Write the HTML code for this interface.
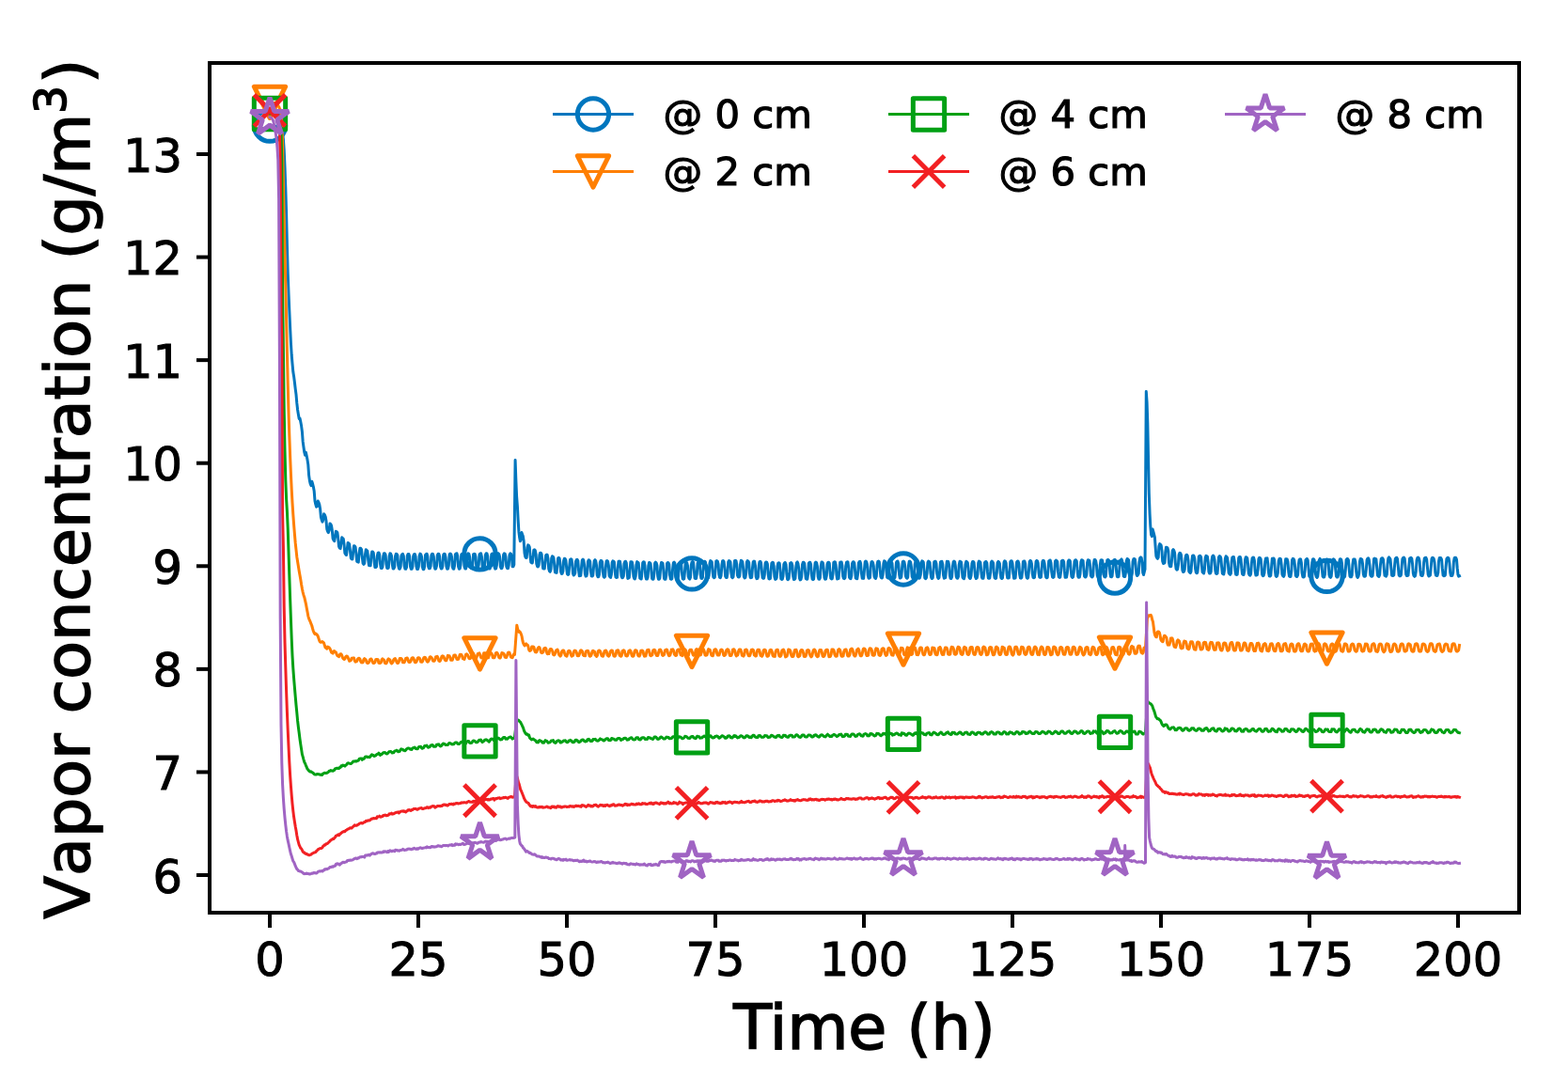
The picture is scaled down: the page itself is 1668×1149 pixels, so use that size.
<!DOCTYPE html><html><head><meta charset="utf-8"><style>html,body{margin:0;padding:0;background:#fff;}svg{display:block;}text{font-family:"DejaVu Sans","Liberation Sans",sans-serif;}</style></head><body>
<svg width="1668" height="1149" viewBox="0 0 1668 1149">
<rect width="1668" height="1149" fill="#fff"/>
<defs><clipPath id="ax"><rect x="223" y="67" width="1393" height="904"/></clipPath></defs>
<g clip-path="url(#ax)">
<path d="M287.0 133.7 L287.8 133.8 L288.6 133.6 L289.4 133.5 L290.2 133.8 L291.0 133.9 L291.8 134.3 L292.6 134.7 L293.4 134.2 L294.2 134.2 L295.0 134.6 L295.8 134.8 L296.6 135.2 L297.4 135.5 L298.2 136.2 L299.0 137.0 L299.8 137.1 L300.6 141.5 L301.4 148.1 L302.2 159.5 L303.0 177.9 L303.8 200.0 L304.6 227.1 L305.4 260.6 L306.2 290.4 L307.0 311.8 L307.8 330.2 L308.6 347.9 L309.4 364.4 L310.2 377.5 L311.0 386.9 L311.8 395.6 L312.6 400.4 L313.4 406.7 L314.2 413.6 L315.0 419.6 L315.8 428.9 L316.6 436.0 L317.4 440.9 L318.2 445.4 L319.0 445.1 L319.8 448.7 L320.6 453.1 L321.4 459.2 L322.2 469.9 L323.0 475.7 L323.8 481.2 L324.6 484.3 L325.4 481.2 L326.2 485.1 L327.0 489.1 L327.8 494.4 L328.6 505.6 L329.4 511.3 L330.2 514.9 L331.0 516.7 L331.8 512.2 L332.6 514.8 L333.4 518.1 L334.2 522.6 L335.0 532.9 L335.8 536.6 L336.6 539.2 L337.4 538.5 L338.2 533.0 L339.0 534.4 L339.8 536.7 L340.6 541.4 L341.4 550.2 L342.2 553.2 L343.0 555.2 L343.8 552.8 L344.6 546.8 L345.4 547.7 L346.2 549.7 L347.0 554.3 L347.8 563.1 L348.6 565.4 L349.4 566.6 L350.2 564.0 L351.0 557.0 L351.8 557.6 L352.5 559.1 L353.3 564.1 L354.1 572.9 L354.9 574.6 L355.7 575.7 L356.5 571.3 L357.3 565.3 L358.1 565.6 L358.9 566.7 L359.7 572.7 L360.5 581.1 L361.3 583.1 L362.1 583.6 L362.9 578.3 L363.7 571.7 L364.5 572.6 L365.3 573.4 L366.1 579.8 L366.9 588.5 L367.7 589.8 L368.5 590.5 L369.3 584.2 L370.1 577.5 L370.9 577.8 L371.7 579.1 L372.5 586.2 L373.3 593.7 L374.1 594.8 L374.9 595.0 L375.7 586.7 L376.5 580.7 L377.3 581.0 L378.1 582.1 L378.9 589.7 L379.7 597.3 L380.5 597.9 L381.3 598.1 L382.1 588.5 L382.9 583.3 L383.7 583.2 L384.5 584.5 L385.3 592.5 L386.1 599.4 L386.9 600.4 L387.7 599.3 L388.5 590.0 L389.3 584.8 L390.1 585.4 L390.9 586.3 L391.7 595.7 L392.5 601.6 L393.3 601.7 L394.1 601.8 L394.9 591.2 L395.7 586.9 L396.5 586.9 L397.3 588.3 L398.1 597.5 L398.9 603.5 L399.7 603.5 L400.5 602.8 L401.3 591.6 L402.1 588.1 L402.9 587.9 L403.7 590.0 L404.5 599.4 L405.3 604.5 L406.1 604.6 L406.9 603.3 L407.7 591.9 L408.5 588.7 L409.3 588.8 L410.1 590.3 L410.9 600.2 L411.7 604.3 L412.5 604.7 L413.3 604.0 L414.1 591.8 L414.9 588.8 L415.7 589.2 L416.5 591.2 L417.3 600.6 L418.1 604.9 L418.9 605.0 L419.7 603.2 L420.5 592.0 L421.3 589.3 L422.1 589.4 L422.9 591.0 L423.7 601.7 L424.5 605.0 L425.3 605.3 L426.1 603.3 L426.9 591.4 L427.7 589.8 L428.5 589.4 L429.3 591.6 L430.1 602.0 L430.9 605.2 L431.7 605.3 L432.5 603.6 L433.3 591.4 L434.1 589.4 L434.9 589.5 L435.7 592.0 L436.5 602.5 L437.3 605.4 L438.1 605.2 L438.9 602.8 L439.7 591.5 L440.5 589.7 L441.3 589.5 L442.1 592.0 L442.9 602.7 L443.7 605.5 L444.5 605.6 L445.3 602.8 L446.1 591.5 L446.9 589.1 L447.7 589.7 L448.5 592.2 L449.3 602.9 L450.1 605.7 L450.9 605.7 L451.7 602.4 L452.5 590.5 L453.3 589.6 L454.1 589.2 L454.9 592.2 L455.7 603.0 L456.5 604.8 L457.3 604.7 L458.1 602.5 L458.9 590.8 L459.7 589.3 L460.5 589.5 L461.3 592.1 L462.1 602.5 L462.9 605.2 L463.7 605.0 L464.5 601.8 L465.3 590.8 L466.1 589.3 L466.9 589.5 L467.7 592.2 L468.5 602.8 L469.3 604.9 L470.1 604.9 L470.9 602.0 L471.7 590.3 L472.5 589.3 L473.3 589.5 L474.1 593.0 L474.9 602.7 L475.7 605.3 L476.5 605.1 L477.3 601.7 L478.1 590.0 L478.9 589.0 L479.7 589.5 L480.5 592.5 L481.3 603.1 L482.0 605.0 L482.8 605.3 L483.6 601.5 L484.4 589.7 L485.2 588.9 L486.0 588.8 L486.8 591.7 L487.6 602.9 L488.4 605.3 L489.2 604.9 L490.0 601.0 L490.8 589.9 L491.6 589.3 L492.4 589.2 L493.2 592.6 L494.0 603.0 L494.8 604.9 L495.6 605.0 L496.4 601.3 L497.2 590.1 L498.0 588.7 L498.8 589.2 L499.6 592.4 L500.4 603.3 L501.2 604.5 L502.0 604.7 L502.8 601.0 L503.6 589.6 L504.4 589.3 L505.2 589.4 L506.0 592.4 L506.8 603.1 L507.6 604.9 L508.4 604.1 L509.2 601.1 L510.0 589.9 L510.8 588.9 L511.6 588.8 L512.4 592.4 L513.2 602.9 L514.0 605.1 L514.8 604.8 L515.6 601.0 L516.4 590.3 L517.2 588.7 L518.0 589.0 L518.8 592.0 L519.6 603.3 L520.4 605.0 L521.2 605.0 L522.0 601.3 L522.8 590.0 L523.6 588.9 L524.4 589.0 L525.2 592.4 L526.0 602.9 L526.8 605.2 L527.6 604.9 L528.4 601.2 L529.2 589.9 L530.0 588.7 L530.8 589.5 L531.6 592.5 L532.4 602.9 L533.2 604.7 L534.0 604.5 L534.8 601.3 L535.6 590.3 L536.4 588.8 L537.2 589.1 L538.0 592.3 L538.8 602.9 L539.6 604.5 L540.4 604.8 L541.2 601.3 L542.0 590.4 L542.8 588.8 L543.6 589.3 L544.4 592.7 L545.2 602.8 L546.0 602.7 L546.8 600.7 L548.1 489.6 L548.9 512.1 L549.6 528.1 L550.4 538.7 L551.1 552.5 L551.9 565.7 L552.6 571.4 L553.4 575.7 L554.2 573.3 L554.9 566.4 L555.7 568.7 L556.4 570.6 L557.2 576.0 L558.0 588.2 L558.7 592.1 L559.5 593.4 L560.2 593.4 L561.0 582.5 L561.7 579.9 L562.5 580.3 L563.3 582.2 L564.0 590.7 L564.8 598.1 L565.5 598.8 L566.3 599.0 L567.0 593.3 L567.8 585.1 L568.6 584.8 L569.3 585.5 L570.1 589.3 L570.8 599.8 L571.6 602.5 L572.3 603.0 L573.1 601.6 L573.9 590.4 L574.6 588.3 L575.4 588.2 L576.1 589.4 L576.9 597.6 L577.7 604.8 L578.4 605.0 L579.2 605.0 L579.9 598.7 L580.7 590.6 L581.4 590.1 L582.2 590.3 L583.0 594.6 L583.7 605.1 L584.5 607.6 L585.2 608.3 L586.0 605.9 L586.7 594.0 L587.5 591.7 L588.3 592.2 L589.0 593.6 L589.8 602.4 L590.5 608.8 L591.3 609.2 L592.1 609.4 L592.8 601.7 L593.6 594.1 L594.3 593.3 L595.1 594.0 L595.8 598.2 L596.6 608.5 L597.4 610.4 L598.1 610.3 L598.9 607.9 L599.6 596.5 L600.4 594.2 L601.1 594.4 L601.9 596.0 L602.7 604.7 L603.4 610.7 L604.2 611.4 L604.9 611.0 L605.7 602.4 L606.5 595.4 L607.2 594.8 L608.0 594.9 L608.7 599.5 L609.5 610.3 L610.2 612.0 L611.0 611.4 L611.8 609.6 L612.5 597.4 L613.3 595.6 L614.0 595.2 L614.8 596.7 L615.5 606.2 L616.3 612.7 L617.1 612.4 L617.8 612.4 L618.6 602.9 L619.3 596.0 L620.1 595.1 L620.8 595.9 L621.6 601.1 L622.4 610.8 L623.1 613.1 L623.9 612.9 L624.6 609.8 L625.4 597.7 L626.2 595.8 L626.9 595.9 L627.7 597.4 L628.4 607.2 L629.2 612.8 L629.9 613.1 L630.7 612.4 L631.5 603.6 L632.2 596.7 L633.0 595.7 L633.7 596.6 L634.5 601.3 L635.2 611.7 L636.0 613.8 L636.8 613.5 L637.5 611.1 L638.3 598.2 L639.0 596.5 L639.8 596.4 L640.6 597.8 L641.3 608.2 L642.1 613.5 L642.8 614.2 L643.6 613.4 L644.3 604.0 L645.1 596.9 L645.9 596.5 L646.6 597.2 L647.4 601.7 L648.1 612.5 L648.9 613.8 L649.6 614.4 L650.4 611.2 L651.2 598.4 L651.9 596.8 L652.7 597.1 L653.4 598.0 L654.2 608.2 L655.0 614.0 L655.7 614.4 L656.5 614.3 L657.2 605.0 L658.0 597.3 L658.7 597.1 L659.5 597.3 L660.3 602.3 L661.0 612.8 L661.8 614.7 L662.5 614.5 L663.3 612.9 L664.0 599.6 L664.8 597.4 L665.6 597.3 L666.3 598.8 L667.1 608.6 L667.8 615.4 L668.6 615.1 L669.3 614.6 L670.1 606.3 L670.9 597.7 L671.6 597.7 L672.4 598.1 L673.1 601.9 L673.9 613.0 L674.7 615.5 L675.4 616.0 L676.2 612.8 L676.9 600.8 L677.7 597.6 L678.4 598.1 L679.2 598.8 L680.0 608.2 L680.7 615.0 L681.5 615.7 L682.2 616.0 L683.0 608.5 L683.7 598.7 L684.5 597.8 L685.3 597.9 L686.0 601.8 L686.8 613.4 L687.5 616.0 L688.3 616.1 L689.1 614.2 L689.8 602.0 L690.6 598.4 L691.3 598.6 L692.1 599.8 L692.8 607.4 L693.6 615.4 L694.4 616.3 L695.1 616.0 L695.9 610.1 L696.6 599.4 L697.4 598.2 L698.1 598.8 L698.9 601.4 L699.7 612.9 L700.4 616.2 L701.2 616.3 L701.9 615.1 L702.7 603.5 L703.5 598.6 L704.2 598.6 L705.0 599.2 L705.7 605.6 L706.5 615.4 L707.2 616.2 L708.0 616.2 L708.8 612.0 L709.5 599.5 L710.3 598.6 L711.0 598.7 L711.8 600.6 L712.5 611.4 L713.3 616.1 L714.1 616.2 L714.8 615.7 L715.6 605.4 L716.3 598.9 L717.1 598.1 L717.8 599.0 L718.6 604.1 L719.4 614.6 L720.1 616.2 L720.9 616.4 L721.6 613.0 L722.4 600.8 L723.2 598.4 L723.9 598.4 L724.7 599.8 L725.4 609.1 L726.2 615.6 L726.9 616.3 L727.7 615.8 L728.5 607.9 L729.2 598.4 L730.0 598.2 L730.7 598.6 L731.5 602.1 L732.2 613.2 L733.0 615.4 L733.8 616.1 L734.5 614.2 L735.3 601.1 L736.0 598.0 L736.8 597.4 L737.6 598.3 L738.3 606.1 L739.1 615.1 L739.8 615.5 L740.6 615.4 L741.3 610.7 L742.1 599.1 L742.9 597.5 L743.6 597.5 L744.4 599.5 L745.1 610.7 L745.9 615.2 L746.6 615.4 L747.4 614.5 L748.2 604.1 L748.9 597.4 L749.7 597.2 L750.4 597.8 L751.2 603.1 L751.9 613.7 L752.7 615.1 L753.5 614.8 L754.2 612.2 L755.0 599.1 L755.7 596.6 L756.5 597.1 L757.3 598.2 L758.0 607.7 L758.8 613.8 L759.5 614.7 L760.3 614.2 L761.0 606.9 L761.8 596.9 L762.6 596.6 L763.3 597.1 L764.1 600.2 L764.8 611.2 L765.6 614.4 L766.3 614.7 L767.1 612.5 L767.9 601.2 L768.6 596.8 L769.4 596.6 L770.1 597.6 L770.9 604.1 L771.7 613.3 L772.4 614.4 L773.2 614.4 L773.9 610.2 L774.7 598.0 L775.4 596.6 L776.2 596.9 L777.0 598.1 L777.7 608.4 L778.5 614.0 L779.2 614.7 L780.0 613.8 L780.7 605.5 L781.5 596.7 L782.3 596.3 L783.0 596.6 L783.8 600.8 L784.5 612.1 L785.3 613.9 L786.1 614.1 L786.8 612.8 L787.6 600.2 L788.3 596.3 L789.1 596.8 L789.8 597.5 L790.6 604.9 L791.4 613.5 L792.1 614.9 L792.9 614.4 L793.6 610.3 L794.4 597.9 L795.1 596.6 L795.9 597.0 L796.7 598.7 L797.4 609.7 L798.2 614.6 L798.9 614.7 L799.7 614.4 L800.4 605.2 L801.2 597.8 L802.0 597.0 L802.7 597.4 L803.5 602.0 L804.2 613.4 L805.0 615.7 L805.8 615.3 L806.5 613.7 L807.3 601.6 L808.0 597.6 L808.8 597.3 L809.5 598.5 L810.3 606.0 L811.1 614.5 L811.8 615.3 L812.6 615.2 L813.3 611.4 L814.1 599.1 L814.8 597.9 L815.6 598.1 L816.4 600.1 L817.1 610.4 L817.9 615.8 L818.6 615.9 L819.4 615.5 L820.2 606.6 L820.9 599.0 L821.7 598.2 L822.4 598.4 L823.2 602.3 L823.9 613.6 L824.7 616.4 L825.5 616.0 L826.2 614.6 L827.0 602.6 L827.7 599.3 L828.5 598.7 L829.2 599.2 L830.0 606.2 L830.8 615.9 L831.5 616.4 L832.3 616.3 L833.0 613.0 L833.8 600.5 L834.6 598.8 L835.3 598.5 L836.1 600.6 L836.8 610.5 L837.6 616.2 L838.3 616.7 L839.1 615.6 L839.9 608.7 L840.6 599.2 L841.4 598.6 L842.1 598.9 L842.9 601.7 L843.6 612.7 L844.4 616.4 L845.2 616.3 L845.9 615.3 L846.7 603.9 L847.4 598.7 L848.2 597.9 L848.9 599.3 L849.7 604.6 L850.5 615.1 L851.2 616.9 L852.0 616.4 L852.7 613.3 L853.5 600.8 L854.3 598.2 L855.0 598.3 L855.8 599.6 L856.5 607.6 L857.3 615.7 L858.0 616.0 L858.8 616.2 L859.6 610.6 L860.3 599.4 L861.1 598.3 L861.8 598.3 L862.6 600.5 L863.3 611.0 L864.1 616.0 L864.9 616.7 L865.6 616.1 L866.4 606.7 L867.1 598.9 L867.9 598.1 L868.7 598.9 L869.4 602.4 L870.2 613.6 L870.9 616.0 L871.7 616.2 L872.4 614.6 L873.2 602.6 L874.0 598.1 L874.7 598.1 L875.5 599.4 L876.2 605.2 L877.0 614.7 L877.7 616.2 L878.5 616.1 L879.3 612.5 L880.0 600.2 L880.8 598.4 L881.5 598.2 L882.3 599.4 L883.0 608.8 L883.8 615.2 L884.6 616.0 L885.3 615.6 L886.1 610.1 L886.8 598.5 L887.6 597.8 L888.4 598.0 L889.1 600.6 L889.9 611.4 L890.6 616.0 L891.4 615.5 L892.1 615.4 L892.9 605.7 L893.7 598.2 L894.4 598.0 L895.2 598.0 L895.9 601.6 L896.7 613.1 L897.4 615.3 L898.2 615.6 L899.0 614.5 L899.7 602.5 L900.5 598.4 L901.2 597.7 L902.0 598.0 L902.8 604.3 L903.5 614.1 L904.3 615.4 L905.0 615.7 L905.8 612.6 L906.5 599.7 L907.3 598.0 L908.1 597.7 L908.8 598.9 L909.6 607.3 L910.3 615.0 L911.1 615.6 L911.8 615.7 L912.6 610.4 L913.4 599.0 L914.1 597.7 L914.9 597.3 L915.6 599.5 L916.4 609.9 L917.2 615.2 L917.9 615.2 L918.7 615.4 L919.4 607.0 L920.2 597.8 L920.9 597.0 L921.7 597.6 L922.5 600.7 L923.2 611.8 L924.0 615.2 L924.7 615.2 L925.5 614.5 L926.2 603.4 L927.0 597.7 L927.8 597.6 L928.5 598.4 L929.3 602.3 L930.0 613.1 L930.8 615.0 L931.5 615.4 L932.3 613.1 L933.1 600.9 L933.8 597.4 L934.6 597.0 L935.3 597.8 L936.1 604.6 L936.9 613.5 L937.6 614.8 L938.4 615.0 L939.1 611.9 L939.9 599.3 L940.6 596.8 L941.4 597.1 L942.2 598.6 L942.9 607.3 L943.7 614.4 L944.4 614.9 L945.2 615.0 L945.9 609.5 L946.7 598.1 L947.5 596.9 L948.2 597.6 L949.0 599.1 L949.7 609.7 L950.5 614.5 L951.3 615.3 L952.0 614.4 L952.8 606.9 L953.5 598.4 L954.3 597.2 L955.0 597.1 L955.8 600.0 L956.6 611.2 L957.3 615.1 L958.1 614.9 L958.8 613.8 L959.6 604.1 L960.3 597.5 L961.1 597.1 L961.9 597.7 L962.6 601.5 L963.4 612.7 L964.1 614.6 L964.9 615.2 L965.7 614.2 L966.4 602.1 L967.2 597.3 L967.9 597.1 L968.7 598.1 L969.4 602.9 L970.2 613.3 L971.0 615.1 L971.7 615.2 L972.5 612.7 L973.2 600.3 L974.0 597.1 L974.7 597.1 L975.5 597.9 L976.3 604.8 L977.0 614.0 L977.8 615.2 L978.5 614.7 L979.3 611.5 L980.0 599.3 L980.8 596.9 L981.6 597.2 L982.3 598.1 L983.1 607.4 L983.8 614.9 L984.6 615.6 L985.4 614.8 L986.1 610.0 L986.9 598.5 L987.6 597.1 L988.4 597.6 L989.1 598.6 L989.9 609.2 L990.7 614.6 L991.4 615.5 L992.2 614.8 L992.9 607.7 L993.7 598.1 L994.4 597.3 L995.2 597.3 L996.0 599.8 L996.7 610.3 L997.5 614.3 L998.2 615.4 L999.0 614.7 L999.8 605.9 L1000.5 597.8 L1001.3 597.4 L1002.0 597.3 L1002.8 600.4 L1003.5 611.6 L1004.3 615.2 L1005.1 614.8 L1005.8 614.6 L1006.6 603.8 L1007.3 597.3 L1008.1 597.5 L1008.8 597.5 L1009.6 601.3 L1010.4 612.5 L1011.1 615.3 L1011.9 615.5 L1012.6 613.8 L1013.4 602.5 L1014.2 597.7 L1014.9 597.0 L1015.7 597.8 L1016.4 602.8 L1017.2 613.2 L1017.9 615.0 L1018.7 615.2 L1019.5 613.4 L1020.2 601.0 L1021.0 597.3 L1021.7 597.5 L1022.5 598.0 L1023.2 604.3 L1024.0 614.1 L1024.8 615.3 L1025.5 615.7 L1026.3 612.5 L1027.0 600.4 L1027.8 597.3 L1028.5 597.8 L1029.3 598.6 L1030.1 604.9 L1030.8 613.9 L1031.6 615.4 L1032.3 615.4 L1033.1 612.2 L1033.9 599.5 L1034.6 597.5 L1035.4 597.5 L1036.1 598.4 L1036.9 606.8 L1037.6 613.9 L1038.4 615.5 L1039.2 614.9 L1039.9 611.4 L1040.7 599.0 L1041.4 597.1 L1042.2 597.5 L1042.9 598.4 L1043.7 607.4 L1044.5 614.3 L1045.2 615.3 L1046.0 615.2 L1046.7 610.5 L1047.5 598.7 L1048.3 597.6 L1049.0 597.4 L1049.8 598.9 L1050.5 608.7 L1051.3 615.1 L1052.0 615.3 L1052.8 615.0 L1053.6 609.3 L1054.3 598.5 L1055.1 597.1 L1055.8 597.7 L1056.6 599.1 L1057.3 609.4 L1058.1 614.7 L1058.9 615.5 L1059.6 615.1 L1060.4 608.5 L1061.1 598.8 L1061.9 597.4 L1062.6 597.9 L1063.4 599.6 L1064.2 609.6 L1064.9 614.9 L1065.7 615.5 L1066.4 615.0 L1067.2 607.9 L1068.0 598.1 L1068.7 596.8 L1069.5 597.3 L1070.2 599.0 L1071.0 610.2 L1071.7 614.8 L1072.5 615.1 L1073.3 614.8 L1074.0 607.4 L1074.8 597.6 L1075.5 596.7 L1076.3 597.0 L1077.0 599.1 L1077.8 610.1 L1078.6 615.3 L1079.3 615.0 L1080.1 614.9 L1080.8 606.6 L1081.6 597.9 L1082.4 597.0 L1083.1 597.2 L1083.9 599.8 L1084.6 610.9 L1085.4 614.9 L1086.1 615.2 L1086.9 614.4 L1087.7 606.8 L1088.4 597.6 L1089.2 597.1 L1089.9 597.1 L1090.7 600.0 L1091.4 609.9 L1092.2 614.6 L1093.0 615.2 L1093.7 614.4 L1094.5 606.3 L1095.2 597.4 L1096.0 596.4 L1096.8 597.0 L1097.5 600.0 L1098.3 610.5 L1099.0 614.3 L1099.8 614.7 L1100.5 614.3 L1101.3 606.7 L1102.1 597.2 L1102.8 596.4 L1103.6 597.0 L1104.3 599.3 L1105.1 609.8 L1105.8 614.1 L1106.6 614.4 L1107.4 614.1 L1108.1 606.1 L1108.9 597.5 L1109.6 596.3 L1110.4 596.7 L1111.1 599.3 L1111.9 609.7 L1112.7 614.0 L1113.4 614.8 L1114.2 614.4 L1114.9 606.8 L1115.7 597.0 L1116.5 596.3 L1117.2 596.0 L1118.0 598.8 L1118.7 608.3 L1119.5 613.8 L1120.2 614.4 L1121.0 614.0 L1121.8 607.5 L1122.5 597.2 L1123.3 596.1 L1124.0 596.5 L1124.8 597.6 L1125.5 608.2 L1126.3 613.7 L1127.1 614.4 L1127.8 614.1 L1128.6 607.9 L1129.3 597.1 L1130.1 596.2 L1130.9 596.2 L1131.6 597.6 L1132.4 607.9 L1133.1 614.3 L1133.9 613.9 L1134.6 614.1 L1135.4 609.5 L1136.2 597.6 L1136.9 596.0 L1137.7 595.9 L1138.4 597.2 L1139.2 606.4 L1139.9 613.4 L1140.7 614.4 L1141.5 613.9 L1142.2 609.6 L1143.0 597.3 L1143.7 595.9 L1144.5 595.7 L1145.3 597.0 L1146.0 605.7 L1146.8 613.3 L1147.5 614.3 L1148.3 614.1 L1149.0 610.6 L1149.8 598.0 L1150.6 595.8 L1151.3 596.0 L1152.1 596.5 L1152.8 604.5 L1153.6 613.0 L1154.3 613.9 L1155.1 613.9 L1155.9 611.2 L1156.6 598.7 L1157.4 595.7 L1158.1 596.0 L1158.9 596.3 L1159.6 602.3 L1160.4 612.4 L1161.2 613.5 L1161.9 614.0 L1162.7 612.3 L1163.4 599.8 L1164.2 595.5 L1165.0 595.5 L1165.7 596.7 L1166.5 601.6 L1167.2 612.0 L1168.0 614.2 L1168.7 614.6 L1169.5 612.9 L1170.3 601.0 L1171.0 596.0 L1171.8 595.8 L1172.5 595.9 L1173.3 600.0 L1174.0 611.3 L1174.8 613.6 L1175.6 614.0 L1176.3 613.1 L1177.1 603.2 L1177.8 595.8 L1178.6 595.5 L1179.4 595.8 L1180.1 599.2 L1180.9 610.5 L1181.6 613.6 L1182.4 613.8 L1183.1 612.9 L1183.9 604.4 L1184.7 596.3 L1185.4 595.5 L1186.2 595.4 L1186.9 597.9 L1187.7 608.8 L1188.4 613.6 L1189.2 613.8 L1190.0 613.4 L1190.7 606.4 L1191.5 596.2 L1192.2 595.8 L1193.0 594.9 L1193.8 597.0 L1194.5 606.8 L1195.3 613.0 L1196.0 613.5 L1196.8 613.4 L1197.5 608.7 L1198.3 596.7 L1199.1 594.5 L1199.8 594.9 L1200.6 595.8 L1201.3 604.0 L1202.1 612.3 L1202.8 613.3 L1203.6 613.2 L1204.4 609.8 L1205.1 597.4 L1205.9 594.7 L1206.6 594.5 L1207.4 595.2 L1208.1 601.2 L1208.9 610.8 L1209.7 612.5 L1210.4 611.9 L1211.2 610.4 L1211.9 597.9 L1212.7 593.6 L1213.5 592.9 L1214.2 593.5 L1215.0 598.2 L1215.7 609.3 L1216.5 611.5 L1217.2 608.8 L1218.0 605.7 L1219.3 416.5 L1220.1 428.2 L1220.8 449.7 L1221.6 490.9 L1222.3 525.1 L1223.1 546.8 L1223.8 559.6 L1224.6 568.9 L1225.4 570.6 L1226.1 563.0 L1226.9 565.6 L1227.6 568.4 L1228.4 571.5 L1229.1 581.3 L1229.9 591.6 L1230.7 593.5 L1231.4 594.3 L1232.2 592.9 L1232.9 581.2 L1233.7 578.6 L1234.4 579.1 L1235.2 580.3 L1236.0 586.1 L1236.7 597.1 L1237.5 599.4 L1238.2 599.3 L1239.0 598.7 L1239.7 588.0 L1240.5 582.3 L1241.3 582.5 L1242.0 582.9 L1242.8 586.4 L1243.5 598.5 L1244.3 602.2 L1245.0 602.7 L1245.8 602.6 L1246.6 594.8 L1247.3 585.9 L1248.1 584.7 L1248.8 585.7 L1249.6 588.1 L1250.3 598.6 L1251.1 605.0 L1251.9 606.1 L1252.6 605.7 L1253.4 601.0 L1254.1 590.3 L1254.9 588.3 L1255.6 588.4 L1256.4 590.1 L1257.2 598.4 L1257.9 606.8 L1258.7 608.5 L1259.4 608.3 L1260.2 605.9 L1261.0 593.6 L1261.7 590.6 L1262.5 590.2 L1263.2 591.1 L1264.0 596.3 L1264.7 607.7 L1265.5 608.9 L1266.3 609.6 L1267.0 608.2 L1267.8 597.3 L1268.5 591.3 L1269.3 590.9 L1270.0 591.3 L1270.8 594.2 L1271.6 605.1 L1272.3 609.1 L1273.1 609.7 L1273.8 609.2 L1274.6 602.3 L1275.3 592.0 L1276.1 591.2 L1276.9 591.4 L1277.6 592.7 L1278.4 601.8 L1279.1 608.7 L1279.9 609.4 L1280.6 610.0 L1281.4 605.8 L1282.2 593.7 L1282.9 591.3 L1283.7 591.6 L1284.4 592.2 L1285.2 598.5 L1285.9 608.3 L1286.7 610.0 L1287.5 610.0 L1288.2 608.3 L1289.0 596.6 L1289.7 592.1 L1290.5 591.0 L1291.2 591.9 L1292.0 595.3 L1292.8 606.9 L1293.5 610.3 L1294.3 610.4 L1295.0 610.0 L1295.8 601.1 L1296.5 592.8 L1297.3 591.6 L1298.1 592.0 L1298.8 593.8 L1299.6 603.2 L1300.3 609.9 L1301.1 610.8 L1301.8 610.9 L1302.6 606.5 L1303.4 594.2 L1304.1 591.8 L1304.9 592.4 L1305.6 593.5 L1306.4 599.9 L1307.1 609.4 L1307.9 610.6 L1308.7 611.3 L1309.4 610.1 L1310.2 597.6 L1310.9 593.0 L1311.7 592.5 L1312.4 592.5 L1313.2 596.9 L1314.0 607.5 L1314.7 611.1 L1315.5 611.5 L1316.2 611.1 L1317.0 603.0 L1317.7 593.6 L1318.5 592.5 L1319.3 592.5 L1320.0 594.6 L1320.8 604.2 L1321.5 610.7 L1322.3 611.4 L1323.0 611.5 L1323.8 607.5 L1324.6 595.1 L1325.3 592.7 L1326.1 593.0 L1326.8 593.9 L1327.6 600.5 L1328.3 609.8 L1329.1 611.7 L1329.9 612.2 L1330.6 610.7 L1331.4 599.3 L1332.1 594.0 L1332.9 593.1 L1333.6 593.2 L1334.4 596.2 L1335.2 607.8 L1335.9 612.0 L1336.7 611.9 L1337.4 611.6 L1338.2 605.6 L1338.9 594.8 L1339.7 593.3 L1340.5 593.7 L1341.2 595.0 L1342.0 603.0 L1342.7 611.4 L1343.5 612.6 L1344.2 612.3 L1345.0 609.4 L1345.8 597.2 L1346.5 594.0 L1347.3 594.1 L1348.0 593.7 L1348.8 599.6 L1349.6 609.7 L1350.3 612.8 L1351.1 613.1 L1351.8 612.3 L1352.6 602.8 L1353.3 594.3 L1354.1 594.1 L1354.9 593.9 L1355.6 595.5 L1356.4 607.1 L1357.1 612.6 L1357.9 613.5 L1358.6 612.6 L1359.4 609.2 L1360.2 596.8 L1360.9 594.6 L1361.7 594.2 L1362.4 594.7 L1363.2 601.2 L1363.9 610.9 L1364.7 612.7 L1365.5 613.3 L1366.2 611.8 L1367.0 600.8 L1367.7 594.7 L1368.5 594.8 L1369.2 595.0 L1370.0 597.5 L1370.8 608.8 L1371.5 612.9 L1372.3 613.4 L1373.0 613.4 L1373.8 607.3 L1374.5 596.0 L1375.3 594.3 L1376.1 594.6 L1376.8 596.1 L1377.6 603.2 L1378.3 612.4 L1379.1 613.4 L1379.8 613.4 L1380.6 611.6 L1381.4 600.0 L1382.1 595.6 L1382.9 594.8 L1383.6 594.9 L1384.4 598.8 L1385.1 609.8 L1385.9 613.8 L1386.7 614.0 L1387.4 613.5 L1388.2 606.6 L1388.9 595.9 L1389.7 594.8 L1390.4 594.5 L1391.2 596.2 L1392.0 604.5 L1392.7 612.9 L1393.5 613.8 L1394.2 614.0 L1395.0 611.8 L1395.7 598.7 L1396.5 595.0 L1397.3 594.7 L1398.0 595.6 L1398.8 599.9 L1399.5 610.9 L1400.3 613.8 L1401.0 614.5 L1401.8 613.2 L1402.6 606.2 L1403.3 595.9 L1404.1 594.4 L1404.8 595.8 L1405.6 597.0 L1406.3 605.3 L1407.1 613.3 L1407.9 614.1 L1408.6 614.1 L1409.4 611.2 L1410.1 598.7 L1410.9 595.4 L1411.6 595.1 L1412.4 595.8 L1413.2 599.8 L1413.9 611.6 L1414.7 613.8 L1415.4 614.3 L1416.2 613.1 L1416.9 605.3 L1417.7 596.3 L1418.5 594.8 L1419.2 595.2 L1420.0 596.6 L1420.7 605.4 L1421.5 613.1 L1422.2 614.0 L1423.0 613.9 L1423.8 611.8 L1424.5 599.0 L1425.3 595.0 L1426.0 594.7 L1426.8 595.4 L1427.5 599.4 L1428.3 610.9 L1429.1 614.5 L1429.8 614.3 L1430.6 613.5 L1431.3 606.2 L1432.1 595.7 L1432.9 594.6 L1433.6 594.6 L1434.4 595.9 L1435.1 604.0 L1435.9 612.9 L1436.6 613.8 L1437.4 613.8 L1438.2 611.9 L1438.9 600.7 L1439.7 595.1 L1440.4 595.0 L1441.2 595.0 L1441.9 597.8 L1442.7 608.1 L1443.5 613.4 L1444.2 614.4 L1445.0 613.2 L1445.7 609.9 L1446.5 597.4 L1447.2 594.6 L1448.0 594.6 L1448.8 595.2 L1449.5 599.4 L1450.3 610.6 L1451.0 613.1 L1451.8 613.3 L1452.5 612.8 L1453.3 606.1 L1454.1 595.6 L1454.8 594.3 L1455.6 593.8 L1456.3 595.6 L1457.1 602.0 L1457.8 611.7 L1458.6 613.1 L1459.4 613.3 L1460.1 612.5 L1460.9 603.3 L1461.6 594.4 L1462.4 594.1 L1463.1 594.7 L1463.9 594.8 L1464.7 603.6 L1465.4 611.9 L1466.2 613.0 L1466.9 613.4 L1467.7 611.5 L1468.4 601.4 L1469.2 594.7 L1470.0 593.7 L1470.7 593.7 L1471.5 595.4 L1472.2 604.0 L1473.0 612.3 L1473.7 612.7 L1474.5 613.1 L1475.3 611.2 L1476.0 600.7 L1476.8 594.1 L1477.5 592.9 L1478.3 593.7 L1479.0 595.0 L1479.8 603.9 L1480.6 612.1 L1481.3 612.5 L1482.1 612.5 L1482.8 611.8 L1483.6 600.9 L1484.3 594.4 L1485.1 593.5 L1485.9 593.3 L1486.6 594.9 L1487.4 603.5 L1488.1 611.7 L1488.9 612.7 L1489.6 612.7 L1490.4 611.7 L1491.2 602.0 L1491.9 594.7 L1492.7 593.4 L1493.4 593.1 L1494.2 594.4 L1494.9 601.7 L1495.7 611.0 L1496.5 612.6 L1497.2 612.5 L1498.0 612.1 L1498.7 604.3 L1499.5 594.3 L1500.2 593.6 L1501.0 593.3 L1501.8 594.2 L1502.5 599.5 L1503.3 609.9 L1504.0 612.5 L1504.8 613.3 L1505.5 612.6 L1506.3 607.7 L1507.1 596.0 L1507.8 593.6 L1508.6 593.1 L1509.3 593.8 L1510.1 596.8 L1510.8 606.9 L1511.6 612.1 L1512.4 612.6 L1513.1 612.5 L1513.9 610.0 L1514.6 598.5 L1515.4 593.8 L1516.2 593.4 L1516.9 593.2 L1517.7 595.3 L1518.4 603.1 L1519.2 611.3 L1519.9 613.0 L1520.7 612.5 L1521.5 611.8 L1522.2 604.1 L1523.0 594.5 L1523.7 593.3 L1524.5 593.4 L1525.2 594.3 L1526.0 598.2 L1526.8 609.0 L1527.5 612.1 L1528.3 612.5 L1529.0 612.3 L1529.8 609.1 L1530.5 597.2 L1531.3 593.4 L1532.1 593.4 L1532.8 593.7 L1533.6 595.3 L1534.3 604.4 L1535.1 612.0 L1535.8 612.7 L1536.6 612.5 L1537.4 611.8 L1538.1 603.2 L1538.9 594.6 L1539.6 593.6 L1540.4 593.2 L1541.1 594.0 L1541.9 598.9 L1542.7 609.0 L1543.4 612.4 L1544.2 612.5 L1544.9 612.3 L1545.7 609.4 L1546.4 598.0 L1547.2 593.6 L1548.0 593.2 L1548.7 593.4 L1549.5 595.3 L1550.2 604.2 L1551.0 611.5 L1551.7 613.2 L1552.5 612.8" fill="none" stroke="#0076be" stroke-width="3.00" stroke-linejoin="round" stroke-linecap="square"/>
<circle cx="287.00" cy="133.70" r="16.66" fill="none" stroke="#0076be" stroke-width="5.00"/>
<circle cx="510.50" cy="589.40" r="16.66" fill="none" stroke="#0076be" stroke-width="5.00"/>
<circle cx="736.00" cy="610.40" r="16.66" fill="none" stroke="#0076be" stroke-width="5.00"/>
<circle cx="961.00" cy="605.50" r="16.66" fill="none" stroke="#0076be" stroke-width="5.00"/>
<circle cx="1186.00" cy="614.60" r="16.66" fill="none" stroke="#0076be" stroke-width="5.00"/>
<circle cx="1411.50" cy="612.90" r="16.66" fill="none" stroke="#0076be" stroke-width="5.00"/>
<path d="M287.0 109.2 L287.8 108.9 L288.6 109.1 L289.4 108.7 L290.2 109.2 L291.0 109.4 L291.8 109.5 L292.6 109.3 L293.4 110.3 L294.2 110.4 L295.0 111.2 L295.8 112.2 L296.6 113.5 L297.4 115.2 L298.2 116.7 L299.0 120.9 L299.8 133.5 L300.6 152.5 L301.4 194.1 L302.2 231.9 L303.0 267.9 L303.8 303.7 L304.6 340.1 L305.4 374.5 L306.2 407.8 L307.0 438.2 L307.8 463.0 L308.6 484.9 L309.4 503.8 L310.2 520.6 L311.0 534.8 L311.8 547.2 L312.6 558.2 L313.4 568.1 L314.2 577.5 L315.0 584.8 L315.8 592.4 L316.6 597.6 L317.4 602.6 L318.2 607.5 L319.0 611.9 L319.8 616.6 L320.6 621.8 L321.4 626.2 L322.2 630.1 L323.0 633.2 L323.8 635.4 L324.6 638.8 L325.4 642.3 L326.2 646.8 L327.0 650.9 L327.8 655.3 L328.6 658.1 L329.4 660.0 L330.2 661.6 L330.9 663.7 L331.7 665.5 L332.5 668.5 L333.3 671.2 L334.1 673.2 L334.9 674.6 L335.7 674.1 L336.5 674.6 L337.3 675.4 L338.1 676.6 L338.9 678.9 L339.7 681.5 L340.5 682.9 L341.3 683.3 L342.1 682.9 L342.9 682.6 L343.7 683.4 L344.5 683.8 L345.3 686.6 L346.1 688.9 L346.9 689.3 L347.7 690.1 L348.5 688.1 L349.3 688.5 L350.1 688.8 L350.9 690.0 L351.7 691.7 L352.5 694.1 L353.3 694.5 L354.1 695.1 L354.9 692.9 L355.7 692.6 L356.5 693.7 L357.3 693.7 L358.1 696.1 L358.9 697.7 L359.7 698.0 L360.5 698.7 L361.3 696.8 L362.1 695.8 L362.9 695.8 L363.7 697.2 L364.5 699.7 L365.3 701.0 L366.1 701.4 L366.9 700.9 L367.7 698.8 L368.5 698.0 L369.3 698.2 L370.1 699.4 L370.9 701.5 L371.7 703.3 L372.5 702.9 L373.3 702.6 L374.1 700.3 L374.9 700.1 L375.7 699.9 L376.5 700.0 L377.3 703.0 L378.1 704.2 L378.9 703.9 L379.7 703.5 L380.5 701.2 L381.3 700.5 L382.1 700.3 L382.9 701.1 L383.7 703.7 L384.5 704.8 L385.3 704.9 L386.1 704.7 L386.9 701.7 L387.7 700.7 L388.5 701.3 L389.3 702.1 L390.1 704.7 L390.9 705.6 L391.7 705.3 L392.5 704.6 L393.3 702.1 L394.1 701.2 L394.9 701.0 L395.7 702.5 L396.5 704.8 L397.3 705.6 L398.1 705.3 L398.9 704.6 L399.7 701.6 L400.5 701.4 L401.3 701.6 L402.1 701.7 L402.9 705.3 L403.7 705.4 L404.5 705.4 L405.3 705.0 L406.1 701.7 L406.9 700.9 L407.7 701.8 L408.5 702.0 L409.3 705.2 L410.1 705.7 L410.9 705.9 L411.7 704.4 L412.5 701.7 L413.3 700.9 L414.1 701.4 L414.9 701.9 L415.7 704.9 L416.5 705.9 L417.2 705.5 L418.0 704.2 L418.8 701.7 L419.6 700.9 L420.4 700.6 L421.2 702.1 L422.0 704.5 L422.8 705.5 L423.6 705.4 L424.4 703.7 L425.2 700.6 L426.0 700.6 L426.8 700.6 L427.6 701.5 L428.4 704.7 L429.2 704.4 L430.0 704.8 L430.8 703.3 L431.6 700.4 L432.4 700.3 L433.2 700.0 L434.0 701.7 L434.8 704.3 L435.6 704.5 L436.4 704.3 L437.2 702.8 L438.0 700.3 L438.8 699.7 L439.6 700.0 L440.4 701.6 L441.2 704.4 L442.0 704.8 L442.8 704.3 L443.6 702.4 L444.4 700.1 L445.2 699.7 L446.0 699.9 L446.8 701.1 L447.6 704.1 L448.4 704.3 L449.2 704.2 L450.0 702.4 L450.8 699.6 L451.6 699.3 L452.4 699.4 L453.2 701.0 L454.0 703.4 L454.8 704.2 L455.6 703.7 L456.4 702.0 L457.2 699.0 L458.0 698.8 L458.8 699.4 L459.6 700.4 L460.4 702.9 L461.2 703.3 L462.0 703.2 L462.8 701.9 L463.6 698.7 L464.4 698.7 L465.2 698.3 L466.0 700.2 L466.8 703.0 L467.6 703.5 L468.4 702.8 L469.2 701.0 L470.0 698.3 L470.8 697.8 L471.6 698.1 L472.4 699.7 L473.2 701.9 L474.0 702.8 L474.8 702.7 L475.6 700.2 L476.4 697.4 L477.2 697.9 L478.0 697.7 L478.8 699.6 L479.6 702.3 L480.4 702.0 L481.2 702.2 L482.0 699.7 L482.8 697.2 L483.6 697.0 L484.4 697.1 L485.2 699.1 L486.0 701.4 L486.8 701.6 L487.6 701.4 L488.4 699.2 L489.2 696.4 L490.0 696.3 L490.8 696.4 L491.6 698.1 L492.4 700.8 L493.2 700.9 L494.0 701.4 L494.8 698.9 L495.6 696.1 L496.4 695.8 L497.2 696.5 L498.0 697.8 L498.8 700.3 L499.6 700.7 L500.4 700.5 L501.2 698.5 L502.0 695.5 L502.8 695.9 L503.6 695.2 L504.3 697.5 L505.1 699.7 L505.9 700.7 L506.7 700.0 L507.5 697.8 L508.3 695.4 L509.1 695.3 L509.9 694.9 L510.7 696.9 L511.5 699.4 L512.3 700.1 L513.1 699.9 L513.9 697.5 L514.7 694.8 L515.5 694.8 L516.3 694.8 L517.1 697.0 L517.9 700.0 L518.7 699.4 L519.5 699.8 L520.3 697.4 L521.1 695.0 L521.9 694.5 L522.7 694.8 L523.5 696.4 L524.3 699.7 L525.1 699.8 L525.9 699.7 L526.7 697.6 L527.5 694.7 L528.3 694.2 L529.1 694.9 L529.9 696.6 L530.7 699.4 L531.5 700.0 L532.3 699.9 L533.1 697.2 L533.9 694.5 L534.7 694.9 L535.5 695.0 L536.3 696.2 L537.1 699.1 L537.9 699.5 L538.7 699.5 L539.5 697.1 L540.3 694.6 L541.1 694.1 L541.9 694.2 L542.7 696.5 L543.5 699.1 L544.3 699.6 L545.1 699.7 L545.9 697.6 L546.7 695.7 L547.5 696.5 L549.8 665.2 L550.6 668.8 L551.3 671.1 L552.1 672.5 L552.8 671.8 L553.6 672.9 L554.3 674.5 L555.1 676.9 L555.9 681.5 L556.6 684.2 L557.4 686.0 L558.1 687.0 L558.9 685.7 L559.7 684.8 L560.4 686.1 L561.2 686.1 L561.9 687.7 L562.7 691.4 L563.4 692.4 L564.2 692.3 L565.0 691.5 L565.7 688.1 L566.5 688.0 L567.2 688.1 L568.0 688.6 L568.8 692.5 L569.5 693.7 L570.3 693.9 L571.0 693.5 L571.8 690.4 L572.5 689.1 L573.3 688.5 L574.1 689.2 L574.8 691.4 L575.6 694.1 L576.3 694.7 L577.1 694.4 L577.9 693.7 L578.6 690.1 L579.4 689.6 L580.1 689.2 L580.9 690.2 L581.6 694.3 L582.4 695.8 L583.2 695.6 L583.9 695.6 L584.7 691.7 L585.4 690.4 L586.2 690.5 L586.9 691.0 L587.7 692.8 L588.5 696.4 L589.2 696.9 L590.0 696.4 L590.7 694.8 L591.5 691.9 L592.3 691.4 L593.0 691.1 L593.8 692.9 L594.5 696.3 L595.3 697.3 L596.0 698.1 L596.8 697.3 L597.6 693.4 L598.3 692.3 L599.1 691.9 L599.8 692.3 L600.6 695.0 L601.4 697.4 L602.1 697.7 L602.9 698.2 L603.6 696.1 L604.4 692.7 L605.1 692.3 L605.9 692.4 L606.7 693.6 L607.4 696.8 L608.2 698.2 L608.9 697.6 L609.7 697.3 L610.5 693.1 L611.2 692.1 L612.0 692.3 L612.7 692.8 L613.5 694.8 L614.2 697.6 L615.0 697.8 L615.8 697.6 L616.5 695.5 L617.3 692.5 L618.0 691.7 L618.8 692.3 L619.6 693.2 L620.3 696.7 L621.1 697.6 L621.8 697.5 L622.6 697.8 L623.3 693.1 L624.1 692.6 L624.9 692.3 L625.6 692.4 L626.4 694.8 L627.1 697.9 L627.9 698.3 L628.6 697.6 L629.4 695.7 L630.2 692.7 L630.9 692.2 L631.7 692.7 L632.4 693.1 L633.2 697.1 L634.0 697.6 L634.7 698.4 L635.5 697.2 L636.2 692.8 L637.0 692.1 L637.7 692.1 L638.5 692.9 L639.3 695.0 L640.0 697.7 L640.8 698.1 L641.5 698.2 L642.3 695.7 L643.1 692.6 L643.8 692.2 L644.6 692.1 L645.3 693.2 L646.1 697.0 L646.8 697.7 L647.6 698.2 L648.4 697.1 L649.1 693.6 L649.9 692.3 L650.6 692.0 L651.4 692.2 L652.2 695.0 L652.9 697.8 L653.7 698.2 L654.4 698.0 L655.2 696.0 L655.9 692.2 L656.7 692.1 L657.5 691.7 L658.2 693.3 L659.0 697.0 L659.7 697.8 L660.5 698.3 L661.2 697.7 L662.0 692.7 L662.8 692.1 L663.5 691.7 L664.3 692.6 L665.0 695.5 L665.8 697.6 L666.6 698.0 L667.3 697.8 L668.1 696.0 L668.8 692.5 L669.6 692.3 L670.3 691.8 L671.1 693.3 L671.9 696.5 L672.6 698.0 L673.4 698.2 L674.1 697.7 L674.9 693.2 L675.7 691.8 L676.4 691.8 L677.2 692.1 L677.9 694.8 L678.7 697.2 L679.4 698.0 L680.2 698.0 L681.0 696.3 L681.7 692.3 L682.5 692.1 L683.2 691.9 L684.0 692.8 L684.8 696.5 L685.5 698.2 L686.3 697.3 L687.0 697.8 L687.8 693.6 L688.5 691.7 L689.3 691.4 L690.1 691.3 L690.8 693.8 L691.6 697.1 L692.3 697.8 L693.1 697.3 L693.9 696.7 L694.6 692.1 L695.4 691.4 L696.1 691.3 L696.9 691.9 L697.6 695.5 L698.4 697.3 L699.2 697.6 L699.9 697.3 L700.7 693.6 L701.4 691.4 L702.2 691.1 L702.9 691.5 L703.7 693.7 L704.5 697.0 L705.2 697.4 L706.0 697.0 L706.7 696.1 L707.5 691.6 L708.3 691.4 L709.0 691.0 L709.8 691.7 L710.5 694.9 L711.3 697.2 L712.0 697.7 L712.8 697.0 L713.6 694.3 L714.3 691.1 L715.1 691.3 L715.8 690.9 L716.6 692.2 L717.4 696.1 L718.1 696.9 L718.9 697.4 L719.6 697.3 L720.4 692.0 L721.1 691.2 L721.9 691.0 L722.7 691.0 L723.4 694.0 L724.2 696.9 L724.9 697.1 L725.7 697.6 L726.5 694.6 L727.2 691.3 L728.0 691.0 L728.7 690.8 L729.5 691.9 L730.2 696.0 L731.0 697.2 L731.8 697.3 L732.5 697.0 L733.3 692.3 L734.0 691.3 L734.8 691.4 L735.5 691.3 L736.3 693.5 L737.1 696.4 L737.8 697.2 L738.6 697.0 L739.3 695.8 L740.1 691.7 L740.9 690.6 L741.6 690.8 L742.4 691.0 L743.1 695.0 L743.9 697.1 L744.6 697.1 L745.4 696.9 L746.2 694.4 L746.9 690.7 L747.7 690.5 L748.4 690.7 L749.2 692.7 L750.0 696.9 L750.7 697.3 L751.5 697.1 L752.2 696.5 L753.0 692.3 L753.7 690.6 L754.5 691.2 L755.3 691.5 L756.0 694.1 L756.8 697.2 L757.5 697.5 L758.3 697.7 L759.1 695.0 L759.8 691.5 L760.6 690.8 L761.3 690.7 L762.1 691.8 L762.8 695.8 L763.6 697.1 L764.4 697.0 L765.1 696.9 L765.9 693.6 L766.6 691.5 L767.4 691.1 L768.2 691.4 L768.9 692.9 L769.7 696.9 L770.4 697.5 L771.2 697.2 L771.9 696.2 L772.7 691.8 L773.5 690.9 L774.2 690.7 L775.0 691.5 L775.7 694.8 L776.5 697.6 L777.2 697.6 L778.0 697.4 L778.8 694.9 L779.5 691.2 L780.3 690.8 L781.0 691.0 L781.8 692.4 L782.6 696.6 L783.3 697.9 L784.1 697.2 L784.8 697.1 L785.6 692.8 L786.3 691.2 L787.1 690.9 L787.9 691.2 L788.6 693.8 L789.4 697.3 L790.1 697.5 L790.9 698.1 L791.7 696.7 L792.4 691.7 L793.2 691.3 L793.9 691.0 L794.7 692.0 L795.4 695.3 L796.2 697.5 L797.0 697.8 L797.7 697.5 L798.5 694.9 L799.2 691.5 L800.0 691.2 L800.8 691.1 L801.5 691.6 L802.3 696.8 L803.0 697.4 L803.8 698.0 L804.5 697.8 L805.3 693.1 L806.1 691.2 L806.8 691.2 L807.6 691.5 L808.3 693.8 L809.1 697.4 L809.8 697.8 L810.6 698.3 L811.4 696.7 L812.1 692.2 L812.9 691.2 L813.6 691.3 L814.4 691.8 L815.2 695.7 L815.9 698.2 L816.7 698.2 L817.4 697.8 L818.2 695.0 L818.9 692.0 L819.7 691.3 L820.5 691.4 L821.2 693.0 L822.0 697.2 L822.7 698.3 L823.5 698.1 L824.3 698.4 L825.0 693.5 L825.8 691.6 L826.5 691.3 L827.3 691.3 L828.0 693.6 L828.8 697.8 L829.6 698.4 L830.3 698.2 L831.1 696.9 L831.8 691.9 L832.6 691.4 L833.4 691.1 L834.1 692.2 L834.9 695.8 L835.6 698.9 L836.4 698.6 L837.1 698.1 L837.9 695.6 L838.7 690.9 L839.4 691.3 L840.2 691.5 L840.9 692.8 L841.7 697.0 L842.5 698.5 L843.2 698.5 L844.0 698.3 L844.7 694.4 L845.5 691.4 L846.2 691.4 L847.0 691.3 L847.8 694.0 L848.5 698.1 L849.3 698.7 L850.0 698.2 L850.8 697.7 L851.5 692.7 L852.3 691.6 L853.1 691.5 L853.8 692.0 L854.6 694.8 L855.3 698.4 L856.1 698.6 L856.9 698.4 L857.6 696.6 L858.4 691.9 L859.1 691.7 L859.9 691.5 L860.6 692.3 L861.4 696.2 L862.2 698.0 L862.9 698.8 L863.7 698.1 L864.4 695.2 L865.2 691.8 L866.0 691.0 L866.7 691.3 L867.5 692.8 L868.2 697.1 L869.0 698.2 L869.7 698.7 L870.5 698.0 L871.3 693.5 L872.0 691.4 L872.8 691.4 L873.5 691.4 L874.3 693.9 L875.1 698.0 L875.8 698.5 L876.6 698.3 L877.3 697.1 L878.1 692.3 L878.8 691.4 L879.6 691.2 L880.4 691.5 L881.1 695.3 L881.9 698.7 L882.6 698.3 L883.4 698.4 L884.1 696.2 L884.9 691.0 L885.7 691.2 L886.4 691.0 L887.2 692.3 L887.9 696.2 L888.7 698.0 L889.5 698.2 L890.2 698.1 L891.0 694.3 L891.7 691.2 L892.5 690.6 L893.2 691.0 L894.0 692.7 L894.8 697.5 L895.5 698.3 L896.3 698.2 L897.0 697.9 L897.8 693.1 L898.6 691.3 L899.3 691.1 L900.1 691.0 L900.8 693.4 L901.6 697.4 L902.3 698.1 L903.1 698.0 L903.9 696.7 L904.6 691.2 L905.4 690.5 L906.1 690.1 L906.9 691.0 L907.7 694.3 L908.4 697.1 L909.2 698.0 L909.9 698.0 L910.7 695.8 L911.4 691.4 L912.2 690.9 L913.0 690.1 L913.7 691.4 L914.5 695.4 L915.2 697.6 L916.0 697.9 L916.8 697.3 L917.5 694.1 L918.3 690.3 L919.0 690.0 L919.8 690.2 L920.5 691.1 L921.3 695.8 L922.1 697.6 L922.8 697.5 L923.6 697.2 L924.3 692.3 L925.1 690.0 L925.8 689.8 L926.6 690.2 L927.4 691.9 L928.1 696.7 L928.9 697.3 L929.6 697.3 L930.4 696.6 L931.2 691.7 L931.9 689.8 L932.7 690.1 L933.4 690.2 L934.2 692.8 L934.9 696.7 L935.7 697.3 L936.5 697.4 L937.2 696.1 L938.0 690.7 L938.7 689.9 L939.5 689.7 L940.3 690.4 L941.0 693.7 L941.8 696.3 L942.5 697.4 L943.3 697.0 L944.0 694.5 L944.8 690.0 L945.6 689.3 L946.3 690.0 L947.1 690.4 L947.8 694.2 L948.6 696.9 L949.4 696.9 L950.1 697.2 L950.9 693.3 L951.6 689.1 L952.4 689.3 L953.1 689.3 L953.9 690.5 L954.7 694.7 L955.4 696.9 L956.2 697.3 L956.9 696.0 L957.7 692.6 L958.5 689.3 L959.2 689.8 L960.0 689.5 L960.7 691.0 L961.5 696.0 L962.2 696.9 L963.0 696.6 L963.8 696.4 L964.5 691.1 L965.3 688.8 L966.0 689.6 L966.8 689.3 L967.5 691.6 L968.3 696.1 L969.1 696.3 L969.8 696.4 L970.6 695.6 L971.3 690.2 L972.1 689.1 L972.9 689.3 L973.6 689.3 L974.4 692.6 L975.1 696.4 L975.9 696.4 L976.6 696.7 L977.4 694.9 L978.2 690.1 L978.9 689.1 L979.7 689.0 L980.4 689.2 L981.2 693.3 L982.0 696.2 L982.7 696.8 L983.5 696.5 L984.2 694.1 L985.0 689.7 L985.7 689.1 L986.5 688.8 L987.3 690.0 L988.0 694.0 L988.8 696.3 L989.5 696.6 L990.3 696.2 L991.1 693.2 L991.8 689.1 L992.6 689.2 L993.3 689.2 L994.1 689.8 L994.8 695.0 L995.6 696.4 L996.4 696.7 L997.1 696.5 L997.9 692.4 L998.6 689.5 L999.4 688.8 L1000.1 688.5 L1000.9 690.6 L1001.7 695.0 L1002.4 696.4 L1003.2 695.8 L1003.9 696.3 L1004.7 691.6 L1005.5 689.0 L1006.2 688.9 L1007.0 689.2 L1007.7 690.7 L1008.5 695.7 L1009.2 696.2 L1010.0 696.4 L1010.8 696.1 L1011.5 690.8 L1012.3 688.3 L1013.0 688.6 L1013.8 688.7 L1014.6 691.0 L1015.3 695.8 L1016.1 696.3 L1016.8 696.0 L1017.6 695.3 L1018.3 690.5 L1019.1 688.2 L1019.9 688.5 L1020.6 689.0 L1021.4 691.9 L1022.1 695.5 L1022.9 696.3 L1023.7 696.4 L1024.4 695.4 L1025.2 689.4 L1025.9 688.2 L1026.7 688.7 L1027.4 689.1 L1028.2 692.3 L1029.0 695.8 L1029.7 696.5 L1030.5 696.4 L1031.2 694.9 L1032.0 688.9 L1032.8 688.4 L1033.5 688.4 L1034.3 688.7 L1035.0 692.8 L1035.8 696.0 L1036.5 696.3 L1037.3 696.4 L1038.1 693.9 L1038.8 689.0 L1039.6 688.5 L1040.3 688.5 L1041.1 689.3 L1041.8 692.9 L1042.6 695.7 L1043.4 696.4 L1044.1 696.3 L1044.9 694.3 L1045.6 689.0 L1046.4 688.1 L1047.2 688.6 L1047.9 688.9 L1048.7 693.2 L1049.4 696.8 L1050.2 696.4 L1050.9 696.3 L1051.7 693.4 L1052.5 689.2 L1053.2 688.4 L1054.0 688.7 L1054.7 689.0 L1055.5 693.6 L1056.3 696.5 L1057.0 696.7 L1057.8 696.2 L1058.5 693.0 L1059.3 688.7 L1060.0 688.1 L1060.8 688.8 L1061.6 689.6 L1062.3 694.3 L1063.1 696.3 L1063.8 696.6 L1064.6 696.2 L1065.4 692.8 L1066.1 688.3 L1066.9 688.4 L1067.6 689.0 L1068.4 689.4 L1069.1 694.3 L1069.9 696.4 L1070.7 696.6 L1071.4 696.2 L1072.2 691.9 L1072.9 688.7 L1073.7 688.0 L1074.4 688.2 L1075.2 689.8 L1076.0 694.4 L1076.7 696.4 L1077.5 697.1 L1078.2 696.2 L1079.0 692.3 L1079.8 688.4 L1080.5 688.2 L1081.3 688.2 L1082.0 689.6 L1082.8 694.3 L1083.5 696.1 L1084.3 696.3 L1085.1 695.8 L1085.8 691.7 L1086.6 688.3 L1087.3 688.5 L1088.1 688.5 L1088.9 690.0 L1089.6 694.9 L1090.4 696.1 L1091.1 696.5 L1091.9 695.7 L1092.6 692.6 L1093.4 688.9 L1094.2 688.3 L1094.9 688.2 L1095.7 689.9 L1096.4 694.2 L1097.2 696.1 L1098.0 696.5 L1098.7 696.1 L1099.5 692.0 L1100.2 688.9 L1101.0 688.1 L1101.7 688.5 L1102.5 689.6 L1103.3 694.4 L1104.0 696.4 L1104.8 696.1 L1105.5 696.6 L1106.3 692.1 L1107.1 689.1 L1107.8 688.1 L1108.6 688.6 L1109.3 689.4 L1110.1 694.2 L1110.8 696.3 L1111.6 696.6 L1112.4 695.8 L1113.1 692.7 L1113.9 688.5 L1114.6 688.4 L1115.4 688.6 L1116.1 689.8 L1116.9 694.0 L1117.7 696.7 L1118.4 696.5 L1119.2 696.1 L1119.9 692.4 L1120.7 688.3 L1121.5 688.1 L1122.2 688.6 L1123.0 689.4 L1123.7 693.9 L1124.5 696.1 L1125.2 696.8 L1126.0 696.1 L1126.8 692.9 L1127.5 689.2 L1128.3 688.5 L1129.0 688.5 L1129.8 689.3 L1130.6 693.6 L1131.3 696.0 L1132.1 696.3 L1132.8 696.2 L1133.6 693.5 L1134.3 689.0 L1135.1 688.5 L1135.9 688.6 L1136.6 689.0 L1137.4 693.1 L1138.1 696.1 L1138.9 696.2 L1139.7 696.2 L1140.4 693.8 L1141.2 688.7 L1141.9 688.2 L1142.7 688.5 L1143.4 689.2 L1144.2 693.1 L1145.0 696.3 L1145.7 696.4 L1146.5 696.1 L1147.2 694.4 L1148.0 689.7 L1148.7 688.3 L1149.5 688.8 L1150.3 689.4 L1151.0 693.2 L1151.8 695.9 L1152.5 697.0 L1153.3 696.4 L1154.1 694.7 L1154.8 689.4 L1155.6 688.7 L1156.3 688.5 L1157.1 688.9 L1157.8 692.6 L1158.6 695.8 L1159.4 696.2 L1160.1 696.6 L1160.9 695.4 L1161.6 690.0 L1162.4 688.3 L1163.2 688.8 L1163.9 689.0 L1164.7 692.2 L1165.4 695.6 L1166.2 696.5 L1166.9 696.4 L1167.7 695.2 L1168.5 690.0 L1169.2 688.9 L1170.0 688.4 L1170.7 688.6 L1171.5 691.3 L1172.3 695.9 L1173.0 696.7 L1173.8 696.3 L1174.5 695.9 L1175.3 691.0 L1176.0 688.5 L1176.8 688.3 L1177.6 688.9 L1178.3 690.9 L1179.1 695.0 L1179.8 695.8 L1180.6 696.1 L1181.3 695.8 L1182.1 691.5 L1182.9 688.9 L1183.6 688.5 L1184.4 688.5 L1185.1 690.1 L1185.9 694.6 L1186.7 696.4 L1187.4 696.3 L1188.2 696.9 L1188.9 692.7 L1189.7 688.6 L1190.4 688.2 L1191.2 688.4 L1192.0 689.1 L1192.7 693.9 L1193.5 696.0 L1194.2 696.5 L1195.0 696.0 L1195.8 693.1 L1196.5 688.4 L1197.3 687.9 L1198.0 688.2 L1198.8 688.8 L1199.5 693.2 L1200.3 695.5 L1201.1 696.2 L1201.8 695.8 L1202.6 693.8 L1203.3 688.1 L1204.1 687.4 L1204.9 687.9 L1205.6 688.5 L1206.4 691.6 L1207.1 695.2 L1207.9 695.3 L1208.6 695.2 L1209.4 693.9 L1210.2 688.8 L1210.9 687.3 L1211.7 687.1 L1212.4 687.3 L1213.2 690.1 L1214.0 694.3 L1214.7 694.7 L1215.5 695.2 L1216.2 694.1 L1217.0 689.2 L1217.7 688.9 L1218.5 689.7 L1220.4 658.1 L1221.2 656.3 L1221.9 654.7 L1222.7 654.8 L1223.4 655.0 L1224.2 654.3 L1224.9 655.6 L1225.7 659.3 L1226.5 661.6 L1227.2 667.0 L1228.0 673.2 L1228.7 675.8 L1229.5 677.4 L1230.3 677.8 L1231.0 672.7 L1231.8 671.9 L1232.5 671.9 L1233.3 672.9 L1234.0 675.4 L1234.8 680.3 L1235.6 681.8 L1236.3 682.5 L1237.1 682.7 L1237.8 678.6 L1238.6 676.3 L1239.4 676.5 L1240.1 677.4 L1240.9 678.5 L1241.6 683.9 L1242.4 686.2 L1243.1 685.5 L1243.9 686.1 L1244.7 683.2 L1245.4 678.9 L1246.2 679.9 L1246.9 678.9 L1247.7 681.0 L1248.5 685.7 L1249.2 688.2 L1250.0 688.3 L1250.7 688.6 L1251.5 686.3 L1252.2 681.9 L1253.0 680.9 L1253.8 681.3 L1254.5 682.2 L1255.3 685.3 L1256.0 689.2 L1256.8 689.9 L1257.6 689.6 L1258.3 689.2 L1259.1 683.7 L1259.8 682.0 L1260.6 682.4 L1261.3 682.5 L1262.1 684.9 L1262.9 689.6 L1263.6 690.3 L1264.4 690.8 L1265.1 689.9 L1265.9 685.5 L1266.7 682.8 L1267.4 682.9 L1268.2 682.7 L1268.9 684.2 L1269.7 688.8 L1270.4 690.8 L1271.2 691.1 L1272.0 691.2 L1272.7 687.7 L1273.5 683.4 L1274.2 682.9 L1275.0 683.1 L1275.8 683.8 L1276.5 688.4 L1277.3 691.0 L1278.0 690.9 L1278.8 690.8 L1279.5 689.6 L1280.3 684.1 L1281.1 683.2 L1281.8 683.5 L1282.6 683.5 L1283.3 686.6 L1284.1 690.6 L1284.8 690.8 L1285.6 691.5 L1286.4 690.2 L1287.1 685.1 L1287.9 683.3 L1288.6 683.6 L1289.4 683.6 L1290.2 685.5 L1290.9 689.8 L1291.7 691.4 L1292.4 691.2 L1293.2 691.3 L1293.9 687.4 L1294.7 683.9 L1295.5 684.1 L1296.2 683.8 L1297.0 684.8 L1297.7 689.2 L1298.5 691.4 L1299.3 692.0 L1300.0 691.9 L1300.8 689.1 L1301.5 684.7 L1302.3 684.0 L1303.0 684.1 L1303.8 684.4 L1304.6 687.3 L1305.3 691.1 L1306.1 692.3 L1306.8 691.9 L1307.6 690.6 L1308.4 685.7 L1309.1 684.0 L1309.9 683.5 L1310.6 683.6 L1311.4 685.8 L1312.1 690.9 L1312.9 692.0 L1313.7 692.0 L1314.4 691.8 L1315.2 687.9 L1315.9 683.9 L1316.7 684.1 L1317.5 684.0 L1318.2 684.9 L1319.0 689.6 L1319.7 692.0 L1320.5 692.1 L1321.2 691.7 L1322.0 689.9 L1322.8 685.5 L1323.5 684.0 L1324.3 683.9 L1325.0 684.8 L1325.8 688.1 L1326.6 691.9 L1327.3 692.0 L1328.1 692.6 L1328.8 691.3 L1329.6 686.0 L1330.3 684.4 L1331.1 684.4 L1331.9 684.8 L1332.6 686.5 L1333.4 691.1 L1334.1 692.6 L1334.9 692.5 L1335.6 692.4 L1336.4 688.3 L1337.2 684.5 L1337.9 684.7 L1338.7 684.2 L1339.4 685.3 L1340.2 689.5 L1341.0 692.2 L1341.7 692.5 L1342.5 692.9 L1343.2 690.3 L1344.0 685.8 L1344.7 685.2 L1345.5 684.6 L1346.3 685.0 L1347.0 687.8 L1347.8 692.3 L1348.5 692.3 L1349.3 692.7 L1350.1 692.1 L1350.8 687.5 L1351.6 684.9 L1352.3 684.9 L1353.1 684.7 L1353.8 686.1 L1354.6 690.6 L1355.4 692.4 L1356.1 692.7 L1356.9 692.6 L1357.6 689.7 L1358.4 685.7 L1359.2 684.8 L1359.9 684.5 L1360.7 685.6 L1361.4 688.6 L1362.2 692.5 L1362.9 692.8 L1363.7 692.8 L1364.5 691.9 L1365.2 686.4 L1366.0 685.0 L1366.7 685.4 L1367.5 684.5 L1368.3 686.8 L1369.0 691.6 L1369.8 692.5 L1370.5 692.5 L1371.3 693.1 L1372.0 689.0 L1372.8 685.8 L1373.6 685.0 L1374.3 685.0 L1375.1 685.8 L1375.8 689.9 L1376.6 692.9 L1377.4 693.0 L1378.1 692.9 L1378.9 691.5 L1379.6 686.5 L1380.4 685.2 L1381.1 684.7 L1381.9 685.1 L1382.7 687.6 L1383.4 691.8 L1384.2 692.8 L1384.9 692.7 L1385.7 692.5 L1386.5 688.5 L1387.2 685.5 L1388.0 685.0 L1388.7 685.6 L1389.5 686.0 L1390.2 691.2 L1391.0 693.0 L1391.8 693.1 L1392.5 692.8 L1393.3 690.4 L1394.0 685.9 L1394.8 685.1 L1395.5 685.5 L1396.3 685.0 L1397.1 688.4 L1397.8 692.2 L1398.6 693.1 L1399.3 692.4 L1400.1 692.5 L1400.9 687.8 L1401.6 685.4 L1402.4 685.0 L1403.1 684.8 L1403.9 686.4 L1404.6 690.9 L1405.4 693.0 L1406.2 693.3 L1406.9 693.2 L1407.7 690.8 L1408.4 685.5 L1409.2 684.7 L1410.0 685.4 L1410.7 685.6 L1411.5 688.3 L1412.2 692.2 L1413.0 693.0 L1413.7 693.0 L1414.5 692.4 L1415.3 687.5 L1416.0 685.7 L1416.8 685.1 L1417.5 685.0 L1418.3 685.9 L1419.1 690.7 L1419.8 693.0 L1420.6 693.2 L1421.3 692.8 L1422.1 690.8 L1422.8 685.7 L1423.6 684.8 L1424.4 685.4 L1425.1 685.5 L1425.9 688.9 L1426.6 692.1 L1427.4 692.9 L1428.2 693.2 L1428.9 692.4 L1429.7 687.5 L1430.4 685.0 L1431.2 685.0 L1431.9 685.2 L1432.7 686.1 L1433.5 690.8 L1434.2 693.0 L1435.0 693.1 L1435.7 692.9 L1436.5 691.3 L1437.3 686.3 L1438.0 685.3 L1438.8 685.0 L1439.5 685.4 L1440.3 687.2 L1441.0 691.5 L1441.8 692.7 L1442.6 693.2 L1443.3 692.9 L1444.1 689.9 L1444.8 685.5 L1445.6 685.2 L1446.3 685.4 L1447.1 685.8 L1447.9 688.6 L1448.6 692.4 L1449.4 693.0 L1450.1 692.7 L1450.9 692.6 L1451.7 688.2 L1452.4 685.1 L1453.2 685.5 L1453.9 685.0 L1454.7 685.9 L1455.4 689.9 L1456.2 692.5 L1457.0 693.1 L1457.7 693.0 L1458.5 692.4 L1459.2 687.1 L1460.0 685.3 L1460.8 685.0 L1461.5 684.8 L1462.3 686.3 L1463.0 690.5 L1463.8 693.0 L1464.5 693.0 L1465.3 693.4 L1466.1 691.8 L1466.8 686.6 L1467.6 685.2 L1468.3 685.1 L1469.1 685.3 L1469.9 686.8 L1470.6 690.9 L1471.4 693.0 L1472.1 693.7 L1472.9 692.9 L1473.6 691.3 L1474.4 686.1 L1475.2 684.7 L1475.9 685.3 L1476.7 685.2 L1477.4 686.7 L1478.2 691.6 L1479.0 693.5 L1479.7 692.8 L1480.5 693.2 L1481.2 691.6 L1482.0 686.4 L1482.7 685.2 L1483.5 685.0 L1484.3 685.6 L1485.0 686.6 L1485.8 691.0 L1486.5 693.1 L1487.3 693.2 L1488.1 693.1 L1488.8 691.8 L1489.6 687.1 L1490.3 685.3 L1491.1 685.0 L1491.8 684.9 L1492.6 686.1 L1493.4 690.1 L1494.1 692.8 L1494.9 693.1 L1495.6 692.5 L1496.4 692.2 L1497.2 687.5 L1497.9 685.2 L1498.7 684.8 L1499.4 685.4 L1500.2 685.6 L1500.9 689.1 L1501.7 692.3 L1502.5 693.0 L1503.2 693.2 L1504.0 692.8 L1504.7 688.6 L1505.5 685.1 L1506.2 684.9 L1507.0 684.8 L1507.8 685.4 L1508.5 687.7 L1509.3 692.1 L1510.0 693.1 L1510.8 693.0 L1511.6 692.9 L1512.3 690.1 L1513.1 685.4 L1513.8 684.9 L1514.6 685.3 L1515.3 685.5 L1516.1 686.7 L1516.9 691.5 L1517.6 692.7 L1518.4 693.4 L1519.1 693.1 L1519.9 691.8 L1520.7 687.1 L1521.4 685.0 L1522.2 684.8 L1522.9 684.7 L1523.7 685.9 L1524.4 689.3 L1525.2 692.5 L1526.0 692.9 L1526.7 693.4 L1527.5 692.6 L1528.2 689.2 L1529.0 685.8 L1529.8 685.4 L1530.5 685.1 L1531.3 684.9 L1532.0 687.0 L1532.8 691.6 L1533.5 692.9 L1534.3 693.4 L1535.1 692.6 L1535.8 691.9 L1536.6 686.6 L1537.3 685.5 L1538.1 685.0 L1538.9 685.4 L1539.6 685.7 L1540.4 689.1 L1541.1 692.2 L1541.9 692.8 L1542.6 692.7 L1543.4 693.0 L1544.2 689.7 L1544.9 685.6 L1545.7 684.8 L1546.4 685.0 L1547.2 685.1 L1548.0 687.5 L1548.7 691.6 L1549.5 693.0 L1550.2 692.9 L1551.0 692.4 L1551.7 691.5 L1552.5 686.5" fill="none" stroke="#ff7f00" stroke-width="3.00" stroke-linejoin="round" stroke-linecap="square"/>
<polygon points="270.33,92.13 303.67,92.13 287.00,125.47" fill="none" stroke="#ff7f00" stroke-width="5.00" stroke-linejoin="round"/>
<polygon points="493.83,678.74 527.16,678.74 510.50,712.06" fill="none" stroke="#ff7f00" stroke-width="5.00" stroke-linejoin="round"/>
<polygon points="719.34,676.24 752.66,676.24 736.00,709.56" fill="none" stroke="#ff7f00" stroke-width="5.00" stroke-linejoin="round"/>
<polygon points="944.34,673.94 977.66,673.94 961.00,707.26" fill="none" stroke="#ff7f00" stroke-width="5.00" stroke-linejoin="round"/>
<polygon points="1169.34,677.94 1202.66,677.94 1186.00,711.26" fill="none" stroke="#ff7f00" stroke-width="5.00" stroke-linejoin="round"/>
<polygon points="1394.84,672.94 1428.16,672.94 1411.50,706.26" fill="none" stroke="#ff7f00" stroke-width="5.00" stroke-linejoin="round"/>
<path d="M287.0 121.1 L287.8 121.1 L288.6 120.9 L289.4 121.2 L290.2 121.9 L291.0 121.5 L291.8 121.7 L292.6 122.2 L293.4 122.4 L294.2 123.0 L295.0 124.0 L295.8 125.3 L296.6 125.8 L297.4 127.8 L298.2 131.1 L299.0 139.9 L299.8 172.0 L300.6 309.4 L301.4 371.5 L302.2 434.3 L303.0 479.2 L303.8 510.8 L304.6 530.8 L305.4 544.2 L306.2 562.1 L307.0 586.9 L307.8 612.2 L308.6 636.1 L309.4 658.4 L310.2 679.5 L311.0 697.6 L311.8 710.9 L312.6 721.7 L313.4 731.3 L314.2 740.8 L315.0 750.0 L315.8 758.1 L316.6 766.9 L317.4 773.7 L318.2 779.8 L319.0 786.2 L319.8 791.9 L320.6 797.0 L321.4 802.4 L322.2 805.1 L323.0 808.1 L323.8 810.8 L324.6 812.2 L325.4 814.3 L326.2 816.2 L327.0 818.2 L327.8 818.9 L328.6 820.0 L329.4 820.8 L330.2 821.1 L330.9 820.8 L331.7 821.6 L332.5 821.9 L333.3 822.5 L334.1 823.5 L334.9 823.9 L335.7 824.0 L336.5 824.1 L337.3 823.4 L338.1 823.6 L338.9 823.7 L339.7 823.7 L340.5 824.3 L341.3 824.1 L342.1 824.6 L342.9 824.4 L343.7 822.9 L344.5 822.7 L345.3 822.2 L346.1 822.4 L346.9 822.5 L347.7 822.3 L348.5 821.9 L349.3 821.5 L350.1 820.2 L350.9 820.3 L351.7 819.6 L352.5 819.8 L353.3 820.1 L354.1 820.2 L354.9 819.6 L355.7 819.3 L356.5 817.8 L357.3 817.8 L358.1 817.2 L358.9 817.2 L359.7 817.6 L360.5 817.6 L361.3 816.5 L362.1 816.5 L362.9 814.9 L363.7 815.2 L364.5 814.1 L365.3 814.3 L366.1 814.5 L366.9 815.1 L367.7 814.1 L368.5 813.8 L369.3 812.5 L370.1 811.8 L370.9 811.9 L371.7 812.2 L372.5 812.4 L373.3 812.5 L374.1 811.9 L374.9 811.2 L375.7 810.0 L376.5 809.9 L377.3 810.0 L378.1 809.7 L378.9 810.1 L379.7 809.7 L380.5 809.4 L381.3 809.1 L382.1 807.4 L382.9 807.1 L383.7 807.0 L384.5 807.1 L385.3 808.3 L386.1 807.0 L386.9 807.4 L387.7 806.6 L388.5 805.1 L389.3 804.9 L390.1 805.0 L390.9 805.6 L391.7 805.5 L392.5 805.2 L393.3 805.6 L394.1 804.8 L394.9 803.4 L395.7 802.7 L396.5 803.5 L397.3 803.6 L398.1 804.5 L398.9 804.1 L399.7 803.8 L400.5 802.8 L401.3 802.4 L402.1 802.2 L402.9 801.2 L403.7 802.1 L404.5 803.4 L405.3 802.8 L406.1 802.4 L406.9 801.6 L407.7 800.8 L408.5 800.6 L409.3 800.4 L410.1 801.1 L410.9 801.8 L411.7 801.9 L412.5 801.4 L413.3 800.3 L414.1 799.6 L414.9 799.8 L415.7 799.5 L416.5 800.1 L417.2 800.9 L418.0 800.8 L418.8 800.7 L419.6 799.3 L420.4 798.9 L421.2 798.6 L422.0 798.2 L422.8 798.9 L423.6 799.8 L424.4 799.6 L425.2 799.3 L426.0 797.7 L426.8 796.9 L427.6 797.3 L428.4 797.3 L429.2 798.2 L430.0 798.2 L430.8 798.7 L431.6 798.1 L432.4 797.0 L433.2 796.4 L434.0 795.9 L434.8 796.0 L435.6 796.5 L436.4 797.3 L437.2 797.0 L438.0 797.4 L438.8 796.0 L439.6 795.6 L440.4 795.3 L441.2 795.1 L442.0 796.3 L442.8 796.6 L443.6 796.8 L444.4 796.5 L445.2 794.8 L446.0 794.5 L446.8 794.4 L447.6 794.3 L448.4 795.6 L449.2 796.3 L450.0 795.7 L450.8 795.5 L451.6 793.6 L452.4 793.6 L453.2 793.5 L454.0 793.1 L454.8 794.7 L455.6 795.2 L456.4 794.8 L457.2 794.7 L458.0 793.1 L458.8 793.1 L459.6 792.4 L460.4 792.8 L461.2 794.3 L462.0 794.3 L462.8 794.3 L463.6 794.0 L464.4 792.3 L465.2 792.1 L466.0 792.2 L466.8 791.9 L467.6 793.2 L468.4 793.9 L469.2 793.8 L470.0 792.9 L470.8 791.6 L471.6 791.0 L472.4 791.6 L473.2 791.6 L474.0 792.6 L474.8 792.6 L475.6 792.5 L476.4 792.6 L477.2 791.2 L478.0 790.5 L478.8 790.7 L479.6 790.9 L480.4 791.8 L481.2 791.9 L482.0 791.6 L482.8 791.8 L483.6 790.5 L484.4 790.0 L485.2 789.9 L486.0 789.9 L486.8 791.3 L487.6 791.5 L488.4 791.5 L489.2 791.0 L490.0 789.7 L490.8 789.5 L491.6 789.1 L492.4 789.2 L493.2 790.5 L494.0 791.2 L494.8 790.9 L495.6 791.0 L496.4 789.2 L497.2 788.8 L498.0 788.4 L498.8 788.7 L499.6 790.3 L500.4 790.4 L501.2 790.4 L502.0 790.2 L502.8 788.6 L503.6 788.1 L504.3 788.1 L505.1 788.4 L505.9 789.4 L506.7 789.8 L507.5 789.7 L508.3 789.2 L509.1 787.9 L509.9 787.3 L510.7 787.7 L511.5 787.0 L512.3 788.6 L513.1 789.6 L513.9 788.9 L514.7 788.4 L515.5 787.3 L516.3 787.2 L517.1 786.8 L517.9 787.1 L518.7 788.0 L519.5 788.3 L520.3 789.1 L521.1 788.1 L521.9 786.5 L522.7 786.1 L523.5 786.2 L524.3 786.3 L525.1 787.5 L525.9 787.7 L526.7 787.3 L527.5 787.5 L528.3 785.9 L529.1 785.5 L529.9 785.1 L530.7 785.4 L531.5 786.4 L532.3 787.0 L533.1 786.6 L533.9 786.7 L534.7 785.4 L535.5 784.6 L536.3 784.6 L537.1 784.6 L537.9 786.1 L538.7 785.7 L539.5 786.2 L540.3 785.6 L541.1 784.6 L541.9 784.4 L542.7 783.9 L543.5 784.2 L544.3 785.0 L545.1 786.1 L545.9 785.6 L546.7 785.3 L547.5 784.1 L549.8 764.9 L550.6 765.8 L551.3 766.2 L552.1 766.6 L552.8 767.7 L553.6 768.2 L554.3 769.6 L555.1 771.2 L555.9 773.0 L556.6 774.4 L557.4 777.2 L558.1 778.5 L558.9 780.1 L559.7 781.1 L560.4 780.8 L561.2 781.4 L561.9 782.2 L562.7 782.1 L563.4 784.7 L564.2 785.7 L565.0 786.5 L565.7 786.9 L566.5 786.3 L567.2 786.1 L568.0 786.8 L568.8 787.4 L569.5 787.6 L570.3 788.9 L571.0 789.8 L571.8 789.3 L572.5 789.8 L573.3 788.0 L574.1 787.6 L574.8 788.1 L575.6 788.5 L576.3 788.8 L577.1 790.2 L577.9 789.8 L578.6 790.2 L579.4 788.8 L580.1 787.7 L580.9 788.2 L581.6 788.3 L582.4 789.2 L583.2 790.2 L583.9 790.1 L584.7 789.9 L585.4 789.5 L586.2 788.2 L586.9 787.9 L587.7 788.0 L588.5 787.6 L589.2 789.4 L590.0 789.8 L590.7 790.5 L591.5 790.0 L592.3 788.6 L593.0 788.2 L593.8 787.7 L594.5 787.9 L595.3 788.1 L596.0 790.0 L596.8 789.9 L597.6 789.4 L598.3 789.3 L599.1 788.3 L599.8 788.0 L600.6 787.9 L601.4 787.8 L602.1 788.9 L602.9 789.6 L603.6 789.8 L604.4 789.3 L605.1 788.1 L605.9 788.0 L606.7 787.4 L607.4 787.9 L608.2 788.3 L608.9 789.5 L609.7 789.8 L610.5 789.5 L611.2 789.1 L612.0 787.4 L612.7 787.2 L613.5 787.5 L614.2 787.9 L615.0 789.0 L615.8 789.7 L616.5 789.2 L617.3 789.0 L618.0 788.1 L618.8 787.2 L619.6 787.1 L620.3 786.9 L621.1 788.0 L621.8 788.5 L622.6 789.0 L623.3 788.4 L624.1 788.6 L624.9 786.8 L625.6 787.0 L626.4 786.4 L627.1 786.9 L627.9 788.4 L628.6 788.3 L629.4 788.5 L630.2 788.3 L630.9 786.6 L631.7 786.7 L632.4 786.6 L633.2 786.3 L634.0 787.3 L634.7 788.0 L635.5 788.0 L636.2 788.2 L637.0 787.5 L637.7 787.0 L638.5 785.9 L639.3 786.4 L640.0 786.7 L640.8 787.0 L641.5 787.5 L642.3 788.1 L643.1 787.7 L643.8 786.7 L644.6 786.3 L645.3 785.8 L646.1 785.7 L646.8 785.9 L647.6 787.6 L648.4 787.5 L649.1 787.7 L649.9 787.2 L650.6 785.5 L651.4 786.1 L652.2 785.9 L652.9 786.1 L653.7 786.7 L654.4 787.3 L655.2 787.3 L655.9 787.2 L656.7 785.9 L657.5 785.6 L658.2 785.5 L659.0 785.6 L659.7 786.0 L660.5 787.4 L661.2 787.3 L662.0 786.5 L662.8 786.6 L663.5 785.4 L664.3 785.5 L665.0 785.2 L665.8 785.4 L666.6 786.4 L667.3 787.2 L668.1 786.9 L668.8 786.8 L669.6 785.6 L670.3 785.3 L671.1 784.9 L671.9 784.7 L672.6 785.8 L673.4 786.6 L674.1 786.9 L674.9 786.9 L675.7 786.7 L676.4 785.4 L677.2 784.7 L677.9 784.8 L678.7 784.7 L679.4 786.5 L680.2 786.8 L681.0 787.0 L681.7 786.5 L682.5 785.0 L683.2 785.1 L684.0 784.7 L684.8 784.7 L685.5 785.2 L686.3 786.5 L687.0 786.6 L687.8 786.1 L688.5 786.4 L689.3 784.7 L690.1 784.4 L690.8 784.9 L691.6 784.9 L692.3 785.6 L693.1 785.8 L693.9 786.3 L694.6 786.4 L695.4 785.3 L696.1 784.1 L696.9 784.1 L697.6 784.0 L698.4 784.8 L699.2 786.1 L699.9 786.4 L700.7 785.9 L701.4 785.9 L702.2 784.7 L702.9 784.1 L703.7 784.1 L704.5 784.8 L705.2 785.2 L706.0 786.1 L706.7 785.9 L707.5 785.9 L708.3 784.8 L709.0 784.1 L709.8 784.3 L710.5 784.5 L711.3 784.6 L712.0 785.7 L712.8 785.8 L713.6 785.6 L714.3 785.6 L715.1 784.5 L715.8 783.7 L716.6 784.1 L717.4 783.7 L718.1 784.2 L718.9 785.3 L719.6 785.2 L720.4 785.3 L721.1 785.4 L721.9 783.8 L722.7 783.8 L723.4 784.0 L724.2 784.2 L724.9 784.9 L725.7 785.8 L726.5 785.6 L727.2 785.4 L728.0 784.4 L728.7 783.3 L729.5 783.4 L730.2 783.6 L731.0 784.3 L731.8 785.2 L732.5 785.4 L733.3 785.6 L734.0 785.4 L734.8 783.9 L735.5 783.8 L736.3 783.4 L737.1 783.5 L737.8 784.7 L738.6 785.2 L739.3 785.2 L740.1 785.7 L740.9 784.4 L741.6 783.2 L742.4 783.5 L743.1 783.8 L743.9 783.8 L744.6 785.2 L745.4 785.1 L746.2 785.1 L746.9 784.9 L747.7 783.7 L748.4 783.7 L749.2 783.0 L750.0 783.7 L750.7 783.9 L751.5 785.0 L752.2 785.3 L753.0 785.2 L753.7 784.6 L754.5 782.9 L755.3 783.3 L756.0 782.9 L756.8 784.0 L757.5 784.5 L758.3 785.1 L759.1 784.7 L759.8 784.8 L760.6 783.5 L761.3 783.4 L762.1 783.0 L762.8 783.3 L763.6 783.5 L764.4 784.7 L765.1 785.3 L765.9 784.7 L766.6 784.2 L767.4 783.4 L768.2 782.7 L768.9 782.9 L769.7 783.4 L770.4 783.9 L771.2 785.1 L771.9 784.7 L772.7 785.2 L773.5 784.5 L774.2 782.9 L775.0 782.9 L775.7 782.8 L776.5 783.3 L777.2 784.7 L778.0 784.4 L778.8 785.0 L779.5 784.4 L780.3 783.3 L781.0 782.5 L781.8 783.4 L782.6 782.9 L783.3 783.6 L784.1 784.5 L784.8 785.0 L785.6 784.2 L786.3 784.4 L787.1 783.6 L787.9 782.7 L788.6 782.8 L789.4 783.1 L790.1 783.8 L790.9 784.7 L791.7 784.9 L792.4 784.7 L793.2 783.9 L793.9 782.7 L794.7 782.8 L795.4 782.8 L796.2 783.5 L797.0 784.5 L797.7 784.6 L798.5 784.0 L799.2 784.7 L800.0 783.4 L800.8 782.5 L801.5 782.2 L802.3 782.5 L803.0 783.7 L803.8 784.2 L804.5 784.5 L805.3 784.6 L806.1 784.5 L806.8 782.8 L807.6 782.6 L808.3 782.5 L809.1 783.2 L809.8 784.1 L810.6 784.4 L811.4 784.2 L812.1 784.3 L812.9 783.8 L813.6 782.5 L814.4 782.8 L815.2 782.7 L815.9 783.0 L816.7 784.3 L817.4 784.6 L818.2 784.2 L818.9 784.2 L819.7 783.6 L820.5 782.2 L821.2 782.4 L822.0 782.8 L822.7 783.2 L823.5 784.1 L824.3 784.1 L825.0 784.5 L825.8 784.3 L826.5 783.0 L827.3 782.5 L828.0 782.7 L828.8 782.3 L829.6 783.6 L830.3 784.1 L831.1 784.4 L831.8 784.5 L832.6 783.8 L833.4 782.2 L834.1 782.7 L834.9 782.3 L835.6 782.4 L836.4 783.8 L837.1 783.9 L837.9 784.3 L838.7 784.2 L839.4 782.9 L840.2 782.5 L840.9 782.2 L841.7 782.3 L842.5 782.5 L843.2 784.0 L844.0 784.0 L844.7 784.1 L845.5 783.9 L846.2 782.6 L847.0 781.8 L847.8 781.8 L848.5 782.2 L849.3 783.3 L850.0 784.1 L850.8 784.3 L851.5 784.4 L852.3 783.6 L853.1 782.3 L853.8 781.9 L854.6 781.9 L855.3 782.2 L856.1 783.6 L856.9 784.0 L857.6 784.0 L858.4 783.9 L859.1 783.1 L859.9 782.1 L860.6 782.1 L861.4 782.1 L862.2 782.3 L862.9 783.4 L863.7 784.0 L864.4 784.0 L865.2 783.7 L866.0 782.3 L866.7 782.5 L867.5 781.7 L868.2 781.9 L869.0 782.7 L869.7 783.4 L870.5 783.8 L871.3 784.2 L872.0 783.6 L872.8 782.2 L873.5 782.0 L874.3 781.8 L875.1 782.2 L875.8 782.9 L876.6 783.5 L877.3 783.7 L878.1 783.9 L878.8 783.0 L879.6 782.0 L880.4 781.2 L881.1 782.0 L881.9 782.5 L882.6 783.4 L883.4 783.5 L884.1 783.3 L884.9 783.5 L885.7 782.1 L886.4 781.8 L887.2 781.4 L887.9 781.8 L888.7 782.4 L889.5 782.7 L890.2 783.5 L891.0 783.2 L891.7 782.8 L892.5 781.7 L893.2 781.4 L894.0 781.6 L894.8 781.1 L895.5 782.4 L896.3 783.7 L897.0 783.4 L897.8 783.4 L898.6 782.9 L899.3 781.2 L900.1 781.4 L900.8 781.3 L901.6 781.5 L902.3 783.0 L903.1 783.3 L903.9 783.2 L904.6 783.5 L905.4 782.1 L906.1 780.9 L906.9 781.0 L907.7 780.9 L908.4 781.5 L909.2 782.4 L909.9 783.4 L910.7 783.3 L911.4 783.1 L912.2 781.8 L913.0 781.2 L913.7 781.1 L914.5 780.7 L915.2 781.4 L916.0 782.7 L916.8 782.9 L917.5 783.2 L918.3 783.0 L919.0 781.1 L919.8 780.9 L920.5 780.6 L921.3 781.0 L922.1 781.2 L922.8 782.8 L923.6 782.8 L924.3 782.9 L925.1 782.3 L925.8 780.6 L926.6 781.1 L927.4 780.6 L928.1 781.1 L928.9 781.7 L929.6 782.6 L930.4 783.0 L931.2 782.6 L931.9 782.3 L932.7 780.3 L933.4 780.7 L934.2 780.4 L934.9 780.6 L935.7 781.7 L936.5 782.4 L937.2 782.8 L938.0 781.9 L938.7 781.6 L939.5 780.3 L940.3 780.7 L941.0 780.3 L941.8 780.8 L942.5 781.7 L943.3 782.4 L944.0 782.5 L944.8 782.1 L945.6 781.1 L946.3 779.9 L947.1 780.3 L947.8 780.5 L948.6 780.5 L949.4 782.2 L950.1 781.6 L950.9 781.7 L951.6 781.6 L952.4 780.6 L953.1 780.2 L953.9 780.1 L954.7 780.2 L955.4 780.9 L956.2 781.8 L956.9 781.7 L957.7 781.7 L958.5 782.3 L959.2 779.8 L960.0 780.0 L960.7 780.4 L961.5 780.2 L962.2 780.7 L963.0 781.8 L963.8 782.2 L964.5 782.2 L965.3 781.3 L966.0 780.4 L966.8 780.0 L967.5 780.2 L968.3 780.4 L969.1 781.0 L969.8 781.4 L970.6 782.0 L971.3 782.3 L972.1 781.4 L972.9 780.0 L973.6 780.5 L974.4 779.6 L975.1 780.3 L975.9 781.0 L976.6 781.8 L977.4 781.8 L978.2 782.1 L978.9 780.6 L979.7 779.7 L980.4 779.4 L981.2 779.9 L982.0 780.0 L982.7 781.4 L983.5 781.4 L984.2 781.6 L985.0 781.9 L985.7 780.5 L986.5 779.9 L987.3 779.8 L988.0 779.6 L988.8 779.7 L989.5 781.6 L990.3 781.7 L991.1 781.9 L991.8 781.0 L992.6 779.8 L993.3 779.1 L994.1 779.4 L994.8 779.9 L995.6 780.3 L996.4 781.3 L997.1 781.6 L997.9 781.7 L998.6 781.3 L999.4 780.1 L1000.1 779.6 L1000.9 779.0 L1001.7 779.5 L1002.4 780.6 L1003.2 781.3 L1003.9 781.5 L1004.7 781.3 L1005.5 781.1 L1006.2 780.1 L1007.0 779.4 L1007.7 779.2 L1008.5 778.8 L1009.2 780.3 L1010.0 780.8 L1010.8 781.0 L1011.5 781.6 L1012.3 781.2 L1013.0 779.2 L1013.8 779.6 L1014.6 779.5 L1015.3 779.3 L1016.1 780.7 L1016.8 780.9 L1017.6 781.1 L1018.3 781.0 L1019.1 780.5 L1019.9 779.7 L1020.6 779.0 L1021.4 779.1 L1022.1 779.3 L1022.9 780.7 L1023.7 781.2 L1024.4 781.5 L1025.2 781.1 L1025.9 780.2 L1026.7 779.3 L1027.4 779.3 L1028.2 779.1 L1029.0 779.6 L1029.7 781.1 L1030.5 781.1 L1031.2 781.3 L1032.0 781.5 L1032.8 780.2 L1033.5 779.1 L1034.3 778.9 L1035.0 779.3 L1035.8 779.6 L1036.5 780.7 L1037.3 781.2 L1038.1 781.5 L1038.8 781.3 L1039.6 779.7 L1040.3 779.2 L1041.1 779.2 L1041.8 779.4 L1042.6 779.5 L1043.4 780.6 L1044.1 781.0 L1044.9 780.7 L1045.6 781.0 L1046.4 779.7 L1047.2 779.3 L1047.9 778.8 L1048.7 779.0 L1049.4 779.3 L1050.2 780.5 L1050.9 781.2 L1051.7 780.9 L1052.5 781.0 L1053.2 779.4 L1054.0 779.1 L1054.7 778.6 L1055.5 778.9 L1056.3 779.4 L1057.0 780.9 L1057.8 781.0 L1058.5 781.0 L1059.3 781.1 L1060.0 779.6 L1060.8 779.1 L1061.6 779.1 L1062.3 779.0 L1063.1 779.4 L1063.8 780.8 L1064.6 780.8 L1065.4 781.0 L1066.1 781.1 L1066.9 779.7 L1067.6 778.8 L1068.4 778.6 L1069.1 778.9 L1069.9 779.5 L1070.7 781.0 L1071.4 780.8 L1072.2 780.8 L1072.9 780.9 L1073.7 779.2 L1074.4 778.8 L1075.2 779.2 L1076.0 779.2 L1076.7 779.6 L1077.5 780.7 L1078.2 780.6 L1079.0 781.0 L1079.8 780.6 L1080.5 779.3 L1081.3 778.6 L1082.0 778.7 L1082.8 778.7 L1083.5 779.5 L1084.3 780.9 L1085.1 780.9 L1085.8 780.3 L1086.6 780.3 L1087.3 778.7 L1088.1 778.5 L1088.9 778.8 L1089.6 778.8 L1090.4 779.2 L1091.1 780.6 L1091.9 780.5 L1092.6 780.3 L1093.4 780.1 L1094.2 778.8 L1094.9 779.0 L1095.7 778.2 L1096.4 778.9 L1097.2 779.6 L1098.0 780.4 L1098.7 780.6 L1099.5 780.5 L1100.2 780.4 L1101.0 779.1 L1101.7 778.5 L1102.5 778.7 L1103.3 778.8 L1104.0 779.3 L1104.8 780.5 L1105.5 780.5 L1106.3 780.6 L1107.1 780.1 L1107.8 779.0 L1108.6 778.5 L1109.3 778.2 L1110.1 779.0 L1110.8 778.9 L1111.6 780.1 L1112.4 780.6 L1113.1 780.0 L1113.9 780.1 L1114.6 778.5 L1115.4 778.1 L1116.1 778.3 L1116.9 778.5 L1117.7 779.3 L1118.4 780.4 L1119.2 780.7 L1119.9 780.6 L1120.7 780.1 L1121.5 779.1 L1122.2 778.2 L1123.0 778.1 L1123.7 778.7 L1124.5 779.1 L1125.2 780.2 L1126.0 780.6 L1126.8 780.6 L1127.5 779.9 L1128.3 778.8 L1129.0 777.9 L1129.8 778.2 L1130.6 778.1 L1131.3 779.1 L1132.1 780.2 L1132.8 780.1 L1133.6 780.3 L1134.3 779.9 L1135.1 778.9 L1135.9 778.3 L1136.6 778.2 L1137.4 777.7 L1138.1 778.5 L1138.9 780.1 L1139.7 780.3 L1140.4 780.6 L1141.2 779.8 L1141.9 779.1 L1142.7 778.0 L1143.4 778.1 L1144.2 778.2 L1145.0 778.6 L1145.7 779.7 L1146.5 780.3 L1147.2 779.9 L1148.0 779.8 L1148.7 779.2 L1149.5 778.1 L1150.3 777.6 L1151.0 777.8 L1151.8 778.4 L1152.5 780.1 L1153.3 780.4 L1154.1 780.4 L1154.8 779.7 L1155.6 779.2 L1156.3 778.2 L1157.1 778.1 L1157.8 778.1 L1158.6 778.2 L1159.4 779.9 L1160.1 780.5 L1160.9 780.1 L1161.6 779.9 L1162.4 779.9 L1163.2 777.9 L1163.9 778.2 L1164.7 778.4 L1165.4 777.9 L1166.2 779.4 L1166.9 780.0 L1167.7 780.3 L1168.5 780.2 L1169.2 780.0 L1170.0 778.2 L1170.7 777.9 L1171.5 778.2 L1172.3 778.0 L1173.0 779.0 L1173.8 780.6 L1174.5 779.9 L1175.3 780.0 L1176.0 779.7 L1176.8 777.9 L1177.6 777.4 L1178.3 778.1 L1179.1 777.8 L1179.8 778.8 L1180.6 779.9 L1181.3 779.9 L1182.1 779.8 L1182.9 779.8 L1183.6 778.8 L1184.4 778.1 L1185.1 778.0 L1185.9 777.6 L1186.7 778.7 L1187.4 779.6 L1188.2 780.3 L1188.9 780.1 L1189.7 779.9 L1190.4 778.4 L1191.2 777.8 L1192.0 777.5 L1192.7 778.1 L1193.5 778.2 L1194.2 779.6 L1195.0 780.2 L1195.8 780.1 L1196.5 780.2 L1197.3 779.1 L1198.0 778.1 L1198.8 778.1 L1199.5 778.1 L1200.3 778.8 L1201.1 779.5 L1201.8 780.5 L1202.6 780.2 L1203.3 780.1 L1204.1 779.3 L1204.9 778.2 L1205.6 778.4 L1206.4 778.6 L1207.1 778.0 L1207.9 780.0 L1208.6 781.1 L1209.4 780.9 L1210.2 781.1 L1210.9 780.0 L1211.7 778.3 L1212.4 778.2 L1213.2 778.7 L1214.0 779.0 L1214.7 779.8 L1215.5 780.8 L1216.2 781.0 L1217.0 780.3 L1217.7 780.1 L1218.5 780.0 L1220.5 747.1 L1221.3 746.6 L1222.0 747.9 L1222.8 748.0 L1223.5 748.5 L1224.3 748.9 L1225.0 750.0 L1225.8 750.8 L1226.6 753.6 L1227.3 755.3 L1228.1 757.4 L1228.8 759.8 L1229.6 762.6 L1230.4 763.6 L1231.1 764.8 L1231.9 764.5 L1232.6 764.9 L1233.4 765.7 L1234.1 766.1 L1234.9 767.3 L1235.7 769.4 L1236.4 771.0 L1237.2 771.6 L1237.9 772.5 L1238.7 772.0 L1239.4 770.9 L1240.2 771.1 L1241.0 771.0 L1241.7 772.0 L1242.5 773.8 L1243.2 775.1 L1244.0 775.4 L1244.8 775.9 L1245.5 775.2 L1246.3 774.2 L1247.0 774.0 L1247.8 774.1 L1248.5 773.8 L1249.3 774.9 L1250.1 776.6 L1250.8 776.3 L1251.6 776.7 L1252.3 776.0 L1253.1 774.6 L1253.9 774.4 L1254.6 774.3 L1255.4 774.4 L1256.1 774.6 L1256.9 776.2 L1257.6 777.0 L1258.4 777.3 L1259.2 776.8 L1259.9 775.5 L1260.7 775.0 L1261.4 774.7 L1262.2 774.8 L1262.9 774.9 L1263.7 776.7 L1264.5 777.0 L1265.2 777.3 L1266.0 776.7 L1266.7 776.4 L1267.5 774.8 L1268.3 774.8 L1269.0 774.9 L1269.8 774.8 L1270.5 776.3 L1271.3 776.9 L1272.0 777.2 L1272.8 777.4 L1273.6 776.8 L1274.3 775.6 L1275.1 775.1 L1275.8 774.9 L1276.6 775.5 L1277.3 775.7 L1278.1 777.2 L1278.9 777.2 L1279.6 777.1 L1280.4 777.2 L1281.1 776.0 L1281.9 775.0 L1282.7 775.2 L1283.4 774.5 L1284.2 775.2 L1284.9 776.4 L1285.7 777.9 L1286.4 777.4 L1287.2 777.4 L1288.0 776.5 L1288.7 775.5 L1289.5 775.0 L1290.2 775.2 L1291.0 774.8 L1291.8 776.8 L1292.5 777.6 L1293.3 777.8 L1294.0 778.0 L1294.8 777.3 L1295.5 775.6 L1296.3 775.4 L1297.1 775.3 L1297.8 775.2 L1298.6 776.0 L1299.3 777.3 L1300.1 777.9 L1300.8 778.0 L1301.6 777.6 L1302.4 776.7 L1303.1 774.9 L1303.9 775.2 L1304.6 775.7 L1305.4 775.6 L1306.2 776.8 L1306.9 778.1 L1307.7 778.0 L1308.4 777.5 L1309.2 777.1 L1309.9 775.2 L1310.7 775.0 L1311.5 775.3 L1312.2 775.4 L1313.0 776.4 L1313.7 777.7 L1314.5 777.6 L1315.2 777.9 L1316.0 777.5 L1316.8 776.0 L1317.5 775.3 L1318.3 775.1 L1319.0 775.2 L1319.8 776.1 L1320.6 778.0 L1321.3 778.2 L1322.1 777.8 L1322.8 778.1 L1323.6 776.1 L1324.3 775.8 L1325.1 775.4 L1325.9 775.7 L1326.6 776.0 L1327.4 777.3 L1328.1 778.1 L1328.9 777.8 L1329.7 778.0 L1330.4 777.5 L1331.2 776.7 L1331.9 775.7 L1332.7 775.5 L1333.4 775.4 L1334.2 777.0 L1335.0 777.5 L1335.7 777.9 L1336.5 778.2 L1337.2 777.5 L1338.0 776.5 L1338.7 775.8 L1339.5 775.4 L1340.3 775.5 L1341.0 775.9 L1341.8 777.4 L1342.5 778.2 L1343.3 778.3 L1344.1 778.1 L1344.8 776.9 L1345.6 775.5 L1346.3 775.7 L1347.1 775.2 L1347.8 775.9 L1348.6 777.6 L1349.4 778.4 L1350.1 778.1 L1350.9 778.1 L1351.6 778.0 L1352.4 776.4 L1353.1 775.2 L1353.9 775.5 L1354.7 775.8 L1355.4 776.9 L1356.2 777.8 L1356.9 778.4 L1357.7 778.2 L1358.5 778.6 L1359.2 776.6 L1360.0 775.6 L1360.7 775.5 L1361.5 775.9 L1362.2 776.3 L1363.0 777.3 L1363.8 778.3 L1364.5 777.9 L1365.3 778.0 L1366.0 777.1 L1366.8 775.5 L1367.6 775.5 L1368.3 775.4 L1369.1 776.0 L1369.8 777.2 L1370.6 778.1 L1371.3 778.0 L1372.1 778.5 L1372.9 777.5 L1373.6 775.8 L1374.4 775.9 L1375.1 775.8 L1375.9 776.0 L1376.6 776.3 L1377.4 777.6 L1378.2 778.2 L1378.9 778.5 L1379.7 778.1 L1380.4 777.0 L1381.2 775.5 L1382.0 775.4 L1382.7 775.9 L1383.5 776.1 L1384.2 777.0 L1385.0 778.0 L1385.7 778.3 L1386.5 778.5 L1387.3 777.7 L1388.0 776.1 L1388.8 775.2 L1389.5 775.4 L1390.3 775.9 L1391.0 776.7 L1391.8 777.8 L1392.6 778.2 L1393.3 778.6 L1394.1 778.2 L1394.8 776.9 L1395.6 776.0 L1396.4 775.8 L1397.1 776.1 L1397.9 776.3 L1398.6 777.3 L1399.4 778.4 L1400.1 778.5 L1400.9 778.1 L1401.7 777.7 L1402.4 776.4 L1403.2 775.4 L1403.9 776.0 L1404.7 776.0 L1405.4 776.6 L1406.2 778.3 L1407.0 778.6 L1407.7 778.8 L1408.5 778.3 L1409.2 776.9 L1410.0 775.9 L1410.8 776.3 L1411.5 776.1 L1412.3 775.9 L1413.0 777.6 L1413.8 778.3 L1414.5 778.6 L1415.3 778.6 L1416.1 778.6 L1416.8 775.8 L1417.6 776.1 L1418.3 776.0 L1419.1 775.8 L1419.9 776.8 L1420.6 778.2 L1421.4 778.6 L1422.1 778.9 L1422.9 778.1 L1423.6 777.4 L1424.4 775.9 L1425.2 776.3 L1425.9 776.0 L1426.7 776.5 L1427.4 777.9 L1428.2 778.9 L1428.9 778.7 L1429.7 778.4 L1430.5 778.3 L1431.2 776.5 L1432.0 776.5 L1432.7 775.4 L1433.5 776.0 L1434.3 777.0 L1435.0 778.0 L1435.8 778.6 L1436.5 779.3 L1437.3 779.0 L1438.0 777.2 L1438.8 776.5 L1439.6 776.3 L1440.3 776.2 L1441.1 776.3 L1441.8 777.5 L1442.6 778.4 L1443.3 778.6 L1444.1 779.0 L1444.9 778.6 L1445.6 777.3 L1446.4 776.0 L1447.1 775.4 L1447.9 776.0 L1448.7 776.5 L1449.4 778.1 L1450.2 778.8 L1450.9 778.6 L1451.7 779.2 L1452.4 778.1 L1453.2 776.6 L1454.0 776.0 L1454.7 775.7 L1455.5 776.5 L1456.2 776.1 L1457.0 778.1 L1457.8 778.9 L1458.5 778.8 L1459.3 779.0 L1460.0 778.0 L1460.8 776.2 L1461.5 776.6 L1462.3 776.0 L1463.1 776.2 L1463.8 776.7 L1464.6 778.4 L1465.3 779.1 L1466.1 779.1 L1466.8 778.9 L1467.6 777.6 L1468.4 776.5 L1469.1 775.7 L1469.9 776.0 L1470.6 776.2 L1471.4 777.0 L1472.2 778.7 L1472.9 778.8 L1473.7 778.8 L1474.4 779.3 L1475.2 777.9 L1475.9 776.6 L1476.7 776.2 L1477.5 776.4 L1478.2 776.5 L1479.0 777.6 L1479.7 779.3 L1480.5 779.0 L1481.2 779.1 L1482.0 778.9 L1482.8 777.0 L1483.5 776.0 L1484.3 776.2 L1485.0 776.4 L1485.8 776.2 L1486.6 777.5 L1487.3 779.0 L1488.1 779.0 L1488.8 779.4 L1489.6 779.5 L1490.3 778.2 L1491.1 776.2 L1491.9 776.6 L1492.6 776.2 L1493.4 776.2 L1494.1 777.1 L1494.9 778.5 L1495.7 779.4 L1496.4 779.3 L1497.2 779.4 L1497.9 778.6 L1498.7 776.4 L1499.4 776.2 L1500.2 776.5 L1501.0 776.2 L1501.7 777.6 L1502.5 778.4 L1503.2 779.0 L1504.0 779.5 L1504.7 779.4 L1505.5 778.8 L1506.3 776.9 L1507.0 776.5 L1507.8 776.5 L1508.5 776.5 L1509.3 776.6 L1510.1 778.2 L1510.8 779.3 L1511.6 779.4 L1512.3 778.5 L1513.1 778.8 L1513.8 777.3 L1514.6 776.4 L1515.4 776.4 L1516.1 776.6 L1516.9 776.7 L1517.6 777.5 L1518.4 779.0 L1519.1 779.7 L1519.9 779.1 L1520.7 779.3 L1521.4 778.8 L1522.2 776.8 L1522.9 775.9 L1523.7 776.5 L1524.5 776.4 L1525.2 776.9 L1526.0 778.8 L1526.7 779.4 L1527.5 779.3 L1528.2 779.6 L1529.0 779.1 L1529.8 777.3 L1530.5 776.6 L1531.3 776.5 L1532.0 776.3 L1532.8 776.5 L1533.6 777.8 L1534.3 778.9 L1535.1 779.1 L1535.8 779.7 L1536.6 779.3 L1537.3 778.4 L1538.1 776.7 L1538.9 776.5 L1539.6 776.5 L1540.4 776.5 L1541.1 776.8 L1541.9 778.9 L1542.6 779.2 L1543.4 779.7 L1544.2 779.0 L1544.9 778.9 L1545.7 777.6 L1546.4 776.5 L1547.2 776.3 L1548.0 776.6 L1548.7 776.4 L1549.5 777.8 L1550.2 778.7 L1551.0 779.4 L1551.7 779.3 L1552.5 779.6" fill="none" stroke="#00a014" stroke-width="3.00" stroke-linejoin="round" stroke-linecap="square"/>
<rect x="270.33" y="104.34" width="33.33" height="33.33" fill="none" stroke="#00a014" stroke-width="5.00" stroke-linejoin="round"/>
<rect x="493.83" y="771.74" width="33.33" height="33.33" fill="none" stroke="#00a014" stroke-width="5.00" stroke-linejoin="round"/>
<rect x="719.34" y="767.74" width="33.33" height="33.33" fill="none" stroke="#00a014" stroke-width="5.00" stroke-linejoin="round"/>
<rect x="944.34" y="764.29" width="33.33" height="33.33" fill="none" stroke="#00a014" stroke-width="5.00" stroke-linejoin="round"/>
<rect x="1169.34" y="762.24" width="33.33" height="33.33" fill="none" stroke="#00a014" stroke-width="5.00" stroke-linejoin="round"/>
<rect x="1394.84" y="760.19" width="33.33" height="33.33" fill="none" stroke="#00a014" stroke-width="5.00" stroke-linejoin="round"/>
<path d="M287.0 117.7 L287.8 116.9 L288.6 117.7 L289.4 117.2 L290.2 117.3 L291.0 117.8 L291.8 119.3 L292.6 119.1 L293.4 119.1 L294.2 119.8 L295.0 121.1 L295.8 123.8 L296.6 126.4 L297.4 135.0 L298.2 174.0 L299.0 334.0 L299.8 360.5 L300.6 546.2 L301.4 582.2 L302.2 645.4 L303.0 683.1 L303.8 710.0 L304.6 735.0 L305.4 757.4 L306.2 776.6 L307.0 793.9 L307.8 810.6 L308.6 824.4 L309.4 835.8 L310.2 846.1 L311.0 855.1 L311.8 862.6 L312.6 869.1 L313.4 874.2 L314.2 879.3 L315.0 883.6 L315.8 888.7 L316.6 892.9 L317.4 896.0 L318.2 898.9 L319.0 900.5 L319.8 902.3 L320.6 902.9 L321.4 904.4 L322.2 906.2 L323.0 906.9 L323.8 907.0 L324.6 908.1 L325.4 908.4 L326.2 908.3 L327.0 909.1 L327.8 909.3 L328.6 909.8 L329.4 909.7 L330.2 909.4 L330.9 909.1 L331.7 908.3 L332.5 907.9 L333.3 907.5 L334.1 906.9 L334.9 907.0 L335.7 906.6 L336.5 905.5 L337.3 905.0 L338.1 903.8 L338.9 903.4 L339.7 902.9 L340.5 902.6 L341.3 902.4 L342.1 902.4 L342.9 901.7 L343.7 900.3 L344.5 899.7 L345.3 898.7 L346.1 898.9 L346.9 897.8 L347.7 897.7 L348.5 897.3 L349.3 896.5 L350.1 895.6 L350.9 895.0 L351.7 893.9 L352.5 893.4 L353.3 893.1 L354.1 892.3 L354.9 892.5 L355.7 891.6 L356.5 890.8 L357.3 889.2 L358.1 889.1 L358.9 888.4 L359.7 887.9 L360.5 888.7 L361.3 887.7 L362.1 887.0 L362.9 886.3 L363.7 885.6 L364.5 885.2 L365.3 884.6 L366.1 884.7 L366.9 884.7 L367.7 883.5 L368.5 883.3 L369.3 882.4 L370.1 881.9 L370.9 881.9 L371.7 881.3 L372.5 880.7 L373.3 880.9 L374.1 881.0 L374.9 880.1 L375.7 879.4 L376.5 878.8 L377.3 877.8 L378.1 878.3 L378.9 878.2 L379.7 878.2 L380.5 877.5 L381.3 877.2 L382.1 876.4 L382.9 876.0 L383.7 875.6 L384.5 875.4 L385.3 875.9 L386.1 875.8 L386.9 874.9 L387.7 874.6 L388.5 874.5 L389.3 873.3 L390.1 873.5 L390.9 873.3 L391.7 872.8 L392.5 872.9 L393.3 872.8 L394.1 872.1 L394.9 871.3 L395.7 871.0 L396.5 871.1 L397.3 870.5 L398.1 870.7 L398.9 870.7 L399.7 870.2 L400.5 870.7 L401.3 868.8 L402.1 868.9 L402.9 869.0 L403.7 868.2 L404.5 869.1 L405.3 869.3 L406.1 868.5 L406.9 868.5 L407.7 867.4 L408.5 867.5 L409.3 867.2 L410.1 867.1 L410.9 867.7 L411.7 867.5 L412.5 867.6 L413.3 867.1 L414.1 865.8 L414.9 865.9 L415.7 865.8 L416.5 865.1 L417.2 866.2 L418.0 865.9 L418.8 865.8 L419.6 865.2 L420.4 864.8 L421.2 864.5 L422.0 864.2 L422.8 864.2 L423.6 863.9 L424.4 865.0 L425.2 864.1 L426.0 863.5 L426.8 863.2 L427.6 862.9 L428.4 863.2 L429.2 862.7 L430.0 863.4 L430.8 863.1 L431.6 863.9 L432.4 863.1 L433.2 862.8 L434.0 861.7 L434.8 862.0 L435.6 861.5 L436.4 862.3 L437.2 862.4 L438.0 861.6 L438.8 861.5 L439.6 860.8 L440.4 860.4 L441.2 860.5 L442.0 860.4 L442.8 860.7 L443.6 861.2 L444.4 861.2 L445.2 860.4 L446.0 859.9 L446.8 859.9 L447.6 859.7 L448.4 859.5 L449.2 860.4 L450.0 860.5 L450.8 860.3 L451.6 859.8 L452.4 859.8 L453.2 859.5 L454.0 858.7 L454.8 858.8 L455.6 859.6 L456.4 859.0 L457.2 859.3 L458.0 859.0 L458.8 858.0 L459.6 858.0 L460.4 857.5 L461.2 857.8 L462.0 857.8 L462.8 859.1 L463.6 858.7 L464.4 858.4 L465.2 857.4 L466.0 857.5 L466.8 857.4 L467.6 857.4 L468.4 857.8 L469.2 857.2 L470.0 857.5 L470.8 857.0 L471.6 856.1 L472.4 855.9 L473.2 856.3 L474.0 856.5 L474.8 856.2 L475.6 857.1 L476.4 857.0 L477.2 856.2 L478.0 855.4 L478.8 855.4 L479.6 855.6 L480.4 855.2 L481.2 855.4 L482.0 855.9 L482.8 855.0 L483.6 855.4 L484.4 855.1 L485.2 854.6 L486.0 854.7 L486.8 854.6 L487.6 855.1 L488.4 854.9 L489.2 854.5 L490.0 854.5 L490.8 853.8 L491.6 854.1 L492.4 854.1 L493.2 853.7 L494.0 853.8 L494.8 853.8 L495.6 853.9 L496.4 854.1 L497.2 853.1 L498.0 852.8 L498.8 852.5 L499.6 853.0 L500.4 853.3 L501.2 853.2 L502.0 853.2 L502.8 853.4 L503.6 852.2 L504.3 852.6 L505.1 852.3 L505.9 852.0 L506.7 852.7 L507.5 852.4 L508.3 852.1 L509.1 852.0 L509.9 851.2 L510.7 851.4 L511.5 851.2 L512.3 851.4 L513.1 851.9 L513.9 850.8 L514.7 851.7 L515.5 850.8 L516.3 850.7 L517.1 850.3 L517.9 850.5 L518.7 850.9 L519.5 850.4 L520.3 851.0 L521.1 850.8 L521.9 850.1 L522.7 850.2 L523.5 849.8 L524.3 849.6 L525.1 849.5 L525.9 851.2 L526.7 850.1 L527.5 849.6 L528.3 849.7 L529.1 849.2 L529.9 849.0 L530.7 849.0 L531.5 848.8 L532.3 849.7 L533.1 849.4 L533.9 849.1 L534.7 849.0 L535.5 848.5 L536.3 848.7 L537.1 848.5 L537.9 848.3 L538.7 848.8 L539.5 849.0 L540.3 849.4 L541.1 848.4 L541.9 848.1 L542.7 848.0 L543.5 847.4 L544.3 847.8 L545.1 848.2 L545.9 848.0 L546.7 848.1 L547.5 848.1 L549.2 824.5 L550.0 826.5 L550.7 829.0 L551.5 832.4 L552.2 834.1 L553.0 837.2 L553.7 840.0 L554.5 841.5 L555.3 843.5 L556.0 845.2 L556.8 847.2 L557.5 849.3 L558.3 850.7 L559.1 852.2 L559.8 853.2 L560.6 853.6 L561.3 854.1 L562.1 854.4 L562.8 855.7 L563.6 856.7 L564.4 857.7 L565.1 858.0 L565.9 857.6 L566.6 858.4 L567.4 857.4 L568.1 857.6 L568.9 858.3 L569.7 857.6 L570.4 858.6 L571.2 858.9 L571.9 858.9 L572.7 858.8 L573.5 858.9 L574.2 858.3 L575.0 858.7 L575.7 858.8 L576.5 858.2 L577.2 859.0 L578.0 859.2 L578.8 858.9 L579.5 858.9 L580.3 858.7 L581.0 858.4 L581.8 858.0 L582.6 858.4 L583.3 859.1 L584.1 858.9 L584.8 858.9 L585.6 859.7 L586.3 859.2 L587.1 857.9 L587.9 857.9 L588.6 858.5 L589.4 858.1 L590.1 858.9 L590.9 858.9 L591.6 859.2 L592.4 858.2 L593.2 857.6 L593.9 857.8 L594.7 858.4 L595.4 858.1 L596.2 858.0 L597.0 859.0 L597.7 859.0 L598.5 858.7 L599.2 858.3 L600.0 858.1 L600.7 858.2 L601.5 857.9 L602.3 858.2 L603.0 858.5 L603.8 858.4 L604.5 858.2 L605.3 858.4 L606.0 857.7 L606.8 857.5 L607.6 857.9 L608.3 857.8 L609.1 858.3 L609.8 857.8 L610.6 858.4 L611.4 858.0 L612.1 857.5 L612.9 857.1 L613.6 857.7 L614.4 857.6 L615.1 857.3 L615.9 857.6 L616.7 858.0 L617.4 857.8 L618.2 858.3 L618.9 856.8 L619.7 856.6 L620.5 857.0 L621.2 857.1 L622.0 857.6 L622.7 858.0 L623.5 858.4 L624.2 857.7 L625.0 857.2 L625.8 856.4 L626.5 857.0 L627.3 857.2 L628.0 857.0 L628.8 857.9 L629.5 857.6 L630.3 858.1 L631.1 857.6 L631.8 856.6 L632.6 856.6 L633.3 856.3 L634.1 856.3 L634.9 857.3 L635.6 857.7 L636.4 858.1 L637.1 857.4 L637.9 856.9 L638.6 856.3 L639.4 856.9 L640.2 856.7 L640.9 856.6 L641.7 857.5 L642.4 857.5 L643.2 856.7 L643.9 857.4 L644.7 856.6 L645.5 856.3 L646.2 856.3 L647.0 857.0 L647.7 857.4 L648.5 857.7 L649.3 856.8 L650.0 856.9 L650.8 856.9 L651.5 855.9 L652.3 856.0 L653.0 855.7 L653.8 857.0 L654.6 857.2 L655.3 857.1 L656.1 857.0 L656.8 856.7 L657.6 856.1 L658.3 856.3 L659.1 855.9 L659.9 856.5 L660.6 856.4 L661.4 856.5 L662.1 857.2 L662.9 856.7 L663.7 856.5 L664.4 855.8 L665.2 855.2 L665.9 856.0 L666.7 855.6 L667.4 856.8 L668.2 856.1 L669.0 855.9 L669.7 856.4 L670.5 855.9 L671.2 855.6 L672.0 855.2 L672.8 855.8 L673.5 855.5 L674.3 856.1 L675.0 856.0 L675.8 856.0 L676.5 856.0 L677.3 855.1 L678.1 855.4 L678.8 855.4 L679.6 854.8 L680.3 855.4 L681.1 855.8 L681.8 855.7 L682.6 855.8 L683.4 854.5 L684.1 855.1 L684.9 855.1 L685.6 854.8 L686.4 854.8 L687.2 855.5 L687.9 855.4 L688.7 855.6 L689.4 855.1 L690.2 854.9 L690.9 854.4 L691.7 855.0 L692.5 854.0 L693.2 854.8 L694.0 855.4 L694.7 854.7 L695.5 855.3 L696.2 854.2 L697.0 854.3 L697.8 854.0 L698.5 854.2 L699.3 854.6 L700.0 854.9 L700.8 854.9 L701.6 855.6 L702.3 854.7 L703.1 853.9 L703.8 854.4 L704.6 854.3 L705.3 854.5 L706.1 855.2 L706.9 854.5 L707.6 855.1 L708.4 855.1 L709.1 854.3 L709.9 854.1 L710.7 853.1 L711.4 853.9 L712.2 854.8 L712.9 854.2 L713.7 854.6 L714.4 854.9 L715.2 854.8 L716.0 854.6 L716.7 853.5 L717.5 854.0 L718.2 854.3 L719.0 854.1 L719.7 854.8 L720.5 855.4 L721.3 855.2 L722.0 854.5 L722.8 853.2 L723.5 854.0 L724.3 854.1 L725.1 854.1 L725.8 854.7 L726.6 855.7 L727.3 854.7 L728.1 854.4 L728.8 854.2 L729.6 853.9 L730.4 853.9 L731.1 854.0 L731.9 854.7 L732.6 854.8 L733.4 854.4 L734.1 854.7 L734.9 854.6 L735.7 853.9 L736.4 854.3 L737.2 854.2 L737.9 853.8 L738.7 854.7 L739.5 855.4 L740.2 855.3 L741.0 854.7 L741.7 854.5 L742.5 853.8 L743.2 853.5 L744.0 854.2 L744.8 854.4 L745.5 854.9 L746.3 854.7 L747.0 854.8 L747.8 854.4 L748.5 854.1 L749.3 854.2 L750.1 853.9 L750.8 854.2 L751.6 853.9 L752.3 854.4 L753.1 855.1 L753.9 855.2 L754.6 854.3 L755.4 853.8 L756.1 853.4 L756.9 853.9 L757.6 854.2 L758.4 854.0 L759.2 854.7 L759.9 854.7 L760.7 854.6 L761.4 853.5 L762.2 853.9 L763.0 853.3 L763.7 854.2 L764.5 854.1 L765.2 854.1 L766.0 854.8 L766.7 854.8 L767.5 853.9 L768.3 854.3 L769.0 853.3 L769.8 853.6 L770.5 854.0 L771.3 853.4 L772.0 854.6 L772.8 854.2 L773.6 854.2 L774.3 853.4 L775.1 853.5 L775.8 853.1 L776.6 853.1 L777.4 853.5 L778.1 853.7 L778.9 854.6 L779.6 853.7 L780.4 853.7 L781.1 853.2 L781.9 853.2 L782.7 853.4 L783.4 853.5 L784.2 853.5 L784.9 853.8 L785.7 853.9 L786.4 854.1 L787.2 853.7 L788.0 852.9 L788.7 852.4 L789.5 853.6 L790.2 853.4 L791.0 853.6 L791.8 853.8 L792.5 853.5 L793.3 853.3 L794.0 853.0 L794.8 852.7 L795.5 852.6 L796.3 852.3 L797.1 852.9 L797.8 853.6 L798.6 853.3 L799.3 853.4 L800.1 852.6 L800.9 852.6 L801.6 852.5 L802.4 852.2 L803.1 852.0 L803.9 853.1 L804.6 853.0 L805.4 853.4 L806.2 853.0 L806.9 853.0 L807.7 852.3 L808.4 851.9 L809.2 852.3 L809.9 852.3 L810.7 853.1 L811.5 852.8 L812.2 852.8 L813.0 853.1 L813.7 852.7 L814.5 852.3 L815.3 852.4 L816.0 852.2 L816.8 852.5 L817.5 853.0 L818.3 852.9 L819.0 852.7 L819.8 852.6 L820.6 852.7 L821.3 851.8 L822.1 851.7 L822.8 851.7 L823.6 852.2 L824.3 852.6 L825.1 852.2 L825.9 851.9 L826.6 852.2 L827.4 851.2 L828.1 851.7 L828.9 851.6 L829.7 852.0 L830.4 852.6 L831.2 852.4 L831.9 852.1 L832.7 851.8 L833.4 851.4 L834.2 851.4 L835.0 850.7 L835.7 851.4 L836.5 851.5 L837.2 852.2 L838.0 851.9 L838.7 852.0 L839.5 851.7 L840.3 851.2 L841.0 850.6 L841.8 851.2 L842.5 851.6 L843.3 851.5 L844.1 851.9 L844.8 851.5 L845.6 852.2 L846.3 851.3 L847.1 851.2 L847.8 851.0 L848.6 850.6 L849.4 851.3 L850.1 851.4 L850.9 851.7 L851.6 851.8 L852.4 851.6 L853.2 851.0 L853.9 850.9 L854.7 850.6 L855.4 850.8 L856.2 850.7 L856.9 850.9 L857.7 851.3 L858.5 851.3 L859.2 851.4 L860.0 851.1 L860.7 850.1 L861.5 850.6 L862.2 849.9 L863.0 850.5 L863.8 851.1 L864.5 850.6 L865.3 850.7 L866.0 851.1 L866.8 850.5 L867.6 850.4 L868.3 850.2 L869.1 851.1 L869.8 850.8 L870.6 850.9 L871.3 851.6 L872.1 851.3 L872.9 850.7 L873.6 850.7 L874.4 850.3 L875.1 850.4 L875.9 850.4 L876.6 850.5 L877.4 851.2 L878.2 851.0 L878.9 850.6 L879.7 850.2 L880.4 850.4 L881.2 850.0 L882.0 850.1 L882.7 850.4 L883.5 850.7 L884.2 850.3 L885.0 851.0 L885.7 850.9 L886.5 850.3 L887.3 850.4 L888.0 850.0 L888.8 850.1 L889.5 850.7 L890.3 850.5 L891.1 851.1 L891.8 851.1 L892.6 850.6 L893.3 850.4 L894.1 850.0 L894.8 849.4 L895.6 850.1 L896.4 850.3 L897.1 850.5 L897.9 850.5 L898.6 850.8 L899.4 850.2 L900.1 849.4 L900.9 849.7 L901.7 849.8 L902.4 849.4 L903.2 850.0 L903.9 850.1 L904.7 850.1 L905.5 850.3 L906.2 850.0 L907.0 850.0 L907.7 849.7 L908.5 849.7 L909.2 849.9 L910.0 850.4 L910.8 850.0 L911.5 850.3 L912.3 850.1 L913.0 849.4 L913.8 849.1 L914.5 849.1 L915.3 849.1 L916.1 849.1 L916.8 850.0 L917.6 849.9 L918.3 849.9 L919.1 849.9 L919.9 849.4 L920.6 848.9 L921.4 849.0 L922.1 848.6 L922.9 848.8 L923.6 849.2 L924.4 850.2 L925.2 849.2 L925.9 849.7 L926.7 849.4 L927.4 848.8 L928.2 849.4 L929.0 849.5 L929.7 849.7 L930.5 850.3 L931.2 849.8 L932.0 849.4 L932.7 849.4 L933.5 848.7 L934.3 848.4 L935.0 848.4 L935.8 849.6 L936.5 849.2 L937.3 849.5 L938.0 849.3 L938.8 849.5 L939.6 848.9 L940.3 848.6 L941.1 848.3 L941.8 848.2 L942.6 848.6 L943.4 849.4 L944.1 850.0 L944.9 849.7 L945.6 849.9 L946.4 848.9 L947.1 848.6 L947.9 848.2 L948.7 848.6 L949.4 848.2 L950.2 849.2 L950.9 849.8 L951.7 849.4 L952.4 849.5 L953.2 848.5 L954.0 848.1 L954.7 848.3 L955.5 848.4 L956.2 849.2 L957.0 849.8 L957.8 849.0 L958.5 849.1 L959.3 849.0 L960.0 848.4 L960.8 848.0 L961.5 848.4 L962.3 848.6 L963.1 849.0 L963.8 848.8 L964.6 849.1 L965.3 848.6 L966.1 849.1 L966.8 848.1 L967.6 848.3 L968.4 848.2 L969.1 848.3 L969.9 848.6 L970.6 848.6 L971.4 849.6 L972.2 849.2 L972.9 848.8 L973.7 849.0 L974.4 848.3 L975.2 848.5 L975.9 848.4 L976.7 849.3 L977.5 849.2 L978.2 849.2 L979.0 848.9 L979.7 848.6 L980.5 848.6 L981.3 847.6 L982.0 848.2 L982.8 848.3 L983.5 848.8 L984.3 848.4 L985.0 849.2 L985.8 848.7 L986.6 848.3 L987.3 848.0 L988.1 847.7 L988.8 848.1 L989.6 847.9 L990.3 848.6 L991.1 848.9 L991.9 849.0 L992.6 848.9 L993.4 848.2 L994.1 848.8 L994.9 848.3 L995.7 847.8 L996.4 848.3 L997.2 848.7 L997.9 848.9 L998.7 848.7 L999.4 848.5 L1000.2 848.7 L1001.0 848.1 L1001.7 848.0 L1002.5 848.1 L1003.2 848.4 L1004.0 849.2 L1004.7 849.0 L1005.5 849.2 L1006.3 847.7 L1007.0 848.2 L1007.8 848.4 L1008.5 848.6 L1009.3 848.1 L1010.1 848.0 L1010.8 849.0 L1011.6 848.6 L1012.3 848.2 L1013.1 848.3 L1013.8 848.3 L1014.6 848.3 L1015.4 848.2 L1016.1 847.8 L1016.9 849.3 L1017.6 848.4 L1018.4 848.7 L1019.2 848.3 L1019.9 848.8 L1020.7 848.1 L1021.4 848.2 L1022.2 848.0 L1022.9 848.0 L1023.7 848.6 L1024.5 848.1 L1025.2 849.0 L1026.0 848.9 L1026.7 848.1 L1027.5 847.9 L1028.2 848.0 L1029.0 848.4 L1029.8 848.2 L1030.5 848.5 L1031.3 848.5 L1032.0 848.2 L1032.8 848.4 L1033.6 848.2 L1034.3 847.8 L1035.1 847.9 L1035.8 848.1 L1036.6 848.2 L1037.3 848.6 L1038.1 848.8 L1038.9 848.7 L1039.6 848.5 L1040.4 848.2 L1041.1 847.3 L1041.9 848.2 L1042.6 847.4 L1043.4 848.3 L1044.2 848.5 L1044.9 848.9 L1045.7 848.6 L1046.4 848.2 L1047.2 848.3 L1048.0 847.8 L1048.7 847.8 L1049.5 847.8 L1050.2 848.3 L1051.0 848.7 L1051.7 848.6 L1052.5 848.1 L1053.3 848.3 L1054.0 847.9 L1054.8 848.3 L1055.5 847.8 L1056.3 847.7 L1057.0 848.4 L1057.8 848.4 L1058.6 848.5 L1059.3 848.5 L1060.1 847.9 L1060.8 848.1 L1061.6 847.8 L1062.4 847.6 L1063.1 847.4 L1063.9 848.1 L1064.6 848.8 L1065.4 848.3 L1066.1 848.1 L1066.9 848.5 L1067.7 847.3 L1068.4 847.0 L1069.2 847.5 L1069.9 847.5 L1070.7 847.9 L1071.5 848.2 L1072.2 848.5 L1073.0 848.4 L1073.7 848.1 L1074.5 847.6 L1075.2 847.8 L1076.0 847.9 L1076.8 847.9 L1077.5 848.2 L1078.3 847.4 L1079.0 848.1 L1079.8 848.3 L1080.5 848.3 L1081.3 847.2 L1082.1 848.0 L1082.8 847.7 L1083.6 847.4 L1084.3 848.0 L1085.1 848.2 L1085.9 848.1 L1086.6 848.5 L1087.4 848.1 L1088.1 847.2 L1088.9 847.4 L1089.6 847.5 L1090.4 847.3 L1091.2 848.3 L1091.9 848.0 L1092.7 848.9 L1093.4 848.6 L1094.2 847.9 L1094.9 847.7 L1095.7 847.9 L1096.5 847.5 L1097.2 847.2 L1098.0 847.9 L1098.7 848.9 L1099.5 847.9 L1100.3 848.5 L1101.0 848.2 L1101.8 847.6 L1102.5 847.4 L1103.3 847.4 L1104.0 847.8 L1104.8 848.0 L1105.6 847.9 L1106.3 848.7 L1107.1 847.9 L1107.8 848.3 L1108.6 847.6 L1109.4 847.8 L1110.1 847.6 L1110.9 847.8 L1111.6 847.8 L1112.4 848.5 L1113.1 848.4 L1113.9 848.9 L1114.7 847.9 L1115.4 847.9 L1116.2 847.6 L1116.9 847.5 L1117.7 847.3 L1118.4 847.9 L1119.2 847.7 L1120.0 847.8 L1120.7 848.4 L1121.5 847.6 L1122.2 848.0 L1123.0 847.3 L1123.8 847.5 L1124.5 847.5 L1125.3 847.9 L1126.0 848.1 L1126.8 848.1 L1127.5 848.2 L1128.3 848.4 L1129.1 847.9 L1129.8 847.8 L1130.6 847.5 L1131.3 847.4 L1132.1 847.2 L1132.8 848.3 L1133.6 848.4 L1134.4 848.1 L1135.1 848.3 L1135.9 847.9 L1136.6 847.4 L1137.4 847.7 L1138.2 847.5 L1138.9 847.1 L1139.7 848.0 L1140.4 848.1 L1141.2 848.3 L1141.9 847.8 L1142.7 847.4 L1143.5 847.1 L1144.2 847.4 L1145.0 847.4 L1145.7 847.9 L1146.5 848.3 L1147.2 848.2 L1148.0 848.2 L1148.8 848.1 L1149.5 847.6 L1150.3 847.8 L1151.0 846.6 L1151.8 847.3 L1152.6 847.6 L1153.3 848.4 L1154.1 847.8 L1154.8 848.3 L1155.6 848.4 L1156.3 847.5 L1157.1 846.8 L1157.9 847.2 L1158.6 847.0 L1159.4 847.7 L1160.1 847.7 L1160.9 848.7 L1161.7 848.2 L1162.4 847.9 L1163.2 847.6 L1163.9 847.0 L1164.7 847.5 L1165.4 847.8 L1166.2 847.4 L1167.0 848.2 L1167.7 847.8 L1168.5 848.2 L1169.2 848.8 L1170.0 847.4 L1170.7 847.7 L1171.5 847.7 L1172.3 846.8 L1173.0 847.0 L1173.8 847.6 L1174.5 848.4 L1175.3 848.0 L1176.1 848.1 L1176.8 848.1 L1177.6 847.4 L1178.3 847.4 L1179.1 847.2 L1179.8 847.7 L1180.6 847.6 L1181.4 848.6 L1182.1 848.0 L1182.9 847.9 L1183.6 848.1 L1184.4 847.5 L1185.1 846.7 L1185.9 847.4 L1186.7 847.0 L1187.4 847.5 L1188.2 848.3 L1188.9 847.9 L1189.7 848.2 L1190.5 847.9 L1191.2 848.0 L1192.0 847.3 L1192.7 847.0 L1193.5 847.1 L1194.2 847.4 L1195.0 848.1 L1195.8 848.2 L1196.5 848.5 L1197.3 848.1 L1198.0 847.6 L1198.8 847.5 L1199.6 847.4 L1200.3 847.5 L1201.1 847.9 L1201.8 848.4 L1202.6 848.1 L1203.3 847.7 L1204.1 848.0 L1204.9 847.8 L1205.6 846.7 L1206.4 847.3 L1207.1 847.6 L1207.9 847.5 L1208.6 847.8 L1209.4 848.8 L1210.2 848.7 L1210.9 848.2 L1211.7 848.3 L1212.4 848.0 L1213.2 847.2 L1214.0 848.4 L1214.7 847.4 L1215.5 848.1 L1216.2 848.0 L1217.0 848.4 L1217.7 847.8 L1218.5 848.1 L1220.3 811.6 L1221.1 812.0 L1221.8 813.0 L1222.6 815.2 L1223.3 816.4 L1224.1 819.7 L1224.8 822.4 L1225.6 824.9 L1226.4 826.5 L1227.1 828.3 L1227.9 829.9 L1228.6 831.2 L1229.4 833.0 L1230.1 834.7 L1230.9 835.5 L1231.7 836.2 L1232.4 837.0 L1233.2 837.4 L1233.9 838.4 L1234.7 839.3 L1235.4 840.1 L1236.2 841.0 L1236.9 842.1 L1237.7 842.3 L1238.5 842.3 L1239.2 843.4 L1240.0 842.6 L1240.7 842.9 L1241.5 843.0 L1242.2 843.8 L1243.0 843.6 L1243.8 844.6 L1244.5 844.6 L1245.3 844.4 L1246.0 844.3 L1246.8 844.5 L1247.5 844.3 L1248.3 844.4 L1249.1 844.8 L1249.8 844.6 L1250.6 845.1 L1251.3 845.1 L1252.1 845.2 L1252.8 845.1 L1253.6 844.6 L1254.4 845.1 L1255.1 844.0 L1255.9 844.7 L1256.6 844.8 L1257.4 845.2 L1258.1 845.2 L1258.9 845.5 L1259.6 845.4 L1260.4 845.0 L1261.2 844.8 L1261.9 844.7 L1262.7 844.7 L1263.4 845.1 L1264.2 845.0 L1264.9 845.8 L1265.7 845.6 L1266.5 845.9 L1267.2 845.7 L1268.0 845.2 L1268.7 844.7 L1269.5 844.8 L1270.2 844.8 L1271.0 845.4 L1271.8 846.0 L1272.5 846.2 L1273.3 845.8 L1274.0 845.9 L1274.8 845.0 L1275.5 844.5 L1276.3 844.9 L1277.1 845.0 L1277.8 844.9 L1278.6 845.3 L1279.3 846.2 L1280.1 845.8 L1280.8 845.6 L1281.6 846.5 L1282.4 845.4 L1283.1 845.2 L1283.9 845.6 L1284.6 845.2 L1285.4 846.3 L1286.1 845.7 L1286.9 845.8 L1287.6 846.2 L1288.4 845.8 L1289.2 846.0 L1289.9 845.0 L1290.7 845.2 L1291.4 845.6 L1292.2 845.9 L1292.9 846.5 L1293.7 846.4 L1294.5 847.0 L1295.2 846.1 L1296.0 845.8 L1296.7 845.8 L1297.5 845.5 L1298.2 845.5 L1299.0 845.6 L1299.8 846.0 L1300.5 846.0 L1301.3 846.2 L1302.0 845.9 L1302.8 846.2 L1303.5 845.2 L1304.3 846.3 L1305.1 846.2 L1305.8 846.1 L1306.6 846.1 L1307.3 846.3 L1308.1 846.9 L1308.8 846.6 L1309.6 846.6 L1310.3 845.6 L1311.1 846.1 L1311.9 845.5 L1312.6 845.8 L1313.4 845.5 L1314.1 846.3 L1314.9 846.7 L1315.6 846.5 L1316.4 846.4 L1317.2 846.4 L1317.9 845.8 L1318.7 846.2 L1319.4 845.2 L1320.2 846.2 L1320.9 846.6 L1321.7 846.2 L1322.5 846.3 L1323.2 847.0 L1324.0 846.1 L1324.7 845.8 L1325.5 846.1 L1326.2 845.9 L1327.0 846.2 L1327.8 846.1 L1328.5 846.8 L1329.3 847.1 L1330.0 846.9 L1330.8 846.0 L1331.5 846.4 L1332.3 846.0 L1333.1 845.8 L1333.8 846.5 L1334.6 845.7 L1335.3 847.3 L1336.1 846.7 L1336.8 847.3 L1337.6 846.8 L1338.3 846.1 L1339.1 846.2 L1339.9 846.2 L1340.6 846.3 L1341.4 846.5 L1342.1 846.4 L1342.9 847.1 L1343.6 847.2 L1344.4 846.9 L1345.2 846.5 L1345.9 846.0 L1346.7 846.4 L1347.4 846.4 L1348.2 846.0 L1348.9 846.1 L1349.7 847.3 L1350.5 846.5 L1351.2 847.1 L1352.0 846.7 L1352.7 846.0 L1353.5 846.3 L1354.2 846.2 L1355.0 846.7 L1355.8 847.1 L1356.5 846.8 L1357.3 847.4 L1358.0 847.4 L1358.8 846.9 L1359.5 846.6 L1360.3 846.8 L1361.0 846.2 L1361.8 846.3 L1362.6 846.3 L1363.3 846.7 L1364.1 846.9 L1364.8 847.4 L1365.6 847.5 L1366.3 847.0 L1367.1 846.1 L1367.9 846.4 L1368.6 845.9 L1369.4 846.2 L1370.1 846.9 L1370.9 847.8 L1371.6 847.3 L1372.4 846.9 L1373.2 847.4 L1373.9 846.2 L1374.7 846.3 L1375.4 846.9 L1376.2 846.7 L1376.9 846.1 L1377.7 846.4 L1378.5 847.5 L1379.2 847.3 L1380.0 847.1 L1380.7 847.3 L1381.5 846.5 L1382.2 845.9 L1383.0 846.7 L1383.8 846.3 L1384.5 846.4 L1385.3 846.8 L1386.0 847.4 L1386.8 847.1 L1387.5 847.5 L1388.3 846.8 L1389.0 846.9 L1389.8 846.4 L1390.6 846.4 L1391.3 846.1 L1392.1 846.7 L1392.8 847.6 L1393.6 848.3 L1394.3 847.0 L1395.1 846.9 L1395.9 846.8 L1396.6 846.7 L1397.4 846.4 L1398.1 846.7 L1398.9 846.4 L1399.6 847.2 L1400.4 847.7 L1401.2 847.9 L1401.9 847.3 L1402.7 846.9 L1403.4 846.8 L1404.2 847.0 L1404.9 846.8 L1405.7 846.5 L1406.5 847.3 L1407.2 847.7 L1408.0 847.3 L1408.7 847.1 L1409.5 847.5 L1410.2 846.9 L1411.0 847.0 L1411.8 846.7 L1412.5 846.5 L1413.3 846.8 L1414.0 847.1 L1414.8 847.2 L1415.5 847.3 L1416.3 847.3 L1417.0 847.4 L1417.8 846.4 L1418.6 846.7 L1419.3 846.6 L1420.1 847.3 L1420.8 847.3 L1421.6 847.4 L1422.3 847.8 L1423.1 847.6 L1423.9 847.3 L1424.6 847.3 L1425.4 847.0 L1426.1 847.3 L1426.9 847.2 L1427.6 847.3 L1428.4 847.5 L1429.2 847.3 L1429.9 847.8 L1430.7 847.6 L1431.4 847.4 L1432.2 846.8 L1432.9 846.6 L1433.7 846.5 L1434.5 847.1 L1435.2 847.7 L1436.0 847.5 L1436.7 847.8 L1437.5 848.1 L1438.2 847.3 L1439.0 846.9 L1439.7 846.5 L1440.5 847.2 L1441.3 847.0 L1442.0 846.9 L1442.8 847.0 L1443.5 847.6 L1444.3 848.0 L1445.0 847.6 L1445.8 847.3 L1446.6 847.2 L1447.3 846.5 L1448.1 846.9 L1448.8 847.1 L1449.6 846.9 L1450.3 847.4 L1451.1 847.8 L1451.9 847.7 L1452.6 847.6 L1453.4 847.4 L1454.1 847.0 L1454.9 846.7 L1455.6 846.7 L1456.4 847.1 L1457.2 847.7 L1457.9 848.1 L1458.7 847.5 L1459.4 848.1 L1460.2 847.9 L1460.9 847.3 L1461.7 847.2 L1462.5 847.2 L1463.2 847.5 L1464.0 846.7 L1464.7 847.6 L1465.5 847.7 L1466.2 847.7 L1467.0 848.1 L1467.7 848.0 L1468.5 847.0 L1469.3 847.0 L1470.0 847.1 L1470.8 846.6 L1471.5 847.4 L1472.3 847.5 L1473.0 847.8 L1473.8 847.9 L1474.6 848.4 L1475.3 847.8 L1476.1 847.2 L1476.8 847.6 L1477.6 846.9 L1478.3 846.9 L1479.1 846.7 L1479.9 847.9 L1480.6 847.9 L1481.4 848.0 L1482.1 847.9 L1482.9 847.8 L1483.6 847.1 L1484.4 846.9 L1485.2 847.2 L1485.9 847.1 L1486.7 847.7 L1487.4 847.3 L1488.2 847.7 L1488.9 847.6 L1489.7 848.3 L1490.4 847.5 L1491.2 847.7 L1492.0 847.6 L1492.7 847.1 L1493.5 847.3 L1494.2 846.6 L1495.0 847.4 L1495.7 847.4 L1496.5 848.0 L1497.3 847.9 L1498.0 847.7 L1498.8 847.9 L1499.5 847.3 L1500.3 847.0 L1501.0 847.0 L1501.8 846.8 L1502.6 847.4 L1503.3 848.5 L1504.1 847.8 L1504.8 848.1 L1505.6 847.8 L1506.3 848.0 L1507.1 847.4 L1507.9 847.1 L1508.6 846.7 L1509.4 847.1 L1510.1 847.7 L1510.9 847.7 L1511.6 848.2 L1512.4 847.9 L1513.2 847.4 L1513.9 848.0 L1514.7 847.5 L1515.4 847.1 L1516.2 847.1 L1516.9 847.3 L1517.7 847.1 L1518.4 847.8 L1519.2 847.9 L1520.0 847.3 L1520.7 848.0 L1521.5 847.8 L1522.2 847.4 L1523.0 847.4 L1523.7 847.1 L1524.5 847.4 L1525.3 847.6 L1526.0 847.5 L1526.8 847.5 L1527.5 847.8 L1528.3 848.3 L1529.0 848.0 L1529.8 847.7 L1530.6 847.4 L1531.3 847.4 L1532.1 847.3 L1532.8 847.5 L1533.6 847.1 L1534.3 847.6 L1535.1 847.9 L1535.9 848.1 L1536.6 847.4 L1537.4 848.0 L1538.1 847.3 L1538.9 847.7 L1539.6 847.7 L1540.4 847.8 L1541.1 847.5 L1541.9 847.4 L1542.7 848.2 L1543.4 848.0 L1544.2 848.3 L1544.9 847.8 L1545.7 847.8 L1546.4 847.6 L1547.2 847.8 L1548.0 847.3 L1548.7 848.0 L1549.5 848.2 L1550.2 847.4 L1551.0 848.0 L1551.7 847.8 L1552.5 848.1" fill="none" stroke="#f22023" stroke-width="3.00" stroke-linejoin="round" stroke-linecap="square"/>
<path d="M270.33 100.84L303.67 134.16M270.33 134.16L303.67 100.84" fill="none" stroke="#f22023" stroke-width="5.00" stroke-linecap="butt"/>
<path d="M493.83 835.04L527.16 868.37M493.83 868.37L527.16 835.04" fill="none" stroke="#f22023" stroke-width="5.00" stroke-linecap="butt"/>
<path d="M719.34 837.74L752.66 871.06M719.34 871.06L752.66 837.74" fill="none" stroke="#f22023" stroke-width="5.00" stroke-linecap="butt"/>
<path d="M944.34 831.74L977.66 865.06M944.34 865.06L977.66 831.74" fill="none" stroke="#f22023" stroke-width="5.00" stroke-linecap="butt"/>
<path d="M1169.34 831.04L1202.66 864.37M1169.34 864.37L1202.66 831.04" fill="none" stroke="#f22023" stroke-width="5.00" stroke-linecap="butt"/>
<path d="M1394.84 830.44L1428.16 863.76M1394.84 863.76L1428.16 830.44" fill="none" stroke="#f22023" stroke-width="5.00" stroke-linecap="butt"/>
<path d="M287.0 124.8 L287.8 124.8 L288.6 125.6 L289.4 126.3 L290.2 127.4 L291.0 129.8 L291.8 133.5 L292.6 137.9 L293.4 142.6 L294.2 148.3 L295.0 157.3 L295.8 170.3 L296.6 211.6 L297.4 380.8 L298.2 657.5 L299.0 770.6 L299.8 811.9 L300.6 834.6 L301.4 849.2 L302.2 860.7 L303.0 869.9 L303.8 877.6 L304.6 884.4 L305.4 889.9 L306.2 894.2 L307.0 897.6 L307.8 901.5 L308.6 905.1 L309.4 908.5 L310.2 910.8 L311.0 913.5 L311.8 916.1 L312.6 917.1 L313.4 918.9 L314.2 921.2 L315.0 923.0 L315.8 924.5 L316.6 925.2 L317.4 926.6 L318.2 926.5 L319.0 927.0 L319.8 927.1 L320.6 927.6 L321.4 928.1 L322.2 928.6 L323.0 929.4 L323.8 929.7 L324.6 929.6 L325.4 929.5 L326.2 929.0 L327.0 929.6 L327.8 929.5 L328.6 929.7 L329.4 930.0 L330.2 929.8 L331.0 929.6 L331.8 929.1 L332.6 929.2 L333.4 928.6 L334.2 928.7 L335.0 928.5 L335.8 928.9 L336.6 928.9 L337.4 928.4 L338.2 927.6 L339.0 927.1 L339.8 926.8 L340.6 927.0 L341.4 926.8 L342.2 926.6 L343.0 927.0 L343.8 925.9 L344.6 926.0 L345.4 924.7 L346.2 924.9 L347.0 924.4 L347.8 924.8 L348.6 924.2 L349.4 924.1 L350.2 923.4 L351.0 922.6 L351.8 922.5 L352.6 922.5 L353.4 921.7 L354.2 922.2 L355.0 921.6 L355.8 921.2 L356.6 921.2 L357.4 919.3 L358.2 919.4 L359.0 918.7 L359.8 919.2 L360.6 919.3 L361.4 920.2 L362.2 918.9 L363.0 918.7 L363.8 918.0 L364.6 917.2 L365.4 917.2 L366.2 917.7 L367.0 917.3 L367.8 917.1 L368.6 916.9 L369.4 915.6 L370.2 915.3 L371.0 915.4 L371.8 915.3 L372.6 915.0 L373.4 915.2 L374.2 915.1 L375.0 914.8 L375.8 914.4 L376.6 913.8 L377.4 913.5 L378.2 912.9 L379.0 913.2 L379.8 913.6 L380.6 912.8 L381.4 913.1 L382.2 912.2 L383.0 911.7 L383.8 911.9 L384.6 911.4 L385.4 911.5 L386.2 911.5 L387.0 911.5 L387.8 912.1 L388.6 909.9 L389.4 910.1 L390.2 909.8 L391.0 910.0 L391.8 909.8 L392.6 909.2 L393.4 910.1 L394.2 909.1 L395.0 908.7 L395.8 907.9 L396.6 907.8 L397.4 907.9 L398.2 908.5 L399.0 908.5 L399.8 907.9 L400.6 908.0 L401.4 907.0 L402.2 906.9 L403.0 906.8 L403.8 906.9 L404.6 906.8 L405.4 907.0 L406.2 907.0 L407.0 906.8 L407.8 905.9 L408.6 906.4 L409.4 905.7 L410.2 906.0 L411.0 906.2 L411.8 906.6 L412.6 905.5 L413.4 906.5 L414.2 905.3 L415.0 904.8 L415.8 905.1 L416.6 905.8 L417.4 905.6 L418.2 905.1 L419.0 905.3 L419.8 905.7 L420.6 904.2 L421.4 904.5 L422.2 904.4 L423.0 905.1 L423.8 904.8 L424.6 905.3 L425.4 904.6 L426.2 904.4 L427.0 904.4 L427.8 904.1 L428.6 903.4 L429.4 904.1 L430.2 904.5 L431.0 904.2 L431.8 904.3 L432.6 904.1 L433.4 903.3 L434.2 903.2 L435.0 903.1 L435.8 903.2 L436.6 903.3 L437.4 903.7 L438.2 903.2 L439.0 903.4 L439.8 902.8 L440.6 902.3 L441.4 902.8 L442.2 903.2 L443.0 903.4 L443.8 902.6 L444.6 903.3 L445.4 902.7 L446.2 902.1 L447.0 901.8 L447.8 901.9 L448.6 902.4 L449.4 902.5 L450.2 902.2 L451.0 902.1 L451.8 901.9 L452.6 901.6 L453.4 901.9 L454.2 900.9 L455.0 901.3 L455.8 901.6 L456.6 901.5 L457.4 901.7 L458.2 901.5 L459.0 900.4 L459.8 900.4 L460.6 901.0 L461.4 900.8 L462.2 901.2 L463.0 900.9 L463.8 900.8 L464.6 900.8 L465.4 900.0 L466.2 899.7 L467.0 900.0 L467.8 900.3 L468.6 900.1 L469.4 900.7 L470.2 900.5 L471.0 899.7 L471.8 899.5 L472.6 899.4 L473.4 899.5 L474.2 899.7 L475.0 899.4 L475.8 899.4 L476.6 900.0 L477.4 899.4 L478.2 899.0 L479.0 898.9 L479.8 899.2 L480.6 898.5 L481.4 899.6 L482.2 899.0 L483.0 899.4 L483.8 899.2 L484.6 897.9 L485.4 898.4 L486.2 898.1 L487.0 898.2 L487.8 898.7 L488.6 898.3 L489.4 898.3 L490.2 898.4 L491.0 898.0 L491.8 897.5 L492.6 897.2 L493.4 898.5 L494.2 898.4 L495.0 898.2 L495.8 897.7 L496.6 897.5 L497.4 897.3 L498.2 896.8 L499.0 897.5 L499.8 897.2 L500.6 897.6 L501.4 897.2 L502.2 897.1 L503.0 896.8 L503.8 896.7 L504.6 896.4 L505.4 896.3 L506.2 896.7 L507.0 896.9 L507.8 897.3 L508.6 896.7 L509.4 896.1 L510.2 895.9 L511.0 896.2 L511.8 895.5 L512.6 895.9 L513.4 896.1 L514.2 896.2 L515.0 896.1 L515.8 895.4 L516.6 895.1 L517.4 895.3 L518.2 895.3 L519.0 895.4 L519.8 895.6 L520.6 895.2 L521.4 895.1 L522.2 895.1 L523.0 894.0 L523.8 894.2 L524.6 893.6 L525.4 894.1 L526.2 894.3 L527.0 894.1 L527.8 894.5 L528.6 893.7 L529.4 893.3 L530.2 893.2 L531.0 893.0 L531.8 893.8 L532.6 893.5 L533.4 893.6 L534.2 893.0 L535.0 892.9 L535.8 892.4 L536.6 892.3 L537.4 892.1 L538.2 892.4 L539.0 893.1 L539.8 892.6 L540.6 892.4 L541.4 892.0 L542.2 892.3 L543.0 891.9 L543.8 891.5 L544.6 891.6 L545.4 891.5 L546.2 891.4 L547.0 891.3 L547.8 891.0 L548.9 702.4 L549.7 785.6 L550.4 856.8 L551.2 876.6 L551.9 888.1 L552.7 894.8 L553.4 897.8 L554.2 898.7 L555.0 899.8 L555.7 900.3 L556.5 902.0 L557.2 902.5 L558.0 903.8 L558.8 904.8 L559.5 906.2 L560.3 905.7 L561.0 905.5 L561.8 906.3 L562.5 906.6 L563.3 907.5 L564.1 907.3 L564.8 907.9 L565.6 908.6 L566.3 909.1 L567.1 909.1 L567.9 909.3 L568.6 908.8 L569.4 909.3 L570.1 909.9 L570.9 910.9 L571.6 911.1 L572.4 911.1 L573.2 911.0 L573.9 911.3 L574.7 911.4 L575.4 912.1 L576.2 911.5 L577.0 912.5 L577.7 912.1 L578.5 912.4 L579.2 912.5 L580.0 912.3 L580.7 912.0 L581.5 912.2 L582.3 912.5 L583.0 912.6 L583.8 913.5 L584.5 913.4 L585.3 913.6 L586.1 914.0 L586.8 913.2 L587.6 913.2 L588.3 913.2 L589.1 913.4 L589.8 914.0 L590.6 913.9 L591.4 914.6 L592.1 914.8 L592.9 914.3 L593.6 913.7 L594.4 913.4 L595.2 913.8 L595.9 914.3 L596.7 915.0 L597.4 914.8 L598.2 914.8 L598.9 915.3 L599.7 914.2 L600.5 914.7 L601.2 914.8 L602.0 914.2 L602.7 915.2 L603.5 915.2 L604.3 915.1 L605.0 914.9 L605.8 914.6 L606.5 915.0 L607.3 914.8 L608.0 915.1 L608.8 915.0 L609.6 915.6 L610.3 915.8 L611.1 915.4 L611.8 915.3 L612.6 915.5 L613.4 915.4 L614.1 915.1 L614.9 915.5 L615.6 916.2 L616.4 916.8 L617.1 916.0 L617.9 916.5 L618.7 916.5 L619.4 915.7 L620.2 916.2 L620.9 915.1 L621.7 916.5 L622.5 916.5 L623.2 916.1 L624.0 916.9 L624.7 916.8 L625.5 916.5 L626.2 916.4 L627.0 916.1 L627.8 916.0 L628.5 916.6 L629.3 916.9 L630.0 917.1 L630.8 916.9 L631.6 916.6 L632.3 916.7 L633.1 916.6 L633.8 917.2 L634.6 917.5 L635.3 916.9 L636.1 917.2 L636.9 917.0 L637.6 916.9 L638.4 917.0 L639.1 916.6 L639.9 916.6 L640.7 917.0 L641.4 917.8 L642.2 917.6 L642.9 917.7 L643.7 918.1 L644.4 917.6 L645.2 917.4 L646.0 917.6 L646.7 917.1 L647.5 917.7 L648.2 917.9 L649.0 918.5 L649.8 918.5 L650.5 917.8 L651.3 918.1 L652.0 917.4 L652.8 918.1 L653.5 918.0 L654.3 918.1 L655.1 918.3 L655.8 918.6 L656.6 918.7 L657.3 918.1 L658.1 918.3 L658.9 917.7 L659.6 918.2 L660.4 918.5 L661.1 918.4 L661.9 919.1 L662.6 918.7 L663.4 918.2 L664.2 918.4 L664.9 918.5 L665.7 918.9 L666.4 918.6 L667.2 919.6 L668.0 919.8 L668.7 919.8 L669.5 919.9 L670.2 919.2 L671.0 918.7 L671.7 919.1 L672.5 919.3 L673.3 919.3 L674.0 919.6 L674.8 919.3 L675.5 920.0 L676.3 919.8 L677.1 918.9 L677.8 919.3 L678.6 919.5 L679.3 919.4 L680.1 920.1 L680.8 920.3 L681.6 919.7 L682.4 920.0 L683.1 919.9 L683.9 919.8 L684.6 920.0 L685.4 919.0 L686.2 919.8 L686.9 920.5 L687.7 920.7 L688.4 920.9 L689.2 920.0 L689.9 919.7 L690.7 919.4 L691.5 920.0 L692.2 919.4 L693.0 920.6 L693.7 920.7 L694.5 920.6 L695.3 919.8 L696.0 920.0 L696.8 920.1 L697.5 919.4 L698.3 919.8 L699.0 920.0 L699.8 920.7 L700.6 920.6 L701.3 918.9 L702.1 917.1 L702.8 916.7 L703.6 916.5 L704.4 916.7 L705.1 916.5 L705.9 917.1 L706.6 916.6 L707.4 917.4 L708.1 917.0 L708.9 917.1 L709.7 916.4 L710.4 916.5 L711.2 916.7 L711.9 916.2 L712.7 916.8 L713.5 916.8 L714.2 917.0 L715.0 916.3 L715.7 916.3 L716.5 916.1 L717.2 915.9 L718.0 916.1 L718.8 916.0 L719.5 917.2 L720.3 916.9 L721.0 917.4 L721.8 916.3 L722.6 915.8 L723.3 916.2 L724.1 915.6 L724.8 916.2 L725.6 916.4 L726.3 916.7 L727.1 916.8 L727.9 916.7 L728.6 916.8 L729.4 916.2 L730.1 915.6 L730.9 916.3 L731.7 915.9 L732.4 916.7 L733.2 916.3 L733.9 916.4 L734.7 916.9 L735.4 915.9 L736.2 915.7 L737.0 915.8 L737.7 915.9 L738.5 916.8 L739.2 916.2 L740.0 916.2 L740.8 916.7 L741.5 915.7 L742.3 915.7 L743.0 916.1 L743.8 915.8 L744.5 915.8 L745.3 916.1 L746.1 916.2 L746.8 916.2 L747.6 916.4 L748.3 916.2 L749.1 916.0 L749.9 915.5 L750.6 915.5 L751.4 916.2 L752.1 915.7 L752.9 916.2 L753.6 916.2 L754.4 915.7 L755.2 915.3 L755.9 915.6 L756.7 915.0 L757.4 915.3 L758.2 915.8 L759.0 916.2 L759.7 915.7 L760.5 916.4 L761.2 915.6 L762.0 915.3 L762.7 915.3 L763.5 915.2 L764.3 915.3 L765.0 916.3 L765.8 916.1 L766.5 916.0 L767.3 916.2 L768.1 915.1 L768.8 915.4 L769.6 915.2 L770.3 915.0 L771.1 915.8 L771.8 915.4 L772.6 916.0 L773.4 915.6 L774.1 915.6 L774.9 915.5 L775.6 915.2 L776.4 914.9 L777.2 915.2 L777.9 915.5 L778.7 915.4 L779.4 915.4 L780.2 915.6 L780.9 915.3 L781.7 914.4 L782.5 914.9 L783.2 915.1 L784.0 915.2 L784.7 915.2 L785.5 915.9 L786.3 915.2 L787.0 915.6 L787.8 915.4 L788.5 914.2 L789.3 914.9 L790.0 914.9 L790.8 915.3 L791.6 915.2 L792.3 915.3 L793.1 915.0 L793.8 915.1 L794.6 914.8 L795.4 914.4 L796.1 914.4 L796.9 914.6 L797.6 915.2 L798.4 915.3 L799.1 915.2 L799.9 915.2 L800.7 914.3 L801.4 913.7 L802.2 914.7 L802.9 914.9 L803.7 914.4 L804.5 914.9 L805.2 915.2 L806.0 915.4 L806.7 915.1 L807.5 914.8 L808.2 914.4 L809.0 914.5 L809.8 914.5 L810.5 914.7 L811.3 915.4 L812.0 915.2 L812.8 915.3 L813.6 914.5 L814.3 914.6 L815.1 913.9 L815.8 914.4 L816.6 913.6 L817.3 914.5 L818.1 915.1 L818.9 914.7 L819.6 914.9 L820.4 913.8 L821.1 914.6 L821.9 914.3 L822.7 914.1 L823.4 914.5 L824.2 914.8 L824.9 915.2 L825.7 914.8 L826.4 914.2 L827.2 914.0 L828.0 914.4 L828.7 914.2 L829.5 913.9 L830.2 914.6 L831.0 914.7 L831.8 914.8 L832.5 914.2 L833.3 914.1 L834.0 914.1 L834.8 913.8 L835.5 914.0 L836.3 914.6 L837.1 914.4 L837.8 914.6 L838.6 914.4 L839.3 914.3 L840.1 914.0 L840.9 913.4 L841.6 913.2 L842.4 914.2 L843.1 914.0 L843.9 914.8 L844.6 914.5 L845.4 914.5 L846.2 914.5 L846.9 914.0 L847.7 913.4 L848.4 914.1 L849.2 913.5 L850.0 914.2 L850.7 915.1 L851.5 914.4 L852.2 914.9 L853.0 914.0 L853.7 913.9 L854.5 913.7 L855.3 913.8 L856.0 913.5 L856.8 913.9 L857.5 914.4 L858.3 913.9 L859.1 914.1 L859.8 914.1 L860.6 913.5 L861.3 913.4 L862.1 913.3 L862.8 913.8 L863.6 914.1 L864.4 914.3 L865.1 914.2 L865.9 914.7 L866.6 913.6 L867.4 913.0 L868.2 913.6 L868.9 913.6 L869.7 913.9 L870.4 913.7 L871.2 914.6 L871.9 914.2 L872.7 914.0 L873.5 913.1 L874.2 913.7 L875.0 913.5 L875.7 914.0 L876.5 913.8 L877.3 913.8 L878.0 914.2 L878.8 913.9 L879.5 914.0 L880.3 913.2 L881.0 913.4 L881.8 913.4 L882.6 913.6 L883.3 913.9 L884.1 913.9 L884.8 914.1 L885.6 913.9 L886.4 913.7 L887.1 913.4 L887.9 912.8 L888.6 913.4 L889.4 914.0 L890.1 914.1 L890.9 914.3 L891.7 914.2 L892.4 913.9 L893.2 913.1 L893.9 913.6 L894.7 913.7 L895.5 913.6 L896.2 913.8 L897.0 914.1 L897.7 914.0 L898.5 914.1 L899.2 913.9 L900.0 913.5 L900.8 913.1 L901.5 913.1 L902.3 913.6 L903.0 913.7 L903.8 913.3 L904.6 914.0 L905.3 913.3 L906.1 914.3 L906.8 913.5 L907.6 913.5 L908.3 913.1 L909.1 913.1 L909.9 913.8 L910.6 914.0 L911.4 913.7 L912.1 914.0 L912.9 913.7 L913.7 913.4 L914.4 913.0 L915.2 912.6 L915.9 913.4 L916.7 913.7 L917.4 914.1 L918.2 914.4 L919.0 914.3 L919.7 913.5 L920.5 913.6 L921.2 913.7 L922.0 913.3 L922.8 913.6 L923.5 914.1 L924.3 913.9 L925.0 913.8 L925.8 913.6 L926.5 913.3 L927.3 913.0 L928.1 913.4 L928.8 913.1 L929.6 914.0 L930.3 914.2 L931.1 913.5 L931.9 914.2 L932.6 913.5 L933.4 913.6 L934.1 913.3 L934.9 913.2 L935.6 913.4 L936.4 913.5 L937.2 913.9 L937.9 914.0 L938.7 913.8 L939.4 913.6 L940.2 912.9 L941.0 913.3 L941.7 912.8 L942.5 913.5 L943.2 913.9 L944.0 914.0 L944.7 913.7 L945.5 914.7 L946.3 913.3 L947.0 913.2 L947.8 912.9 L948.5 913.6 L949.3 913.2 L950.1 914.0 L950.8 913.6 L951.6 913.9 L952.3 913.7 L953.1 913.6 L953.8 913.1 L954.6 912.9 L955.4 913.3 L956.1 913.1 L956.9 913.5 L957.6 914.1 L958.4 913.3 L959.2 913.9 L959.9 913.1 L960.7 912.9 L961.4 913.2 L962.2 913.4 L962.9 913.3 L963.7 913.8 L964.5 914.1 L965.2 914.0 L966.0 913.6 L966.7 913.0 L967.5 912.9 L968.3 913.0 L969.0 913.4 L969.8 913.8 L970.5 913.9 L971.3 914.2 L972.0 913.7 L972.8 913.5 L973.6 913.1 L974.3 913.7 L975.1 912.6 L975.8 913.3 L976.6 913.8 L977.4 913.9 L978.1 914.5 L978.9 914.2 L979.6 913.7 L980.4 912.9 L981.1 913.3 L981.9 913.1 L982.7 913.3 L983.4 913.8 L984.2 913.7 L984.9 914.0 L985.7 914.3 L986.5 913.7 L987.2 913.3 L988.0 912.6 L988.7 913.5 L989.5 913.7 L990.2 913.7 L991.0 913.7 L991.8 914.1 L992.5 913.6 L993.3 913.6 L994.0 912.9 L994.8 912.9 L995.6 913.2 L996.3 913.1 L997.1 913.8 L997.8 914.1 L998.6 913.5 L999.3 914.1 L1000.1 913.2 L1000.9 913.4 L1001.6 913.3 L1002.4 913.1 L1003.1 913.4 L1003.9 913.4 L1004.7 913.7 L1005.4 913.7 L1006.2 914.3 L1006.9 913.6 L1007.7 912.9 L1008.4 913.5 L1009.2 913.4 L1010.0 913.5 L1010.7 914.1 L1011.5 914.2 L1012.2 913.8 L1013.0 913.7 L1013.8 913.4 L1014.5 913.0 L1015.3 913.3 L1016.0 913.3 L1016.8 913.5 L1017.5 913.7 L1018.3 914.1 L1019.1 914.2 L1019.8 913.8 L1020.6 913.1 L1021.3 913.5 L1022.1 913.4 L1022.9 913.6 L1023.6 914.1 L1024.4 913.7 L1025.1 914.0 L1025.9 913.8 L1026.6 913.4 L1027.4 913.9 L1028.2 913.6 L1028.9 912.8 L1029.7 913.6 L1030.4 913.7 L1031.2 914.4 L1032.0 914.1 L1032.7 914.0 L1033.5 913.7 L1034.2 913.5 L1035.0 913.4 L1035.7 913.3 L1036.5 913.5 L1037.3 914.1 L1038.0 913.7 L1038.8 914.1 L1039.5 914.0 L1040.3 913.5 L1041.1 913.6 L1041.8 913.0 L1042.6 913.3 L1043.3 913.3 L1044.1 914.1 L1044.8 914.0 L1045.6 914.1 L1046.4 914.2 L1047.1 913.2 L1047.9 913.5 L1048.6 913.2 L1049.4 913.4 L1050.2 913.6 L1050.9 914.3 L1051.7 914.3 L1052.4 914.6 L1053.2 914.1 L1053.9 913.5 L1054.7 913.3 L1055.5 913.6 L1056.2 913.9 L1057.0 913.8 L1057.7 913.9 L1058.5 914.2 L1059.3 914.2 L1060.0 914.1 L1060.8 913.4 L1061.5 912.8 L1062.3 913.3 L1063.0 913.8 L1063.8 913.8 L1064.6 913.5 L1065.3 914.2 L1066.1 913.7 L1066.8 914.7 L1067.6 913.7 L1068.4 913.2 L1069.1 913.7 L1069.9 913.3 L1070.6 913.9 L1071.4 914.1 L1072.1 913.9 L1072.9 914.4 L1073.7 913.7 L1074.4 914.0 L1075.2 913.5 L1075.9 913.2 L1076.7 913.0 L1077.5 914.3 L1078.2 914.6 L1079.0 913.9 L1079.7 914.7 L1080.5 914.2 L1081.2 913.6 L1082.0 913.5 L1082.8 913.5 L1083.5 914.0 L1084.3 913.9 L1085.0 913.7 L1085.8 914.8 L1086.6 914.5 L1087.3 913.8 L1088.1 913.6 L1088.8 913.3 L1089.6 913.6 L1090.3 913.7 L1091.1 913.9 L1091.9 914.0 L1092.6 914.0 L1093.4 914.5 L1094.1 914.1 L1094.9 914.3 L1095.7 913.3 L1096.4 913.8 L1097.2 913.6 L1097.9 913.7 L1098.7 914.6 L1099.4 914.3 L1100.2 914.0 L1101.0 914.1 L1101.7 914.0 L1102.5 913.3 L1103.2 914.0 L1104.0 913.8 L1104.8 913.8 L1105.5 914.6 L1106.3 914.8 L1107.0 914.5 L1107.8 914.3 L1108.5 914.2 L1109.3 914.0 L1110.1 913.4 L1110.8 913.6 L1111.6 913.9 L1112.3 914.2 L1113.1 913.9 L1113.9 914.6 L1114.6 914.3 L1115.4 913.8 L1116.1 914.0 L1116.9 913.5 L1117.6 913.7 L1118.4 914.0 L1119.2 914.2 L1119.9 914.3 L1120.7 914.6 L1121.4 914.3 L1122.2 914.2 L1123.0 913.5 L1123.7 913.7 L1124.5 913.3 L1125.2 913.9 L1126.0 914.1 L1126.7 914.8 L1127.5 914.6 L1128.3 914.5 L1129.0 914.4 L1129.8 914.1 L1130.5 913.9 L1131.3 913.5 L1132.1 913.5 L1132.8 914.3 L1133.6 914.3 L1134.3 914.2 L1135.1 914.3 L1135.8 913.4 L1136.6 914.2 L1137.4 913.4 L1138.1 913.6 L1138.9 914.1 L1139.6 913.9 L1140.4 914.7 L1141.2 914.7 L1141.9 914.3 L1142.7 913.7 L1143.4 913.6 L1144.2 913.2 L1144.9 914.2 L1145.7 914.0 L1146.5 914.2 L1147.2 914.2 L1148.0 914.7 L1148.7 914.9 L1149.5 913.7 L1150.3 913.7 L1151.0 913.3 L1151.8 914.0 L1152.5 914.0 L1153.3 915.0 L1154.0 914.5 L1154.8 914.4 L1155.6 914.3 L1156.3 914.4 L1157.1 913.4 L1157.8 914.1 L1158.6 914.0 L1159.4 913.9 L1160.1 914.2 L1160.9 914.9 L1161.6 915.1 L1162.4 914.5 L1163.1 914.4 L1163.9 914.4 L1164.7 913.7 L1165.4 913.9 L1166.2 913.7 L1166.9 914.4 L1167.7 914.6 L1168.5 914.5 L1169.2 914.4 L1170.0 913.9 L1170.7 913.6 L1171.5 913.7 L1172.2 914.2 L1173.0 913.9 L1173.8 914.2 L1174.5 914.9 L1175.3 914.9 L1176.0 914.5 L1176.8 914.3 L1177.6 914.3 L1178.3 914.2 L1179.1 913.8 L1179.8 914.2 L1180.6 914.5 L1181.3 915.1 L1182.1 914.6 L1182.9 915.1 L1183.6 914.8 L1184.4 913.9 L1185.1 914.4 L1185.9 914.4 L1186.7 913.8 L1187.4 915.1 L1188.2 914.5 L1188.9 914.7 L1189.7 914.9 L1190.4 915.1 L1191.2 914.6 L1192.0 914.4 L1192.7 914.8 L1193.5 914.6 L1194.2 915.2 L1195.0 916.0 L1195.8 915.4 L1196.5 914.6 L1196.7 899.5 L1197.3 915.3 L1198.0 914.7 L1198.8 914.9 L1199.5 915.0 L1200.3 914.8 L1201.1 915.0 L1201.8 915.8 L1202.6 916.0 L1203.3 915.4 L1204.1 916.5 L1204.9 916.0 L1205.6 915.8 L1206.4 916.0 L1207.1 915.8 L1207.9 916.3 L1208.6 917.1 L1209.4 917.3 L1210.2 917.3 L1210.9 917.1 L1211.7 916.7 L1212.4 917.1 L1213.2 917.0 L1214.0 916.8 L1214.7 916.5 L1215.5 917.4 L1216.2 917.4 L1217.0 918.3 L1217.7 918.0 L1218.5 917.7 L1219.6 640.9 L1220.4 727.8 L1221.1 823.7 L1221.9 870.9 L1222.6 891.0 L1223.4 895.0 L1224.1 898.0 L1224.9 900.8 L1225.7 902.6 L1226.4 903.1 L1227.2 903.3 L1227.9 903.8 L1228.7 904.6 L1229.5 905.7 L1230.2 905.5 L1231.0 905.8 L1231.7 907.2 L1232.5 906.8 L1233.2 907.0 L1234.0 906.8 L1234.8 907.4 L1235.5 907.1 L1236.3 908.0 L1237.0 908.7 L1237.8 908.8 L1238.6 908.6 L1239.3 909.1 L1240.1 908.5 L1240.8 908.5 L1241.6 909.4 L1242.3 910.0 L1243.1 910.4 L1243.9 910.5 L1244.6 911.4 L1245.4 911.6 L1246.1 911.3 L1246.9 910.3 L1247.7 911.3 L1248.4 911.3 L1249.2 911.3 L1249.9 910.9 L1250.7 911.4 L1251.4 912.3 L1252.2 912.3 L1253.0 912.2 L1253.7 911.6 L1254.5 911.6 L1255.2 911.4 L1256.0 911.5 L1256.8 911.5 L1257.5 912.3 L1258.3 912.3 L1259.0 912.8 L1259.8 912.7 L1260.5 912.0 L1261.3 912.5 L1262.1 911.6 L1262.8 912.1 L1263.6 912.4 L1264.3 912.9 L1265.1 912.1 L1265.9 913.1 L1266.6 913.2 L1267.4 913.2 L1268.1 911.6 L1268.9 912.1 L1269.6 912.3 L1270.4 912.2 L1271.2 913.1 L1271.9 912.8 L1272.7 913.5 L1273.4 913.3 L1274.2 912.6 L1275.0 912.3 L1275.7 912.4 L1276.5 912.5 L1277.2 912.8 L1278.0 912.7 L1278.7 913.4 L1279.5 912.8 L1280.3 912.4 L1281.0 913.2 L1281.8 913.1 L1282.5 912.6 L1283.3 912.4 L1284.1 912.8 L1284.8 913.4 L1285.6 913.2 L1286.3 913.2 L1287.1 913.2 L1287.8 914.1 L1288.6 913.3 L1289.4 913.1 L1290.1 913.2 L1290.9 913.2 L1291.6 912.7 L1292.4 913.6 L1293.2 913.9 L1293.9 913.8 L1294.7 914.0 L1295.4 913.4 L1296.2 913.1 L1296.9 912.9 L1297.7 913.3 L1298.5 912.9 L1299.2 913.5 L1300.0 913.4 L1300.7 913.8 L1301.5 913.8 L1302.3 913.9 L1303.0 913.5 L1303.8 913.2 L1304.5 913.2 L1305.3 912.7 L1306.0 913.8 L1306.8 913.7 L1307.6 914.0 L1308.3 913.9 L1309.1 914.5 L1309.8 913.7 L1310.6 913.7 L1311.4 913.9 L1312.1 914.1 L1312.9 914.0 L1313.6 914.2 L1314.4 914.0 L1315.1 914.8 L1315.9 914.8 L1316.7 914.6 L1317.4 914.1 L1318.2 913.8 L1318.9 913.7 L1319.7 914.2 L1320.5 914.5 L1321.2 914.2 L1322.0 914.9 L1322.7 914.7 L1323.5 914.9 L1324.2 914.3 L1325.0 914.4 L1325.8 914.4 L1326.5 914.4 L1327.3 913.8 L1328.0 914.9 L1328.8 914.9 L1329.6 914.6 L1330.3 915.1 L1331.1 914.3 L1331.8 914.6 L1332.6 914.8 L1333.3 914.2 L1334.1 914.7 L1334.9 914.9 L1335.6 915.3 L1336.4 914.7 L1337.1 915.3 L1337.9 915.1 L1338.7 914.9 L1339.4 914.5 L1340.2 914.9 L1340.9 914.7 L1341.7 915.0 L1342.4 915.6 L1343.2 915.4 L1344.0 915.7 L1344.7 915.4 L1345.5 915.2 L1346.2 914.6 L1347.0 915.0 L1347.8 915.2 L1348.5 914.9 L1349.3 915.6 L1350.0 915.7 L1350.8 915.3 L1351.5 915.7 L1352.3 915.9 L1353.1 914.9 L1353.8 914.5 L1354.6 915.1 L1355.3 914.9 L1356.1 915.9 L1356.9 915.7 L1357.6 915.8 L1358.4 915.7 L1359.1 915.9 L1359.9 915.2 L1360.6 915.0 L1361.4 915.2 L1362.2 915.0 L1362.9 915.8 L1363.7 915.5 L1364.4 916.0 L1365.2 915.8 L1366.0 915.6 L1366.7 916.3 L1367.5 914.8 L1368.2 915.9 L1369.0 915.0 L1369.7 915.6 L1370.5 916.5 L1371.3 915.6 L1372.0 915.8 L1372.8 916.6 L1373.5 916.2 L1374.3 915.6 L1375.1 915.6 L1375.8 915.4 L1376.6 915.7 L1377.3 916.3 L1378.1 916.2 L1378.8 916.5 L1379.6 916.8 L1380.4 917.0 L1381.1 915.9 L1381.9 915.9 L1382.6 915.6 L1383.4 915.6 L1384.2 915.8 L1384.9 916.1 L1385.7 916.0 L1386.4 916.0 L1387.2 916.4 L1387.9 916.5 L1388.7 916.4 L1389.5 915.8 L1390.2 915.9 L1391.0 916.2 L1391.7 916.5 L1392.5 916.6 L1393.3 916.7 L1394.0 917.3 L1394.8 916.6 L1395.5 916.2 L1396.3 915.7 L1397.0 916.3 L1397.8 916.1 L1398.6 916.8 L1399.3 916.5 L1400.1 917.1 L1400.8 917.2 L1401.6 917.4 L1402.4 916.4 L1403.1 916.8 L1403.9 916.3 L1404.6 916.2 L1405.4 916.2 L1406.1 916.4 L1406.9 916.8 L1407.7 916.3 L1408.4 917.2 L1409.2 917.0 L1409.9 916.3 L1410.7 916.4 L1411.5 917.0 L1412.2 916.5 L1413.0 916.4 L1413.7 917.4 L1414.5 916.9 L1415.2 917.1 L1416.0 916.9 L1416.8 916.9 L1417.5 916.7 L1418.3 916.6 L1419.0 916.2 L1419.8 916.5 L1420.6 916.8 L1421.3 917.0 L1422.1 917.2 L1422.8 917.0 L1423.6 917.0 L1424.3 916.8 L1425.1 916.3 L1425.9 916.7 L1426.6 916.5 L1427.4 916.4 L1428.1 916.9 L1428.9 917.1 L1429.7 917.3 L1430.4 917.3 L1431.2 917.1 L1431.9 916.5 L1432.7 917.1 L1433.4 916.9 L1434.2 916.7 L1435.0 917.2 L1435.7 917.4 L1436.5 917.3 L1437.2 917.4 L1438.0 918.1 L1438.8 917.3 L1439.5 917.1 L1440.3 916.6 L1441.0 916.9 L1441.8 917.5 L1442.5 917.3 L1443.3 917.8 L1444.1 917.8 L1444.8 917.7 L1445.6 917.9 L1446.3 917.0 L1447.1 917.0 L1447.9 916.6 L1448.6 917.6 L1449.4 917.1 L1450.1 917.4 L1450.9 918.0 L1451.6 917.4 L1452.4 917.6 L1453.2 917.2 L1453.9 917.0 L1454.7 916.8 L1455.4 917.1 L1456.2 916.9 L1457.0 917.0 L1457.7 917.5 L1458.5 917.6 L1459.2 917.5 L1460.0 917.9 L1460.7 917.6 L1461.5 917.1 L1462.3 916.6 L1463.0 917.2 L1463.8 916.7 L1464.5 917.3 L1465.3 917.7 L1466.1 917.6 L1466.8 917.5 L1467.6 917.5 L1468.3 918.0 L1469.1 917.0 L1469.8 917.0 L1470.6 917.4 L1471.4 917.3 L1472.1 917.7 L1472.9 917.4 L1473.6 917.5 L1474.4 918.8 L1475.2 917.8 L1475.9 917.4 L1476.7 917.2 L1477.4 917.4 L1478.2 916.8 L1478.9 917.3 L1479.7 917.5 L1480.5 918.0 L1481.2 917.9 L1482.0 917.7 L1482.7 917.6 L1483.5 916.8 L1484.3 917.5 L1485.0 916.8 L1485.8 917.1 L1486.5 917.8 L1487.3 917.4 L1488.0 918.1 L1488.8 917.9 L1489.6 918.2 L1490.3 918.0 L1491.1 917.5 L1491.8 917.7 L1492.6 917.2 L1493.4 916.9 L1494.1 917.2 L1494.9 917.7 L1495.6 917.6 L1496.4 918.2 L1497.1 918.2 L1497.9 918.6 L1498.7 917.6 L1499.4 917.6 L1500.2 916.9 L1500.9 917.2 L1501.7 917.4 L1502.5 917.7 L1503.2 917.9 L1504.0 918.0 L1504.7 917.9 L1505.5 917.9 L1506.2 918.0 L1507.0 917.7 L1507.8 917.6 L1508.5 917.7 L1509.3 917.8 L1510.0 917.0 L1510.8 917.8 L1511.6 918.1 L1512.3 917.9 L1513.1 918.4 L1513.8 918.3 L1514.6 917.6 L1515.3 917.5 L1516.1 917.8 L1516.9 917.4 L1517.6 917.4 L1518.4 918.1 L1519.1 918.2 L1519.9 918.6 L1520.7 918.3 L1521.4 918.4 L1522.2 917.7 L1522.9 917.3 L1523.7 917.5 L1524.4 916.7 L1525.2 917.6 L1526.0 918.0 L1526.7 918.1 L1527.5 918.1 L1528.2 918.5 L1529.0 918.2 L1529.8 918.4 L1530.5 918.3 L1531.3 917.7 L1532.0 917.8 L1532.8 917.7 L1533.5 917.7 L1534.3 918.0 L1535.1 918.2 L1535.8 918.5 L1536.6 917.8 L1537.3 918.1 L1538.1 918.1 L1538.9 917.3 L1539.6 917.5 L1540.4 917.3 L1541.1 917.7 L1541.9 918.0 L1542.6 918.5 L1543.4 918.4 L1544.2 918.0 L1544.9 918.3 L1545.7 918.3 L1546.4 918.1 L1547.2 917.0 L1548.0 917.7 L1548.7 917.0 L1549.5 917.8 L1550.2 918.1 L1551.0 918.4 L1551.7 918.5 L1552.5 918.4" fill="none" stroke="#a064c3" stroke-width="3.00" stroke-linejoin="round" stroke-linecap="square"/>
<polygon points="287.00,103.75 282.23,118.43 266.79,118.43 279.28,127.51 274.51,142.19 287.00,133.12 299.49,142.19 294.72,127.51 307.21,118.43 291.77,118.43" fill="none" stroke="#a064c3" stroke-width="5.00" stroke-linejoin="bevel"/>
<polygon points="510.50,874.95 505.73,889.63 490.29,889.63 502.78,898.71 498.01,913.39 510.50,904.32 522.99,913.39 518.22,898.71 530.71,889.63 515.27,889.63" fill="none" stroke="#a064c3" stroke-width="5.00" stroke-linejoin="bevel"/>
<polygon points="736.00,895.05 731.23,909.73 715.79,909.73 728.28,918.81 723.51,933.49 736.00,924.42 748.49,933.49 743.72,918.81 756.21,909.73 740.77,909.73" fill="none" stroke="#a064c3" stroke-width="5.00" stroke-linejoin="bevel"/>
<polygon points="961.00,892.05 956.23,906.73 940.79,906.73 953.28,915.81 948.51,930.49 961.00,921.42 973.49,930.49 968.72,915.81 981.21,906.73 965.77,906.73" fill="none" stroke="#a064c3" stroke-width="5.00" stroke-linejoin="bevel"/>
<polygon points="1186.00,892.05 1181.23,906.73 1165.79,906.73 1178.28,915.81 1173.51,930.49 1186.00,921.42 1198.49,930.49 1193.72,915.81 1206.21,906.73 1190.77,906.73" fill="none" stroke="#a064c3" stroke-width="5.00" stroke-linejoin="bevel"/>
<polygon points="1411.50,895.45 1406.73,910.13 1391.29,910.13 1403.78,919.21 1399.01,933.89 1411.50,924.82 1423.99,933.89 1419.22,919.21 1431.71,910.13 1416.27,910.13" fill="none" stroke="#a064c3" stroke-width="5.00" stroke-linejoin="bevel"/>
</g>
<rect x="223" y="67" width="1393" height="904" fill="none" stroke="#000" stroke-width="4" stroke-linejoin="miter"/>
<rect x="285.00" y="969" width="4" height="18" fill="#000"/>
<text x="287.00" y="1038.4" font-size="49.5" text-anchor="middle" stroke="#000" stroke-width="1">0</text>
<rect x="443.00" y="969" width="4" height="18" fill="#000"/>
<text x="445.00" y="1038.4" font-size="49.5" text-anchor="middle" stroke="#000" stroke-width="1">25</text>
<rect x="601.00" y="969" width="4" height="18" fill="#000"/>
<text x="603.00" y="1038.4" font-size="49.5" text-anchor="middle" stroke="#000" stroke-width="1">50</text>
<rect x="759.00" y="969" width="4" height="18" fill="#000"/>
<text x="761.00" y="1038.4" font-size="49.5" text-anchor="middle" stroke="#000" stroke-width="1">75</text>
<rect x="917.00" y="969" width="4" height="18" fill="#000"/>
<text x="919.00" y="1038.4" font-size="49.5" text-anchor="middle" stroke="#000" stroke-width="1">100</text>
<rect x="1075.00" y="969" width="4" height="18" fill="#000"/>
<text x="1077.00" y="1038.4" font-size="49.5" text-anchor="middle" stroke="#000" stroke-width="1">125</text>
<rect x="1233.00" y="969" width="4" height="18" fill="#000"/>
<text x="1235.00" y="1038.4" font-size="49.5" text-anchor="middle" stroke="#000" stroke-width="1">150</text>
<rect x="1391.00" y="969" width="4" height="18" fill="#000"/>
<text x="1393.00" y="1038.4" font-size="49.5" text-anchor="middle" stroke="#000" stroke-width="1">175</text>
<rect x="1549.00" y="969" width="4" height="18" fill="#000"/>
<text x="1551.00" y="1038.4" font-size="49.5" text-anchor="middle" stroke="#000" stroke-width="1">200</text>
<rect x="209" y="929.00" width="14" height="4" fill="#000"/>
<text x="194.1" y="949.50" font-size="49.5" text-anchor="end" stroke="#000" stroke-width="1">6</text>
<rect x="209" y="819.43" width="14" height="4" fill="#000"/>
<text x="194.1" y="839.93" font-size="49.5" text-anchor="end" stroke="#000" stroke-width="1">7</text>
<rect x="209" y="709.86" width="14" height="4" fill="#000"/>
<text x="194.1" y="730.36" font-size="49.5" text-anchor="end" stroke="#000" stroke-width="1">8</text>
<rect x="209" y="600.28" width="14" height="4" fill="#000"/>
<text x="194.1" y="620.78" font-size="49.5" text-anchor="end" stroke="#000" stroke-width="1">9</text>
<rect x="209" y="490.71" width="14" height="4" fill="#000"/>
<text x="194.1" y="511.21" font-size="49.5" text-anchor="end" stroke="#000" stroke-width="1">10</text>
<rect x="209" y="381.14" width="14" height="4" fill="#000"/>
<text x="194.1" y="401.64" font-size="49.5" text-anchor="end" stroke="#000" stroke-width="1">11</text>
<rect x="209" y="271.57" width="14" height="4" fill="#000"/>
<text x="194.1" y="292.07" font-size="49.5" text-anchor="end" stroke="#000" stroke-width="1">12</text>
<rect x="209" y="162.00" width="14" height="4" fill="#000"/>
<text x="194.1" y="182.50" font-size="49.5" text-anchor="end" stroke="#000" stroke-width="1">13</text>
<text x="919.5" y="1115.7" font-size="66.67" text-anchor="middle" stroke="#000" stroke-width="1.6">Time (h)</text>
<text transform="translate(95.3,520.1) rotate(-90)" font-size="66.67" text-anchor="middle" stroke="#000" stroke-width="1.6" style="font-kerning:none">Vapor concentration (g/m<tspan font-size="46.67" dy="-25">3</tspan><tspan dy="25" dx="2.4">)</tspan></text>
<path d="M589.50 121.50H672.50" stroke="#0076be" stroke-width="3.00" stroke-linecap="square"/>
<circle cx="631.00" cy="121.50" r="16.66" fill="none" stroke="#0076be" stroke-width="5.00"/>
<text x="705.60" y="135.90" font-size="41.67" stroke="#000" stroke-width="1.2">@ 0 cm</text>
<path d="M589.50 182.50H672.50" stroke="#ff7f00" stroke-width="3.00" stroke-linecap="square"/>
<polygon points="614.34,165.84 647.66,165.84 631.00,199.16" fill="none" stroke="#ff7f00" stroke-width="5.00" stroke-linejoin="round"/>
<text x="705.60" y="196.90" font-size="41.67" stroke="#000" stroke-width="1.2">@ 2 cm</text>
<path d="M946.50 121.50H1029.50" stroke="#00a014" stroke-width="3.00" stroke-linecap="square"/>
<rect x="971.34" y="104.84" width="33.33" height="33.33" fill="none" stroke="#00a014" stroke-width="5.00" stroke-linejoin="round"/>
<text x="1062.60" y="135.90" font-size="41.67" stroke="#000" stroke-width="1.2">@ 4 cm</text>
<path d="M946.50 182.50H1029.50" stroke="#f22023" stroke-width="3.00" stroke-linecap="square"/>
<path d="M971.34 165.84L1004.66 199.16M971.34 199.16L1004.66 165.84" fill="none" stroke="#f22023" stroke-width="5.00" stroke-linecap="butt"/>
<text x="1062.60" y="196.90" font-size="41.67" stroke="#000" stroke-width="1.2">@ 6 cm</text>
<path d="M1304.50 121.50H1387.50" stroke="#a064c3" stroke-width="3.00" stroke-linecap="square"/>
<polygon points="1346.00,100.25 1341.23,114.93 1325.79,114.93 1338.28,124.01 1333.51,138.69 1346.00,129.62 1358.49,138.69 1353.72,124.01 1366.21,114.93 1350.77,114.93" fill="none" stroke="#a064c3" stroke-width="5.00" stroke-linejoin="bevel"/>
<text x="1420.60" y="135.90" font-size="41.67" stroke="#000" stroke-width="1.2">@ 8 cm</text>
</svg></body></html>
